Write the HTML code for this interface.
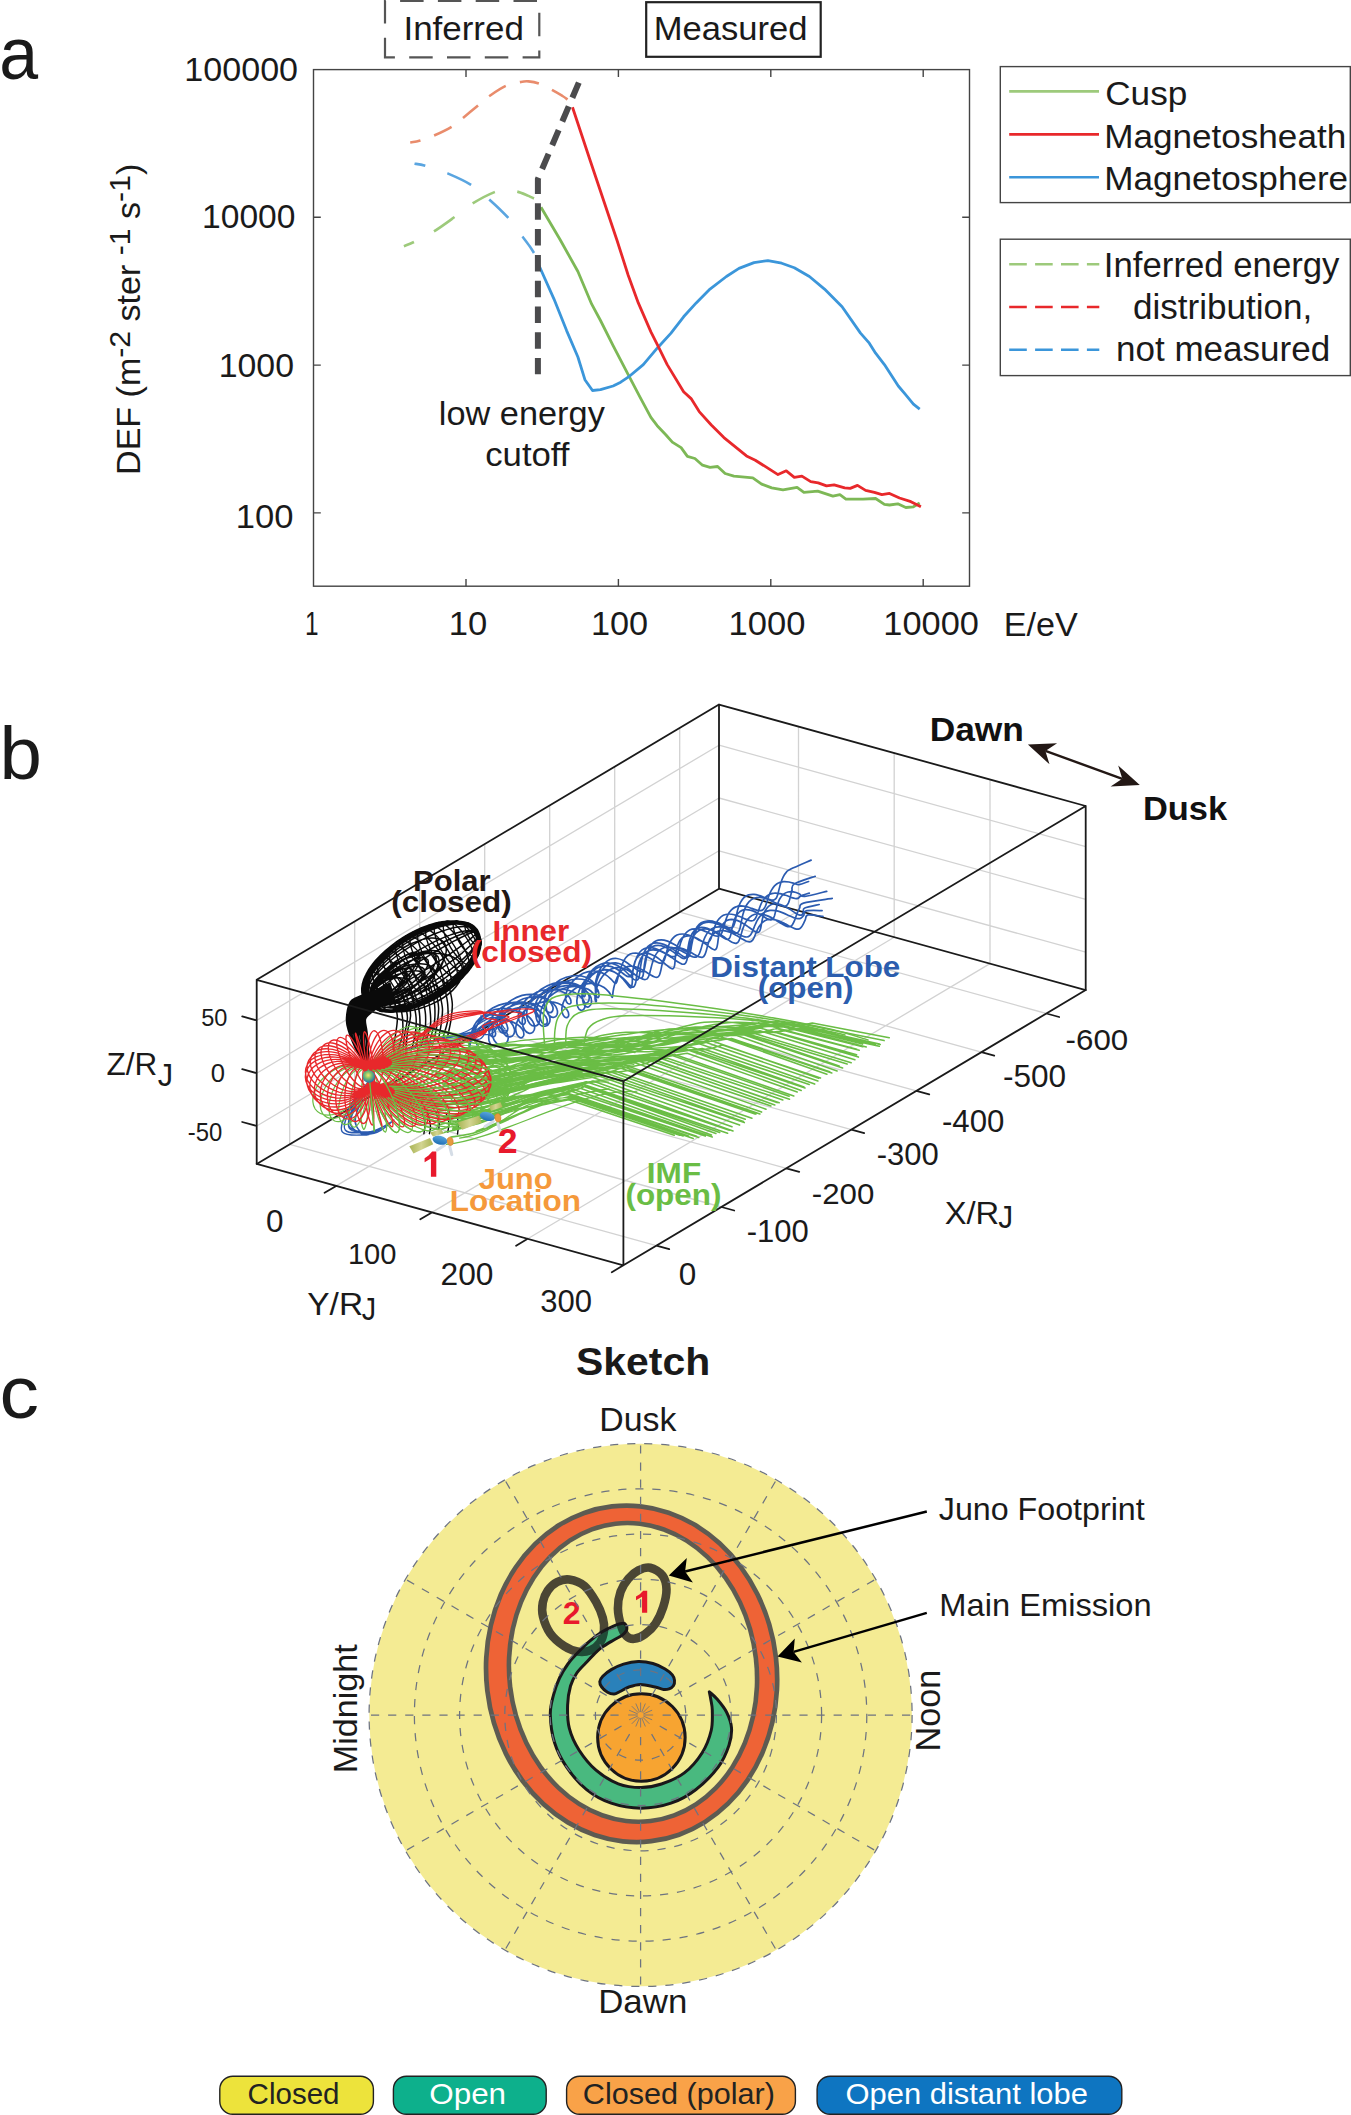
<!DOCTYPE html>
<html><head><meta charset="utf-8"><title>Figure</title>
<style>
html,body{margin:0;padding:0;background:#fff;}
svg{display:block;font-family:"Liberation Sans",sans-serif;}
</style></head>
<body>
<svg width="1351" height="2115" viewBox="0 0 1351 2115">
<rect width="1351" height="2115" fill="#fff"/>
<g id="gen_a">
<rect x="313.5" y="69.6" width="656.0" height="516.6" fill="none" stroke="#444" stroke-width="1.4"/>
<path d="M466.0,69.6v7.3 M466.0,586.2v-7.3" stroke="#444" stroke-width="1.4"/>
<path d="M618.4,69.6v7.3 M618.4,586.2v-7.3" stroke="#444" stroke-width="1.4"/>
<path d="M770.8,69.6v7.3 M770.8,586.2v-7.3" stroke="#444" stroke-width="1.4"/>
<path d="M923.2,69.6v7.3 M923.2,586.2v-7.3" stroke="#444" stroke-width="1.4"/>
<path d="M313.5,217.3h7.3 M969.5,217.3h-7.3" stroke="#444" stroke-width="1.4"/>
<path d="M313.5,365.1h7.3 M969.5,365.1h-7.3" stroke="#444" stroke-width="1.4"/>
<path d="M313.5,512.9h7.3 M969.5,512.9h-7.3" stroke="#444" stroke-width="1.4"/>
<path d="M403.9,246.2 C405.6,245.5 409.1,244.4 414.0,242.0 C418.9,239.6 426.9,235.7 433.6,231.6 C440.3,227.5 447.7,222.0 454.2,217.3 C460.7,212.6 465.9,207.7 472.6,203.5 C479.3,199.3 488.9,194.3 494.5,192.1 C500.1,189.9 502.2,190.6 506.0,190.5 C509.8,190.4 513.5,190.7 517.2,191.6 C521.0,192.5 525.7,194.8 528.5,195.9 C531.3,197.1 533.1,198.1 534.0,198.5" fill="none" stroke="#9dca7b" stroke-width="2.6" stroke-dasharray="25 22.7" stroke-dashoffset="14.1"/>
<path d="M414.5,163.7 C416.3,164.0 419.8,164.1 425.3,165.7 C430.8,167.3 439.8,170.2 447.4,173.3 C454.9,176.5 463.6,180.2 470.6,184.6 C477.6,189.0 483.1,194.0 489.5,199.7 C495.9,205.4 503.4,212.5 508.9,218.6 C514.4,224.7 518.7,231.6 522.2,236.2 C525.7,240.8 527.7,243.4 529.7,246.2 C531.7,249.0 533.3,251.9 534.0,253.0" fill="none" stroke="#5aa5e0" stroke-width="2.6" stroke-dasharray="26.5 23.3" stroke-dashoffset="15.5"/>
<path d="M410.2,142.5 C411.9,142.2 416.3,141.7 420.3,140.5 C424.3,139.3 428.9,137.8 434.1,135.5 C439.3,133.2 446.9,129.6 451.7,126.7 C456.5,123.8 458.6,121.5 463.0,117.9 C467.4,114.3 473.8,109.0 478.2,105.3 C482.6,101.6 484.9,99.2 489.5,96.0 C494.1,92.8 500.6,88.2 505.8,85.9 C511.0,83.6 517.1,82.7 520.9,81.9 C524.7,81.2 525.4,81.1 528.5,81.4 C531.6,81.7 535.8,82.4 539.8,83.9 C543.8,85.4 548.6,88.2 552.4,90.2 C556.2,92.2 560.0,94.5 562.5,96.0 C565.0,97.5 566.7,98.9 567.5,99.5" fill="none" stroke="#e98c6c" stroke-width="2.6" stroke-dasharray="19.5 14.5" stroke-dashoffset="9"/>
<polyline points="541.0,207.2 560.3,240.0 577.9,271.5 591.7,304.2 600.5,320.5 613.1,345.7 628.2,374.6 640.8,398.6 650.9,417.4 657.2,425.7 666.0,435.0 672.3,442.1 681.1,447.6 687.4,456.4 694.9,458.5 702.5,465.2 710.0,467.3 717.6,466.5 725.1,473.5 733.9,476.1 752.8,477.8 761.6,484.1 771.7,487.9 783.0,489.9 797.1,487.4 803.9,492.4 817.7,491.2 832.9,496.2 839.9,494.7 845.9,499.2 863.0,499.2 875.6,498.5 884.4,504.3 889.5,505.0 897.8,503.8 905.8,507.5 913.4,506.8 919.7,503.0" fill="none" stroke="#7db856" stroke-width="2.8" stroke-linejoin="round"/>
<polyline points="538.9,265.2 554.0,299.1 566.6,330.6 577.9,357.0 584.9,379.7 592.5,390.5 600.5,389.7 613.1,386.0 620.7,382.2 628.2,377.2 643.3,364.6 657.2,348.2 671.0,333.1 683.6,316.8 696.2,302.9 710.0,289.1 726.4,276.5 739.0,268.4 754.0,262.6 767.9,260.6 781.7,263.2 794.3,267.7 809.4,276.5 824.5,289.1 842.1,306.7 860.5,333.1 869.3,343.2 875.6,353.2 884.4,364.6 898.3,386.0 905.8,394.8 913.4,404.1 919.7,409.1" fill="none" stroke="#3b96da" stroke-width="2.8" stroke-linejoin="round"/>
<polyline points="572.5,107.3 590.0,160.0 616.9,240.0 628.2,275.2 638.3,302.9 650.9,331.9 657.2,344.4 667.2,364.6 683.6,391.8 691.1,398.6 699.2,411.6 711.3,425.0 723.9,437.6 746.5,455.9 755.3,460.2 778.0,474.6 786.3,470.8 794.3,477.3 801.9,476.1 810.7,481.6 818.2,482.9 826.5,485.9 834.1,484.9 844.7,487.9 850.2,488.4 857.5,485.4 865.6,490.4 874.4,492.4 881.9,494.7 889.5,493.4 899.5,498.0 910.9,501.7 920.9,506.8" fill="none" stroke="#e8282b" stroke-width="2.8" stroke-linejoin="round"/>
<path d="M578.8,82.6 L537.9,179 L537.9,374.3" fill="none" stroke="#4b4b4d" stroke-width="6" stroke-dasharray="16.5 9.3"/>
<text transform="translate(-0.70,79.06) scale(0.9400,1)" font-size="74.36" fill="#1a1a1a">a</text>
<path d="M385,57.4V0.8H539.3V57.4Z" fill="none" stroke="#555" stroke-width="2.2" stroke-dasharray="23.5 14.3" stroke-dashoffset="3.9"/>
<text transform="translate(403.45,39.50) scale(1.0311,1)" font-size="33.90" fill="#1a1a1a">Inferred</text>
<rect x="646.2" y="2.2" width="174.5" height="54.6" fill="none" stroke="#222" stroke-width="2.2"/>
<text transform="translate(653.73,40.00) scale(1.0158,1)" font-size="34.04" fill="#1a1a1a">Measured</text>
<text transform="translate(184.34,81.10) scale(1.0165,1)" font-size="33.53" fill="#1a1a1a">100000</text>
<text transform="translate(202.08,228.30) scale(1.0021,1)" font-size="33.53" fill="#1a1a1a">10000</text>
<text transform="translate(218.66,377.20) scale(1.0098,1)" font-size="33.53" fill="#1a1a1a">1000</text>
<text transform="translate(235.81,527.80) scale(1.0320,1)" font-size="33.53" fill="#1a1a1a">100</text>
<text transform="translate(305.07,634.70) scale(0.7269,1)" font-size="33.53" fill="#1a1a1a">1</text>
<text transform="translate(448.80,634.70) scale(1.0321,1)" font-size="33.53" fill="#1a1a1a">10</text>
<text transform="translate(590.93,634.70) scale(1.0224,1)" font-size="33.53" fill="#1a1a1a">100</text>
<text transform="translate(728.51,634.70) scale(1.0309,1)" font-size="33.53" fill="#1a1a1a">1000</text>
<text transform="translate(883.32,634.70) scale(1.0256,1)" font-size="33.53" fill="#1a1a1a">10000</text>
<text transform="translate(1003.67,636.00) scale(1.0211,1)" font-size="33.48" fill="#1a1a1a">E/eV</text>
<text transform="translate(140.3,474.92) rotate(-90) scale(1.0070,1)" fill="#1a1a1a" xml:space="preserve"><tspan font-size="33.8" dy="0">DEF (m</tspan><tspan font-size="30" dy="-10.3">-2</tspan><tspan font-size="33.8" dy="10.3"> ster </tspan><tspan font-size="30" dy="-10.3">-1</tspan><tspan font-size="33.8" dy="10.3"> s</tspan><tspan font-size="30" dy="-10.3">-1</tspan><tspan font-size="33.8" dy="10.3">)</tspan></text>
<text transform="translate(438.77,425.30) scale(1.0599,1)" font-size="32.40" fill="#1a1a1a">low energy</text>
<text transform="translate(485.21,466.40) scale(1.0719,1)" font-size="32.40" fill="#1a1a1a">cutoff</text>
<rect x="1000.3" y="66.6" width="350" height="136" fill="#fff" stroke="#444" stroke-width="1.4"/>
<path d="M1009.2,91.4H1099" stroke="#9dca7b" stroke-width="2.6"/>
<text transform="translate(1105.24,104.80) scale(1.0680,1)" font-size="32.91" fill="#1a1a1a">Cusp</text>
<path d="M1009.2,134.4H1099" stroke="#e8282b" stroke-width="2.6"/>
<text transform="translate(1104.19,147.50) scale(1.0670,1)" font-size="32.91" fill="#1a1a1a">Magnetosheath</text>
<path d="M1009.2,177.2H1099" stroke="#3b96da" stroke-width="2.6"/>
<text transform="translate(1104.19,190.30) scale(1.0673,1)" font-size="32.91" fill="#1a1a1a">Magnetosphere</text>
<rect x="1000.3" y="239.2" width="350" height="136.4" fill="#fff" stroke="#444" stroke-width="1.4"/>
<path d="M1009.2,264.3H1099.3" stroke="#9dca7b" stroke-width="2.6" stroke-dasharray="17.6 8.3"/>
<path d="M1009.2,307H1099.3" stroke="#e8282b" stroke-width="2.6" stroke-dasharray="17.6 8.3"/>
<path d="M1009.2,349.8H1099.3" stroke="#3b96da" stroke-width="2.6" stroke-dasharray="17.6 8.3"/>
<text transform="translate(1103.87,277.10) scale(0.9960,1)" font-size="34.89" fill="#1a1a1a">Inferred energy</text>
<text transform="translate(1132.90,318.50) scale(1.0061,1)" font-size="34.89" fill="#1a1a1a">distribution,</text>
<text transform="translate(1116.02,360.80) scale(1.0041,1)" font-size="34.89" fill="#1a1a1a">not measured</text>
</g>
<g id="gen_b">
<path d="M289.7,1144.3L656.4,1245.7M289.7,1144.3L289.7,960.2M354.7,1105.6L721.4,1207.0M354.7,1105.6L354.7,921.5M419.7,1066.9L786.4,1168.3M419.7,1066.9L419.7,882.8M484.7,1028.2L851.4,1129.6M484.7,1028.2L484.7,844.1M549.7,989.5L916.4,1090.9M549.7,989.5L549.7,805.4M614.7,950.8L981.4,1052.2M614.7,950.8L614.7,766.7M679.7,912.1L1046.4,1013.5M679.7,912.1L679.7,728.0M336.2,1185.9L798.5,910.7M798.5,910.7L798.5,726.6M431.9,1212.4L894.2,937.2M894.2,937.2L894.2,753.1M527.7,1238.8L990.0,963.6M990.0,963.6L990.0,779.5M256.7,1126.0L719.0,850.8M719.0,850.8L1085.7,952.2M256.7,1073.2L719.0,798.0M719.0,798.0L1085.7,899.4M256.7,1020.4L719.0,745.2M719.0,745.2L1085.7,846.6" fill="none" stroke="#d2d2d2" stroke-width="1.3"/>
<path d="M256.7,1163.9L719.0,888.7M719.0,888.7L1085.7,990.1M719.0,888.7L719.0,704.6" fill="none" stroke="#1a1a1a" stroke-width="1.8" stroke-linecap="round"/>
<path d="M477.5,931.8 C478.0,933.0 479.8,936.5 480.2,939.2 C480.6,941.9 480.5,944.8 480.0,947.9 C479.4,951.0 478.3,954.3 476.8,957.6 C475.3,960.9 473.3,964.4 470.9,967.7 C468.6,971.1 465.7,974.5 462.6,977.8 C459.4,981.1 455.9,984.3 452.2,987.3 C448.5,990.3 444.4,993.2 440.3,995.8 C436.2,998.3 431.8,1000.7 427.5,1002.7 C423.1,1004.8 418.7,1006.5 414.4,1007.9 C410.1,1009.3 405.7,1010.4 401.7,1011.0 C397.6,1011.7 393.6,1012.0 390.0,1011.9 C386.3,1011.8 382.9,1011.3 379.9,1010.5 C376.9,1009.6 374.2,1008.4 371.9,1006.8 C369.7,1005.3 367.8,1003.4 366.5,1001.2 C365.1,999.0 364.2,996.5 363.8,993.8 C363.4,991.1 363.5,988.2 364.0,985.1 C364.6,982.0 365.7,978.7 367.2,975.4 C368.7,972.1 370.7,968.6 373.1,965.3 C375.4,961.9 378.3,958.5 381.4,955.2 C384.6,951.9 388.1,948.7 391.8,945.7 C395.5,942.7 399.6,939.8 403.7,937.2 C407.8,934.7 412.2,932.3 416.5,930.3 C420.9,928.2 425.3,926.5 429.6,925.1 C433.9,923.7 438.3,922.6 442.3,922.0 C446.4,921.3 450.4,921.0 454.0,921.1 C457.7,921.2 461.1,921.7 464.1,922.5 C467.1,923.4 469.8,924.6 472.1,926.2 C474.3,927.7 476.6,930.9 477.5,931.8 M477.0,931.3 C477.4,932.5 479.2,935.9 479.6,938.6 C480.0,941.2 479.9,944.2 479.3,947.2 C478.7,950.3 477.6,953.6 476.1,956.8 C474.6,960.1 472.6,963.6 470.2,966.9 C467.8,970.2 464.9,973.7 461.8,976.9 C458.7,980.2 455.1,983.4 451.4,986.4 C447.7,989.4 443.6,992.2 439.5,994.8 C435.4,997.4 431.0,999.8 426.7,1001.8 C422.4,1003.9 417.9,1005.6 413.6,1007.0 C409.3,1008.4 405.0,1009.5 400.9,1010.2 C396.9,1010.8 392.9,1011.2 389.3,1011.1 C385.7,1011.0 382.2,1010.6 379.2,1009.8 C376.3,1009.0 373.6,1007.8 371.3,1006.2 C369.1,1004.7 367.3,1002.8 365.9,1000.7 C364.6,998.6 363.7,996.1 363.3,993.4 C362.9,990.8 363.0,987.8 363.6,984.8 C364.2,981.7 365.3,978.4 366.8,975.2 C368.3,971.9 370.4,968.5 372.8,965.1 C375.2,961.8 378.0,958.3 381.1,955.1 C384.3,951.8 387.8,948.6 391.6,945.6 C395.3,942.6 399.3,939.8 403.5,937.2 C407.6,934.6 412.0,932.2 416.3,930.2 C420.6,928.1 425.0,926.4 429.3,925.0 C433.6,923.6 438.0,922.5 442.0,921.8 C446.1,921.2 450.0,920.8 453.7,920.9 C457.3,921.0 460.7,921.4 463.7,922.2 C466.7,923.0 469.4,924.2 471.6,925.8 C473.8,927.3 476.1,930.4 477.0,931.3 M478.2,932.3 C478.6,933.5 480.4,936.8 480.7,939.5 C481.1,942.1 481.0,945.0 480.4,948.0 C479.8,951.0 478.7,954.3 477.1,957.5 C475.6,960.8 473.6,964.2 471.2,967.5 C468.8,970.9 465.9,974.3 462.7,977.5 C459.6,980.7 456.0,983.9 452.3,986.9 C448.6,989.9 444.5,992.8 440.4,995.4 C436.3,997.9 431.9,1000.3 427.6,1002.4 C423.3,1004.4 418.8,1006.2 414.6,1007.6 C410.3,1009.0 406.0,1010.1 401.9,1010.8 C397.9,1011.5 393.9,1011.8 390.3,1011.8 C386.7,1011.8 383.3,1011.3 380.3,1010.5 C377.4,1009.8 374.7,1008.6 372.5,1007.1 C370.3,1005.6 368.5,1003.8 367.1,1001.7 C365.8,999.6 365.0,997.1 364.6,994.5 C364.2,991.9 364.4,988.9 365.0,985.9 C365.6,982.9 366.7,979.7 368.2,976.4 C369.7,973.2 371.8,969.7 374.2,966.4 C376.6,963.1 379.5,959.7 382.6,956.5 C385.7,953.2 389.3,950.0 393.0,947.0 C396.7,944.0 400.8,941.2 404.9,938.6 C409.1,936.0 413.4,933.6 417.7,931.6 C422.0,929.5 426.5,927.8 430.8,926.3 C435.1,924.9 439.4,923.9 443.4,923.2 C447.5,922.5 451.4,922.1 455.0,922.2 C458.6,922.2 462.0,922.6 465.0,923.4 C468.0,924.2 470.7,925.4 472.9,926.8 C475.1,928.3 477.3,931.4 478.2,932.3 M477.9,931.4 C478.3,932.5 480.0,935.8 480.4,938.4 C480.7,941.0 480.6,943.9 480.0,946.9 C479.3,949.8 478.2,953.0 476.6,956.3 C475.1,959.5 473.0,962.8 470.6,966.1 C468.2,969.4 465.3,972.8 462.1,976.0 C459.0,979.2 455.4,982.5 451.7,985.4 C448.0,988.4 443.9,991.3 439.8,993.8 C435.7,996.4 431.3,998.8 427.0,1000.9 C422.7,1002.9 418.2,1004.7 414.0,1006.1 C409.7,1007.6 405.4,1008.7 401.4,1009.4 C397.4,1010.1 393.4,1010.5 389.8,1010.5 C386.3,1010.5 382.9,1010.1 379.9,1009.3 C377.0,1008.6 374.3,1007.5 372.2,1006.0 C370.0,1004.6 368.2,1002.8 366.9,1000.7 C365.6,998.7 364.8,996.3 364.4,993.7 C364.1,991.1 364.2,988.2 364.9,985.2 C365.5,982.3 366.6,979.0 368.2,975.8 C369.7,972.6 371.8,969.2 374.2,965.9 C376.6,962.6 379.5,959.3 382.7,956.0 C385.8,952.8 389.4,949.6 393.1,946.7 C396.9,943.7 400.9,940.8 405.0,938.2 C409.2,935.7 413.5,933.3 417.8,931.2 C422.1,929.2 426.6,927.4 430.8,925.9 C435.1,924.5 439.4,923.4 443.4,922.7 C447.5,922.0 451.4,921.6 455.0,921.6 C458.5,921.6 461.9,922.0 464.9,922.7 C467.8,923.5 470.5,924.6 472.7,926.0 C474.8,927.5 477.0,930.5 477.9,931.4 M477.8,932.2 C478.2,933.3 479.8,936.4 480.1,938.9 C480.3,941.4 480.1,944.1 479.4,947.0 C478.7,949.9 477.6,953.0 475.9,956.1 C474.3,959.3 472.2,962.6 469.8,965.8 C467.3,969.0 464.4,972.3 461.2,975.5 C458.0,978.7 454.4,981.8 450.7,984.8 C447.0,987.7 442.9,990.6 438.8,993.2 C434.7,995.7 430.3,998.1 426.0,1000.2 C421.7,1002.3 417.3,1004.1 413.1,1005.6 C408.8,1007.1 404.6,1008.2 400.6,1009.0 C396.6,1009.8 392.7,1010.3 389.2,1010.3 C385.7,1010.4 382.4,1010.1 379.5,1009.5 C376.6,1008.8 374.0,1007.8 371.9,1006.5 C369.8,1005.1 368.1,1003.4 366.9,1001.5 C365.6,999.5 364.9,997.2 364.6,994.7 C364.3,992.3 364.5,989.5 365.2,986.6 C365.9,983.7 367.1,980.6 368.7,977.5 C370.3,974.4 372.4,971.1 374.9,967.8 C377.3,964.6 380.3,961.3 383.4,958.1 C386.6,955.0 390.2,951.8 393.9,948.9 C397.7,945.9 401.7,943.1 405.9,940.5 C410.0,937.9 414.3,935.5 418.6,933.4 C422.9,931.4 427.3,929.5 431.6,928.1 C435.8,926.6 440.1,925.4 444.0,924.6 C448.0,923.8 451.9,923.4 455.4,923.3 C458.9,923.2 462.3,923.5 465.1,924.2 C468.0,924.8 470.6,925.8 472.7,927.2 C474.8,928.5 476.9,931.3 477.8,932.2 M477.6,930.9 C477.9,931.9 479.3,934.7 479.5,936.9 C479.6,939.2 479.3,941.8 478.5,944.5 C477.7,947.1 476.4,950.1 474.7,953.0 C472.9,956.0 470.7,959.1 468.2,962.2 C465.7,965.3 462.7,968.5 459.4,971.5 C456.2,974.6 452.6,977.7 448.8,980.6 C445.1,983.5 441.0,986.3 436.9,988.9 C432.8,991.4 428.4,993.9 424.2,996.0 C419.9,998.1 415.6,1000.0 411.4,1001.6 C407.2,1003.1 403.0,1004.4 399.1,1005.4 C395.3,1006.3 391.5,1006.9 388.1,1007.1 C384.7,1007.4 381.5,1007.3 378.7,1006.8 C375.9,1006.4 373.5,1005.5 371.5,1004.4 C369.5,1003.3 367.9,1001.8 366.9,1000.1 C365.8,998.3 365.1,996.3 365.0,994.0 C364.9,991.7 365.2,989.2 366.0,986.5 C366.8,983.8 368.1,980.9 369.8,977.9 C371.5,975.0 373.7,971.8 376.3,968.8 C378.8,965.7 381.8,962.5 385.0,959.4 C388.3,956.3 391.9,953.2 395.7,950.4 C399.4,947.5 403.5,944.6 407.6,942.1 C411.7,939.5 416.1,937.1 420.3,935.0 C424.6,932.8 428.9,930.9 433.1,929.4 C437.3,927.8 441.4,926.5 445.3,925.6 C449.2,924.7 453.0,924.1 456.4,923.8 C459.8,923.6 463.0,923.7 465.8,924.1 C468.6,924.6 471.0,925.4 473.0,926.5 C475.0,927.7 476.9,930.1 477.6,930.9 M477.1,931.6 C477.3,932.5 478.4,934.8 478.4,936.8 C478.3,938.8 477.8,941.0 476.8,943.4 C475.8,945.8 474.4,948.5 472.5,951.2 C470.7,953.9 468.3,956.9 465.7,959.7 C463.0,962.6 459.9,965.7 456.6,968.6 C453.3,971.5 449.7,974.5 445.9,977.3 C442.1,980.1 438.0,982.9 433.9,985.5 C429.8,988.1 425.5,990.5 421.3,992.7 C417.1,994.9 412.8,996.9 408.7,998.6 C404.6,1000.2 400.5,1001.7 396.8,1002.8 C393.0,1003.9 389.4,1004.7 386.1,1005.2 C382.9,1005.7 379.8,1005.9 377.2,1005.7 C374.7,1005.5 372.4,1005.0 370.6,1004.1 C368.8,1003.3 367.4,1002.1 366.5,1000.7 C365.6,999.3 365.2,997.5 365.2,995.6 C365.3,993.6 365.8,991.3 366.8,988.9 C367.7,986.5 369.2,983.9 371.1,981.1 C372.9,978.4 375.3,975.5 377.9,972.6 C380.5,969.7 383.6,966.7 386.9,963.8 C390.2,960.8 393.9,957.9 397.7,955.0 C401.5,952.2 405.6,949.4 409.7,946.9 C413.8,944.3 418.1,941.8 422.3,939.7 C426.5,937.5 430.8,935.5 434.9,933.8 C439.0,932.1 443.1,930.7 446.8,929.6 C450.6,928.4 454.2,927.6 457.5,927.1 C460.7,926.7 463.8,926.5 466.3,926.7 C468.9,926.9 471.2,927.4 473.0,928.2 C474.8,929.0 476.4,931.1 477.1,931.6 M477.8,933.5 C477.9,934.2 478.7,936.0 478.5,937.7 C478.2,939.3 477.5,941.2 476.3,943.3 C475.1,945.4 473.5,947.7 471.5,950.2 C469.5,952.6 467.0,955.3 464.2,957.9 C461.4,960.6 458.2,963.4 454.8,966.2 C451.4,969.0 447.7,971.8 443.8,974.6 C440.0,977.3 435.9,980.1 431.8,982.6 C427.7,985.2 423.5,987.7 419.3,989.9 C415.2,992.2 411.0,994.3 407.0,996.1 C403.0,997.9 399.1,999.6 395.4,1000.9 C391.8,1002.2 388.3,1003.3 385.3,1004.0 C382.2,1004.8 379.3,1005.2 377.0,1005.4 C374.6,1005.5 372.5,1005.3 371.0,1004.8 C369.4,1004.3 368.2,1003.5 367.5,1002.4 C366.9,1001.3 366.6,999.9 366.9,998.3 C367.1,996.7 367.9,994.8 369.0,992.7 C370.2,990.6 371.8,988.2 373.9,985.8 C375.9,983.4 378.4,980.7 381.1,978.0 C383.9,975.4 387.1,972.5 390.5,969.8 C393.9,967.0 397.7,964.1 401.5,961.4 C405.3,958.7 409.4,955.9 413.5,953.4 C417.6,950.8 421.9,948.3 426.0,946.1 C430.2,943.8 434.4,941.7 438.4,939.9 C442.3,938.0 446.3,936.4 449.9,935.1 C453.5,933.7 457.0,932.7 460.1,931.9 C463.2,931.2 466.0,930.7 468.4,930.6 C470.8,930.5 472.8,930.7 474.4,931.1 C476.0,931.6 477.2,933.1 477.8,933.5 M478.3,932.3 C478.3,932.8 478.8,934.0 478.3,935.3 C477.8,936.5 476.9,938.1 475.5,939.9 C474.1,941.6 472.3,943.6 470.1,945.8 C467.9,947.9 465.3,950.3 462.4,952.8 C459.4,955.2 456.1,957.8 452.6,960.4 C449.2,963.0 445.3,965.8 441.5,968.4 C437.6,971.0 433.5,973.7 429.4,976.3 C425.3,978.8 421.1,981.4 417.0,983.7 C412.9,986.0 408.8,988.3 404.9,990.2 C401.1,992.2 397.2,994.1 393.8,995.6 C390.3,997.2 387.0,998.5 384.1,999.5 C381.2,1000.5 378.6,1001.3 376.4,1001.8 C374.2,1002.2 372.4,1002.4 371.1,1002.3 C369.7,1002.1 368.8,1001.7 368.4,1001.0 C367.9,1000.3 367.9,999.2 368.4,998.0 C368.9,996.7 369.8,995.2 371.2,993.4 C372.6,991.7 374.4,989.6 376.6,987.5 C378.8,985.3 381.4,982.9 384.3,980.5 C387.3,978.1 390.6,975.4 394.1,972.8 C397.5,970.2 401.4,967.5 405.2,964.9 C409.1,962.2 413.2,959.5 417.3,957.0 C421.4,954.4 425.6,951.9 429.7,949.6 C433.8,947.2 437.9,945.0 441.8,943.0 C445.6,941.0 449.4,939.2 452.9,937.7 C456.4,936.1 459.7,934.8 462.6,933.7 C465.5,932.7 468.1,931.9 470.3,931.5 C472.4,931.0 474.3,930.9 475.6,931.0 C477.0,931.1 477.9,932.1 478.3,932.3 M476.7,931.8 C476.6,932.1 476.7,932.7 476.0,933.6 C475.3,934.5 474.1,935.7 472.5,937.1 C470.9,938.5 468.9,940.1 466.5,942.0 C464.1,943.8 461.3,945.9 458.2,948.1 C455.2,950.3 451.7,952.7 448.2,955.1 C444.6,957.6 440.7,960.1 436.8,962.7 C432.8,965.2 428.7,967.9 424.6,970.4 C420.6,973.0 416.4,975.5 412.4,977.9 C408.3,980.3 404.3,982.7 400.6,984.9 C396.8,987.0 393.1,989.0 389.8,990.8 C386.5,992.6 383.4,994.2 380.7,995.6 C378.0,996.9 375.6,998.0 373.7,998.8 C371.7,999.6 370.1,1000.2 369.0,1000.4 C367.9,1000.7 367.3,1000.6 367.1,1000.3 C366.8,1000.0 367.1,999.4 367.8,998.5 C368.5,997.6 369.7,996.4 371.3,995.0 C372.9,993.6 374.9,991.9 377.3,990.1 C379.7,988.3 382.5,986.2 385.6,984.0 C388.6,981.8 392.0,979.4 395.6,977.0 C399.2,974.5 403.1,971.9 407.0,969.4 C410.9,966.8 415.1,964.2 419.1,961.6 C423.2,959.1 427.4,956.5 431.4,954.1 C435.4,951.7 439.5,949.4 443.2,947.2 C447.0,945.1 450.6,943.0 453.9,941.2 C457.2,939.5 460.4,937.8 463.1,936.5 C465.7,935.2 468.2,934.1 470.1,933.3 C472.1,932.4 473.6,931.9 474.7,931.7 C475.8,931.4 476.4,931.7 476.7,931.8 M476.3,931.9 C476.7,932.9 478.3,936.0 478.6,938.4 C478.9,940.8 478.6,943.5 478.0,946.4 C477.3,949.2 476.1,952.3 474.5,955.4 C472.9,958.5 470.8,961.8 468.4,965.0 C466.0,968.2 463.1,971.5 459.9,974.6 C456.8,977.8 453.2,981.0 449.5,983.9 C445.8,986.9 441.8,989.8 437.7,992.4 C433.6,995.0 429.3,997.4 425.1,999.5 C420.8,1001.7 416.5,1003.5 412.3,1005.1 C408.1,1006.6 403.9,1007.8 399.9,1008.7 C396.0,1009.5 392.1,1010.1 388.7,1010.2 C385.2,1010.3 381.9,1010.1 379.0,1009.6 C376.2,1009.0 373.6,1008.0 371.5,1006.8 C369.4,1005.5 367.7,1003.9 366.5,1002.0 C365.3,1000.1 364.6,997.8 364.3,995.4 C364.0,993.0 364.2,990.3 364.9,987.5 C365.6,984.6 366.8,981.5 368.4,978.4 C370.0,975.3 372.1,972.1 374.5,968.9 C376.9,965.7 379.8,962.3 383.0,959.2 C386.1,956.0 389.7,952.8 393.4,949.9 C397.1,946.9 401.1,944.0 405.2,941.4 C409.2,938.8 413.6,936.4 417.8,934.3 C422.0,932.2 426.4,930.3 430.6,928.8 C434.8,927.2 439.0,926.0 443.0,925.1 C446.9,924.3 450.7,923.8 454.2,923.6 C457.7,923.5 461.0,923.7 463.9,924.3 C466.7,924.9 469.3,925.8 471.3,927.1 C473.4,928.3 475.5,931.1 476.3,931.9 M476.5,933.1 C476.8,934.3 478.5,937.7 478.8,940.3 C479.1,942.9 478.9,945.8 478.2,948.8 C477.6,951.8 476.4,955.0 474.8,958.2 C473.1,961.4 471.0,964.7 468.6,968.0 C466.1,971.2 463.1,974.5 459.9,977.7 C456.7,980.8 453.1,983.9 449.3,986.8 C445.5,989.7 441.4,992.5 437.2,994.9 C433.1,997.4 428.7,999.7 424.3,1001.6 C420.0,1003.5 415.5,1005.2 411.2,1006.5 C406.9,1007.8 402.6,1008.8 398.5,1009.4 C394.5,1010.0 390.6,1010.3 387.0,1010.1 C383.4,1010.0 380.0,1009.5 377.1,1008.7 C374.1,1007.8 371.5,1006.6 369.3,1005.1 C367.2,1003.6 365.4,1001.7 364.2,999.5 C362.9,997.4 362.1,995.0 361.8,992.3 C361.5,989.7 361.7,986.8 362.4,983.8 C363.1,980.9 364.2,977.6 365.9,974.5 C367.5,971.3 369.6,967.9 372.1,964.7 C374.5,961.4 377.5,958.1 380.7,955.0 C383.9,951.8 387.5,948.7 391.3,945.8 C395.1,942.9 399.2,940.2 403.4,937.7 C407.5,935.2 412.0,933.0 416.3,931.0 C420.6,929.1 425.1,927.4 429.4,926.1 C433.7,924.8 438.0,923.8 442.1,923.2 C446.1,922.6 450.1,922.4 453.6,922.5 C457.2,922.6 460.6,923.1 463.5,924.0 C466.5,924.8 469.1,926.0 471.3,927.6 C473.4,929.1 475.6,932.2 476.5,933.1 M477.5,932.5 C477.9,933.6 479.6,936.8 480.0,939.3 C480.3,941.8 480.2,944.7 479.6,947.6 C479.0,950.5 477.9,953.7 476.4,956.9 C474.9,960.1 472.9,963.4 470.5,966.7 C468.2,970.0 465.3,973.4 462.2,976.6 C459.2,979.9 455.7,983.1 452.0,986.1 C448.3,989.1 444.3,992.0 440.3,994.6 C436.3,997.2 432.0,999.7 427.7,1001.8 C423.5,1003.9 419.1,1005.8 414.9,1007.3 C410.7,1008.8 406.5,1010.0 402.5,1010.8 C398.5,1011.6 394.6,1012.1 391.1,1012.2 C387.6,1012.2 384.2,1011.9 381.3,1011.3 C378.4,1010.6 375.8,1009.6 373.6,1008.2 C371.5,1006.9 369.7,1005.1 368.4,1003.2 C367.1,1001.2 366.2,998.8 365.9,996.3 C365.5,993.8 365.6,990.9 366.2,988.0 C366.8,985.1 367.9,981.9 369.4,978.7 C371.0,975.5 373.0,972.2 375.3,968.9 C377.7,965.6 380.5,962.2 383.6,959.0 C386.7,955.8 390.2,952.5 393.8,949.5 C397.5,946.5 401.5,943.6 405.5,941.0 C409.6,938.4 413.9,935.9 418.1,933.8 C422.3,931.7 426.7,929.8 430.9,928.3 C435.1,926.8 439.4,925.6 443.3,924.8 C447.3,924.0 451.2,923.5 454.7,923.5 C458.3,923.4 461.6,923.7 464.5,924.3 C467.4,925.0 470.1,926.0 472.2,927.4 C474.4,928.7 476.6,931.6 477.5,932.5 M476.4,933.9 C476.8,935.0 478.4,938.2 478.7,940.7 C479.0,943.3 478.8,946.0 478.1,948.9 C477.5,951.8 476.4,954.8 474.8,957.9 C473.3,961.0 471.2,964.2 468.9,967.3 C466.5,970.4 463.7,973.6 460.6,976.6 C457.5,979.6 454.0,982.6 450.4,985.4 C446.8,988.2 442.8,990.8 438.8,993.2 C434.8,995.6 430.6,997.8 426.4,999.6 C422.3,1001.5 418.0,1003.1 413.9,1004.4 C409.7,1005.6 405.6,1006.6 401.7,1007.2 C397.8,1007.8 394.1,1008.0 390.6,1007.9 C387.2,1007.8 383.9,1007.3 381.1,1006.5 C378.3,1005.7 375.8,1004.6 373.7,1003.1 C371.6,1001.7 369.9,999.9 368.7,997.8 C367.5,995.8 366.8,993.4 366.5,990.9 C366.2,988.4 366.4,985.6 367.0,982.8 C367.7,979.9 368.8,976.8 370.3,973.8 C371.9,970.7 373.9,967.5 376.3,964.4 C378.7,961.3 381.5,958.1 384.6,955.1 C387.6,952.0 391.1,949.0 394.7,946.3 C398.4,943.5 402.3,940.8 406.3,938.5 C410.3,936.1 414.5,933.9 418.7,932.0 C422.9,930.2 427.2,928.6 431.3,927.3 C435.4,926.0 439.6,925.1 443.4,924.5 C447.3,923.9 451.1,923.7 454.5,923.8 C458.0,923.9 461.2,924.3 464.0,925.1 C466.9,925.9 469.4,927.1 471.5,928.6 C473.5,930.0 475.6,933.0 476.4,933.9 M474.0,931.9 C474.4,933.0 476.2,936.2 476.6,938.7 C477.0,941.2 476.9,944.1 476.4,947.0 C475.8,949.9 474.8,953.1 473.4,956.3 C471.9,959.4 470.0,962.8 467.7,966.1 C465.4,969.3 462.7,972.7 459.7,975.9 C456.7,979.1 453.3,982.3 449.7,985.3 C446.1,988.2 442.2,991.1 438.3,993.7 C434.3,996.3 430.1,998.7 426.0,1000.8 C421.8,1002.9 417.5,1004.7 413.4,1006.2 C409.3,1007.7 405.1,1008.8 401.2,1009.6 C397.3,1010.4 393.4,1010.8 389.9,1010.9 C386.4,1011.0 383.1,1010.6 380.2,1010.0 C377.3,1009.3 374.7,1008.2 372.6,1006.9 C370.4,1005.5 368.6,1003.7 367.3,1001.7 C366.0,999.8 365.1,997.4 364.7,994.9 C364.3,992.4 364.4,989.5 365.0,986.6 C365.5,983.7 366.5,980.5 368.0,977.4 C369.4,974.2 371.3,970.8 373.6,967.6 C375.9,964.3 378.6,960.9 381.6,957.7 C384.6,954.5 388.0,951.3 391.6,948.4 C395.2,945.4 399.1,942.5 403.0,939.9 C407.0,937.3 411.2,934.9 415.4,932.8 C419.5,930.7 423.8,928.9 427.9,927.4 C432.1,925.9 436.2,924.8 440.1,924.0 C444.1,923.2 447.9,922.8 451.4,922.7 C454.9,922.7 458.2,923.0 461.1,923.7 C464.0,924.3 466.6,925.4 468.7,926.8 C470.9,928.1 473.1,931.0 474.0,931.9 M477.4,929.8 C477.9,931.0 479.6,934.1 480.0,936.6 C480.4,939.1 480.3,941.9 479.7,944.8 C479.2,947.7 478.1,950.9 476.7,954.1 C475.2,957.3 473.2,960.6 470.9,963.9 C468.6,967.2 465.8,970.6 462.8,973.9 C459.8,977.1 456.3,980.4 452.7,983.4 C449.1,986.4 445.2,989.4 441.2,992.0 C437.2,994.7 433.0,997.2 428.8,999.3 C424.6,1001.5 420.3,1003.4 416.1,1004.9 C412.0,1006.5 407.8,1007.7 403.9,1008.6 C399.9,1009.4 396.1,1010.0 392.6,1010.1 C389.1,1010.2 385.7,1010.0 382.8,1009.3 C379.9,1008.7 377.3,1007.7 375.1,1006.4 C373.0,1005.1 371.2,1003.4 369.9,1001.4 C368.6,999.5 367.7,997.2 367.3,994.7 C366.9,992.2 367.0,989.4 367.6,986.4 C368.1,983.5 369.2,980.4 370.7,977.2 C372.1,974.0 374.1,970.6 376.4,967.3 C378.7,964.0 381.5,960.6 384.5,957.4 C387.5,954.2 391.0,950.9 394.6,947.9 C398.2,944.9 402.1,941.9 406.1,939.2 C410.1,936.6 414.3,934.1 418.5,931.9 C422.7,929.8 427.0,927.9 431.2,926.3 C435.3,924.8 439.5,923.5 443.4,922.7 C447.4,921.8 451.2,921.3 454.7,921.2 C458.3,921.1 461.6,921.3 464.5,921.9 C467.4,922.5 470.0,923.5 472.2,924.9 C474.3,926.2 476.6,929.0 477.4,929.8 M474.5,931.0 C474.9,932.1 476.5,935.1 476.8,937.5 C477.1,939.8 477.0,942.5 476.4,945.3 C475.8,948.0 474.7,951.0 473.3,954.1 C471.8,957.1 469.8,960.3 467.6,963.4 C465.3,966.6 462.6,969.8 459.6,972.9 C456.6,976.0 453.3,979.1 449.8,982.0 C446.2,984.8 442.4,987.6 438.5,990.2 C434.7,992.7 430.5,995.1 426.5,997.2 C422.4,999.2 418.2,1001.0 414.2,1002.5 C410.2,1004.0 406.2,1005.2 402.4,1006.0 C398.6,1006.9 394.9,1007.4 391.5,1007.5 C388.1,1007.6 385.0,1007.4 382.2,1006.8 C379.4,1006.3 376.9,1005.3 374.9,1004.1 C372.8,1002.8 371.1,1001.2 369.9,999.4 C368.7,997.5 367.9,995.3 367.6,993.0 C367.3,990.6 367.4,987.9 368.0,985.2 C368.6,982.4 369.7,979.4 371.2,976.3 C372.6,973.3 374.6,970.1 376.9,967.0 C379.1,963.8 381.9,960.6 384.8,957.5 C387.8,954.4 391.2,951.3 394.7,948.5 C398.2,945.6 402.0,942.8 405.9,940.2 C409.8,937.7 413.9,935.3 417.9,933.3 C422.0,931.2 426.2,929.4 430.2,927.9 C434.2,926.4 438.3,925.2 442.0,924.4 C445.8,923.6 449.5,923.1 452.9,922.9 C456.3,922.8 459.5,923.0 462.2,923.6 C465.0,924.2 467.5,925.1 469.5,926.3 C471.6,927.6 473.7,930.3 474.5,931.0 M401.0,979.8 C401.1,980.2 401.6,981.3 401.6,982.1 C401.6,983.0 401.4,984.1 400.9,985.1 C400.5,986.1 399.8,987.3 399.0,988.4 C398.2,989.5 397.1,990.6 396.0,991.7 C394.9,992.8 393.5,993.9 392.2,994.9 C390.8,995.9 389.3,996.8 387.8,997.6 C386.3,998.4 384.7,999.1 383.3,999.6 C381.8,1000.2 380.3,1000.6 378.9,1000.8 C377.6,1001.1 376.3,1001.1 375.1,1001.1 C374.0,1001.0 373.0,1000.8 372.2,1000.4 C371.4,1000.0 370.8,999.4 370.3,998.8 C369.9,998.1 369.7,997.3 369.7,996.4 C369.7,995.5 370.0,994.5 370.4,993.5 C370.9,992.4 371.5,991.3 372.3,990.2 C373.2,989.1 374.2,987.9 375.3,986.8 C376.5,985.7 377.8,984.6 379.2,983.7 C380.5,982.7 382.1,981.8 383.5,981.0 C385.0,980.2 386.6,979.5 388.1,978.9 C389.6,978.4 391.1,978.0 392.4,977.7 C393.8,977.5 395.1,977.4 396.2,977.5 C397.3,977.6 398.4,977.8 399.1,978.2 C399.9,978.6 400.7,979.5 401.0,979.8 M461.9,966.3 C462.0,967.6 462.9,971.2 462.5,973.8 C462.0,976.5 460.9,979.3 459.3,982.1 C457.6,984.8 455.3,987.7 452.6,990.4 C449.9,993.0 446.6,995.7 443.0,998.0 C439.4,1000.3 435.3,1002.6 431.2,1004.4 C427.1,1006.2 422.5,1007.8 418.2,1009.0 C413.8,1010.2 409.2,1011.1 405.0,1011.5 C400.7,1011.9 396.5,1012.0 392.7,1011.6 C388.9,1011.3 385.3,1010.5 382.3,1009.4 C379.3,1008.3 376.6,1006.8 374.6,1005.0 C372.6,1003.2 371.2,1001.1 370.3,998.8 C369.5,996.5 369.3,993.9 369.8,991.2 C370.2,988.6 371.3,985.8 372.9,983.0 C374.6,980.2 376.9,977.4 379.6,974.7 C382.3,972.1 385.6,969.4 389.2,967.1 C392.8,964.7 396.9,962.5 401.0,960.7 C405.2,958.9 409.7,957.3 414.0,956.1 C418.4,954.9 423.0,954.0 427.2,953.6 C431.5,953.2 435.7,953.1 439.5,953.5 C443.3,953.8 446.9,954.6 449.9,955.7 C452.9,956.8 455.6,958.3 457.6,960.1 C459.6,961.9 461.1,965.3 461.9,966.3 M406.0,970.6 C406.2,971.1 406.9,972.2 406.9,973.3 C407.0,974.3 406.8,975.5 406.3,976.8 C405.9,978.1 405.2,979.6 404.2,981.0 C403.3,982.5 402.2,984.0 400.9,985.5 C399.6,987.0 398.0,988.5 396.5,990.0 C394.9,991.4 393.1,992.8 391.4,994.0 C389.6,995.2 387.8,996.3 386.0,997.2 C384.3,998.1 382.5,998.9 380.9,999.5 C379.3,1000.0 377.7,1000.4 376.3,1000.5 C374.9,1000.6 373.7,1000.6 372.7,1000.3 C371.7,1000.0 370.9,999.5 370.3,998.8 C369.8,998.1 369.5,997.2 369.4,996.1 C369.4,995.1 369.6,993.9 370.0,992.6 C370.5,991.3 371.2,989.8 372.1,988.4 C373.0,986.9 374.2,985.4 375.5,983.9 C376.8,982.4 378.3,980.8 379.9,979.4 C381.5,978.0 383.3,976.6 385.0,975.4 C386.7,974.2 388.6,973.1 390.3,972.2 C392.1,971.3 393.9,970.5 395.5,969.9 C397.1,969.4 398.7,969.0 400.1,968.9 C401.4,968.7 402.7,968.8 403.7,969.1 C404.7,969.4 405.6,970.4 406.0,970.6 M434.2,969.8 C434.3,970.6 435.0,972.8 434.8,974.5 C434.5,976.2 433.8,978.1 432.7,979.9 C431.6,981.8 430.0,983.9 428.2,985.8 C426.3,987.7 424.0,989.7 421.6,991.5 C419.1,993.3 416.2,995.1 413.4,996.6 C410.5,998.2 407.3,999.6 404.3,1000.8 C401.2,1001.9 398.0,1002.9 395.0,1003.5 C392.0,1004.2 389.0,1004.6 386.4,1004.8 C383.7,1004.9 381.1,1004.8 379.0,1004.3 C376.8,1003.9 374.9,1003.2 373.5,1002.3 C372.1,1001.4 371.0,1000.1 370.3,998.8 C369.7,997.4 369.5,995.8 369.8,994.1 C370.0,992.4 370.7,990.5 371.8,988.6 C372.9,986.7 374.5,984.7 376.4,982.8 C378.2,980.8 380.5,978.9 383.0,977.1 C385.5,975.2 388.3,973.5 391.2,971.9 C394.1,970.4 397.2,969.0 400.3,967.8 C403.3,966.6 406.5,965.7 409.5,965.0 C412.5,964.3 415.5,963.9 418.2,963.8 C420.9,963.6 423.4,963.8 425.6,964.2 C427.7,964.6 429.6,965.3 431.0,966.3 C432.5,967.2 433.7,969.2 434.2,969.8 M435.3,955.1 C435.4,955.8 436.3,957.7 436.2,959.3 C436.1,960.9 435.4,962.9 434.4,964.9 C433.4,967.0 431.9,969.3 430.1,971.6 C428.3,973.8 426.0,976.3 423.5,978.6 C421.1,980.9 418.2,983.3 415.3,985.5 C412.4,987.7 409.2,989.9 406.1,991.7 C402.9,993.6 399.6,995.4 396.6,996.8 C393.5,998.2 390.4,999.4 387.6,1000.2 C384.8,1001.0 382.1,1001.5 379.8,1001.7 C377.5,1001.9 375.5,1001.7 373.9,1001.2 C372.3,1000.7 371.1,999.9 370.3,998.8 C369.6,997.7 369.3,996.2 369.4,994.6 C369.6,992.9 370.2,991.0 371.2,988.9 C372.2,986.9 373.7,984.6 375.5,982.3 C377.3,980.0 379.6,977.6 382.1,975.3 C384.5,972.9 387.4,970.5 390.3,968.3 C393.2,966.1 396.4,964.0 399.6,962.1 C402.7,960.2 406.0,958.5 409.1,957.1 C412.1,955.7 415.3,954.5 418.1,953.7 C420.9,952.9 423.5,952.3 425.8,952.2 C428.1,952.0 430.1,952.1 431.7,952.6 C433.3,953.1 434.7,954.7 435.3,955.1 M417.8,953.4 C418.0,953.9 418.8,955.1 418.8,956.3 C418.8,957.6 418.4,959.2 417.7,960.9 C417.1,962.6 416.0,964.6 414.8,966.6 C413.5,968.7 411.9,971.0 410.1,973.2 C408.4,975.4 406.3,977.7 404.2,979.9 C402.1,982.1 399.8,984.4 397.5,986.4 C395.2,988.4 392.7,990.4 390.4,992.0 C388.1,993.7 385.8,995.2 383.7,996.4 C381.6,997.5 379.5,998.5 377.8,999.0 C376.1,999.6 374.5,999.9 373.2,999.9 C372.0,999.8 371.0,999.5 370.3,998.8 C369.7,998.1 369.4,997.1 369.4,995.8 C369.4,994.6 369.7,993.0 370.4,991.3 C371.1,989.6 372.1,987.6 373.4,985.5 C374.6,983.5 376.2,981.2 378.0,979.0 C379.8,976.8 381.8,974.5 383.9,972.2 C386.0,970.0 388.4,967.8 390.7,965.8 C393.0,963.8 395.4,961.8 397.7,960.2 C400.0,958.5 402.3,957.0 404.5,955.8 C406.6,954.7 408.6,953.7 410.3,953.1 C412.1,952.6 413.7,952.3 414.9,952.3 C416.2,952.4 417.3,953.2 417.8,953.4 M421.9,973.2 C422.0,973.7 422.4,975.0 422.1,976.1 C421.8,977.2 421.1,978.5 420.1,979.8 C419.1,981.1 417.8,982.6 416.2,984.0 C414.6,985.4 412.7,987.0 410.7,988.4 C408.6,989.8 406.3,991.2 404.0,992.5 C401.6,993.8 399.1,995.1 396.6,996.2 C394.2,997.3 391.6,998.2 389.2,999.0 C386.9,999.8 384.5,1000.4 382.4,1000.8 C380.3,1001.1 378.3,1001.3 376.7,1001.3 C375.1,1001.3 373.6,1001.1 372.6,1000.6 C371.5,1000.2 370.7,999.6 370.3,998.8 C369.9,998.0 369.9,997.0 370.2,995.9 C370.5,994.8 371.2,993.5 372.2,992.2 C373.1,990.9 374.5,989.4 376.1,988.0 C377.7,986.5 379.6,985.0 381.6,983.6 C383.7,982.2 386.0,980.7 388.3,979.4 C390.7,978.1 393.2,976.9 395.7,975.8 C398.1,974.7 400.7,973.8 403.0,973.0 C405.4,972.2 407.8,971.6 409.9,971.2 C412.0,970.8 413.9,970.7 415.6,970.7 C417.2,970.7 418.7,970.9 419.7,971.3 C420.8,971.8 421.6,972.9 421.9,973.2 M405.6,969.2 C405.7,969.5 406.3,970.5 406.2,971.4 C406.2,972.3 405.9,973.4 405.4,974.6 C404.9,975.8 404.1,977.2 403.1,978.6 C402.2,980.0 401.0,981.5 399.7,983.0 C398.4,984.5 396.8,986.1 395.2,987.5 C393.7,989.0 391.9,990.5 390.2,991.8 C388.5,993.1 386.7,994.3 385.0,995.3 C383.3,996.4 381.6,997.3 380.1,998.0 C378.5,998.7 377.0,999.2 375.7,999.5 C374.5,999.8 373.3,999.9 372.4,999.8 C371.5,999.7 370.8,999.3 370.3,998.8 C369.9,998.2 369.7,997.5 369.7,996.6 C369.7,995.7 370.0,994.5 370.5,993.3 C371.1,992.1 371.8,990.7 372.8,989.3 C373.7,987.9 375.0,986.4 376.3,984.9 C377.6,983.4 379.1,981.9 380.7,980.4 C382.3,979.0 384.0,977.5 385.7,976.2 C387.4,974.9 389.2,973.7 390.9,972.6 C392.6,971.6 394.3,970.7 395.9,970.0 C397.4,969.3 398.9,968.7 400.2,968.4 C401.5,968.1 402.6,968.0 403.5,968.2 C404.4,968.3 405.3,969.0 405.6,969.2 M409.1,975.1 C409.1,975.5 409.6,976.6 409.5,977.5 C409.3,978.4 408.9,979.5 408.3,980.7 C407.6,981.8 406.7,983.1 405.6,984.3 C404.4,985.6 403.1,987.0 401.6,988.2 C400.1,989.5 398.4,990.8 396.6,992.0 C394.9,993.2 393.0,994.4 391.1,995.4 C389.2,996.4 387.3,997.3 385.5,998.1 C383.7,998.8 381.8,999.5 380.2,999.9 C378.6,1000.3 377.0,1000.5 375.7,1000.6 C374.4,1000.7 373.2,1000.5 372.3,1000.2 C371.4,999.9 370.7,999.4 370.3,998.8 C369.9,998.1 369.8,997.3 369.9,996.4 C370.1,995.4 370.5,994.3 371.1,993.2 C371.8,992.0 372.7,990.8 373.8,989.5 C375.0,988.2 376.3,986.9 377.8,985.6 C379.3,984.3 381.0,983.0 382.8,981.8 C384.5,980.6 386.4,979.5 388.3,978.5 C390.2,977.4 392.1,976.5 393.9,975.8 C395.7,975.0 397.6,974.4 399.2,974.0 C400.8,973.6 402.4,973.3 403.7,973.2 C405.0,973.2 406.2,973.3 407.1,973.6 C408.0,973.9 408.7,974.8 409.1,975.1 M424.4,969.5 C424.4,970.1 425.0,971.7 424.8,973.0 C424.6,974.3 424.0,975.8 423.0,977.4 C422.1,978.9 420.8,980.6 419.2,982.3 C417.6,984.0 415.7,985.7 413.6,987.4 C411.5,989.0 409.1,990.7 406.7,992.2 C404.2,993.7 401.5,995.1 399.0,996.3 C396.4,997.6 393.7,998.7 391.1,999.5 C388.6,1000.4 386.1,1001.0 383.8,1001.4 C381.6,1001.8 379.4,1002.0 377.6,1002.0 C375.8,1001.9 374.2,1001.6 373.0,1001.1 C371.8,1000.5 370.9,999.7 370.3,998.8 C369.8,997.8 369.7,996.6 369.9,995.3 C370.1,994.0 370.7,992.5 371.6,990.9 C372.6,989.4 373.9,987.7 375.5,986.0 C377.1,984.4 379.0,982.6 381.1,981.0 C383.2,979.3 385.6,977.6 388.0,976.2 C390.5,974.7 393.1,973.2 395.7,972.0 C398.3,970.8 401.0,969.7 403.5,968.8 C406.1,968.0 408.6,967.3 410.9,966.9 C413.1,966.5 415.3,966.3 417.1,966.4 C418.9,966.4 420.5,966.7 421.7,967.3 C422.9,967.8 423.9,969.2 424.4,969.5 M411.7,983.5 C411.7,984.0 412.2,985.7 412.0,986.8 C411.8,988.0 411.3,989.3 410.6,990.6 C409.9,991.8 408.8,993.1 407.6,994.3 C406.4,995.5 404.9,996.8 403.3,997.8 C401.7,998.9 399.8,1000.0 397.9,1000.8 C396.1,1001.7 394.0,1002.4 392.1,1003.0 C390.1,1003.6 388.0,1004.0 386.1,1004.2 C384.2,1004.4 382.2,1004.5 380.5,1004.4 C378.8,1004.2 377.2,1003.9 375.8,1003.5 C374.4,1003.0 373.2,1002.3 372.3,1001.5 C371.4,1000.8 370.7,999.8 370.3,998.8 C370.0,997.8 369.9,996.6 370.0,995.4 C370.2,994.2 370.7,992.9 371.4,991.7 C372.2,990.4 373.2,989.1 374.4,987.9 C375.6,986.7 377.1,985.5 378.8,984.4 C380.4,983.3 382.2,982.3 384.1,981.4 C385.9,980.6 388.0,979.8 390.0,979.3 C391.9,978.7 394.0,978.3 395.9,978.0 C397.9,977.8 399.8,977.8 401.5,977.9 C403.2,978.0 404.9,978.3 406.2,978.8 C407.6,979.3 408.8,979.9 409.7,980.7 C410.6,981.5 411.4,983.0 411.7,983.5 M438.1,956.9 C438.2,957.7 439.2,959.9 439.1,961.7 C439.0,963.5 438.4,965.6 437.3,967.7 C436.3,969.9 434.7,972.3 432.8,974.6 C431.0,976.9 428.6,979.4 426.0,981.7 C423.5,984.1 420.5,986.4 417.5,988.6 C414.4,990.7 411.1,992.8 407.8,994.5 C404.6,996.3 401.1,997.9 397.9,999.1 C394.7,1000.4 391.4,1001.4 388.5,1002.0 C385.6,1002.6 382.7,1003.0 380.3,1002.9 C377.9,1002.9 375.8,1002.5 374.1,1001.8 C372.5,1001.1 371.1,1000.1 370.3,998.8 C369.5,997.5 369.2,995.8 369.3,994.0 C369.4,992.2 370.1,990.1 371.1,988.0 C372.1,985.8 373.7,983.4 375.6,981.1 C377.4,978.8 379.8,976.3 382.4,974.0 C384.9,971.6 387.9,969.3 390.9,967.1 C394.0,965.0 397.3,963.0 400.6,961.2 C403.8,959.4 407.3,957.8 410.5,956.6 C413.7,955.3 417.0,954.3 419.9,953.7 C422.8,953.1 425.7,952.8 428.1,952.8 C430.5,952.8 432.6,953.2 434.3,953.9 C436.0,954.6 437.4,956.4 438.1,956.9 M427.9,959.9 C428.0,960.4 428.6,961.9 428.4,963.2 C428.2,964.5 427.6,966.1 426.6,967.8 C425.6,969.5 424.2,971.5 422.5,973.4 C420.9,975.3 418.8,977.4 416.6,979.4 C414.4,981.4 411.8,983.5 409.2,985.5 C406.6,987.4 403.8,989.3 401.0,991.0 C398.3,992.7 395.4,994.3 392.7,995.6 C390.0,996.9 387.3,998.0 384.9,998.9 C382.4,999.7 380.1,1000.3 378.2,1000.6 C376.3,1000.8 374.5,1000.8 373.2,1000.5 C371.9,1000.2 370.9,999.6 370.3,998.8 C369.8,997.9 369.6,996.8 369.8,995.5 C370.0,994.1 370.6,992.5 371.6,990.8 C372.6,989.1 374.0,987.2 375.7,985.3 C377.3,983.3 379.4,981.2 381.6,979.2 C383.8,977.2 386.4,975.1 389.0,973.2 C391.6,971.3 394.4,969.3 397.2,967.7 C399.9,966.0 402.8,964.4 405.5,963.1 C408.2,961.8 410.9,960.6 413.3,959.8 C415.8,959.0 418.1,958.4 420.0,958.1 C421.9,957.8 423.7,957.8 425.0,958.1 C426.3,958.4 427.4,959.6 427.9,959.9 M418.9,954.7 C419.1,955.2 420.0,956.6 420.1,957.9 C420.1,959.3 419.8,960.9 419.2,962.7 C418.5,964.5 417.5,966.6 416.3,968.6 C415.0,970.7 413.4,973.0 411.6,975.2 C409.9,977.4 407.8,979.7 405.6,981.9 C403.5,984.1 401.1,986.2 398.7,988.2 C396.3,990.1 393.8,992.0 391.5,993.5 C389.1,995.1 386.7,996.5 384.5,997.5 C382.3,998.6 380.1,999.4 378.3,999.8 C376.5,1000.3 374.8,1000.4 373.5,1000.2 C372.1,1000.1 371.1,999.6 370.3,998.8 C369.6,998.0 369.2,996.9 369.2,995.5 C369.1,994.2 369.4,992.5 370.1,990.7 C370.7,989.0 371.7,986.9 373.0,984.8 C374.2,982.8 375.8,980.5 377.6,978.3 C379.4,976.1 381.5,973.7 383.6,971.6 C385.8,969.4 388.2,967.2 390.5,965.3 C392.9,963.4 395.4,961.5 397.8,960.0 C400.2,958.4 402.6,957.0 404.8,956.0 C407.0,954.9 409.1,954.1 410.9,953.7 C412.8,953.2 414.4,953.0 415.8,953.2 C417.1,953.4 418.4,954.4 418.9,954.7 M442.5,954.5 C442.7,955.3 443.7,957.5 443.5,959.4 C443.3,961.3 442.6,963.4 441.5,965.7 C440.3,967.9 438.6,970.4 436.6,972.8 C434.6,975.3 432.1,977.9 429.3,980.3 C426.6,982.8 423.4,985.2 420.1,987.5 C416.9,989.7 413.3,991.9 409.9,993.8 C406.4,995.7 402.7,997.4 399.3,998.7 C395.9,1000.0 392.4,1001.1 389.3,1001.8 C386.3,1002.5 383.3,1002.9 380.8,1002.9 C378.2,1002.9 376.0,1002.6 374.2,1001.9 C372.5,1001.2 371.2,1000.1 370.3,998.8 C369.5,997.5 369.2,995.8 369.4,993.9 C369.5,992.0 370.2,989.9 371.4,987.6 C372.5,985.4 374.2,982.9 376.2,980.5 C378.3,978.0 380.8,975.4 383.6,973.0 C386.3,970.5 389.5,968.1 392.7,965.8 C396.0,963.6 399.5,961.4 403.0,959.5 C406.5,957.6 410.1,955.9 413.5,954.6 C417.0,953.3 420.4,952.2 423.5,951.5 C426.6,950.8 429.6,950.4 432.1,950.4 C434.6,950.4 436.9,950.7 438.6,951.4 C440.4,952.1 441.9,954.0 442.5,954.5 M444.2,942.5 C444.5,943.5 446.1,946.1 446.3,948.4 C446.5,950.6 446.1,953.3 445.2,956.0 C444.3,958.8 442.9,961.8 441.1,964.9 C439.2,967.9 436.8,971.1 434.2,974.2 C431.5,977.2 428.4,980.3 425.1,983.2 C421.9,986.0 418.2,988.8 414.6,991.2 C411.0,993.6 407.2,995.8 403.5,997.5 C399.9,999.3 396.1,1000.7 392.7,1001.7 C389.3,1002.7 386.0,1003.2 383.1,1003.3 C380.2,1003.5 377.5,1003.1 375.4,1002.3 C373.3,1001.6 371.5,1000.3 370.3,998.8 C369.1,997.2 368.4,995.2 368.2,992.9 C368.1,990.7 368.4,988.0 369.3,985.3 C370.2,982.5 371.6,979.5 373.5,976.4 C375.3,973.4 377.7,970.2 380.3,967.1 C383.0,964.1 386.1,960.9 389.4,958.1 C392.7,955.3 396.3,952.5 399.9,950.1 C403.5,947.7 407.4,945.5 411.0,943.8 C414.7,942.0 418.4,940.6 421.8,939.6 C425.2,938.6 428.6,938.0 431.4,937.9 C434.3,937.8 437.0,938.2 439.1,938.9 C441.2,939.7 443.3,941.9 444.2,942.5" fill="none" stroke="#0a0a0a" stroke-width="1.5" stroke-linejoin="round" stroke-linecap="round"/>
<path d="M383.6,1011.3 C383.2,1011.3 382.1,1011.8 381.2,1011.5 C380.2,1011.3 379.1,1010.7 377.9,1009.9 C376.8,1009.1 375.5,1008.0 374.2,1006.7 C373.0,1005.4 371.7,1003.9 370.6,1002.3 C369.4,1000.6 368.3,998.8 367.3,997.1 C366.4,995.3 365.5,993.5 364.9,991.8 C364.3,990.1 363.8,988.5 363.6,987.1 C363.4,985.7 363.4,984.4 363.6,983.5 C363.8,982.5 364.3,981.8 364.9,981.4 C365.5,981.0 366.4,980.9 367.3,981.2 C368.2,981.4 369.4,982.0 370.5,982.8 C371.7,983.6 373.0,984.7 374.2,986.0 C375.4,987.3 376.7,988.8 377.9,990.5 C379.1,992.1 380.2,993.9 381.1,995.6 C382.1,997.4 382.9,999.2 383.5,1000.9 C384.2,1002.6 384.6,1004.2 384.8,1005.6 C385.0,1007.0 385.0,1008.3 384.8,1009.2 C384.6,1010.2 383.8,1010.9 383.6,1011.3 M393.7,1011.8 C393.2,1011.9 391.8,1012.5 390.5,1012.2 C389.3,1011.9 387.8,1011.1 386.2,1010.1 C384.7,1009.0 382.9,1007.5 381.3,1005.8 C379.7,1004.1 377.9,1002.0 376.4,999.8 C374.9,997.7 373.3,995.2 372.1,992.9 C370.8,990.6 369.7,988.1 368.9,985.9 C368.0,983.6 367.4,981.4 367.2,979.6 C366.9,977.7 366.9,976.0 367.2,974.8 C367.4,973.5 368.0,972.5 368.9,972.0 C369.7,971.5 370.8,971.4 372.1,971.7 C373.3,972.0 374.8,972.7 376.4,973.8 C377.9,974.9 379.6,976.4 381.3,978.1 C382.9,979.8 384.7,981.9 386.2,984.1 C387.7,986.2 389.3,988.7 390.5,991.0 C391.8,993.3 392.9,995.8 393.7,998.0 C394.5,1000.2 395.1,1002.5 395.4,1004.3 C395.7,1006.2 395.7,1007.9 395.4,1009.1 C395.1,1010.4 394.0,1011.4 393.7,1011.8 M402.9,1010.8 C402.3,1010.9 400.6,1011.5 399.2,1011.2 C397.7,1010.8 395.9,1010.0 394.1,1008.7 C392.3,1007.5 390.3,1005.7 388.4,1003.7 C386.5,1001.7 384.4,999.2 382.6,996.7 C380.8,994.2 379.0,991.4 377.6,988.6 C376.1,985.9 374.8,983.0 373.8,980.4 C372.9,977.8 372.2,975.2 371.8,973.1 C371.5,970.9 371.5,968.9 371.8,967.4 C372.1,966.0 372.9,964.8 373.8,964.2 C374.8,963.6 376.1,963.5 377.6,963.9 C379.0,964.2 380.8,965.1 382.6,966.3 C384.4,967.6 386.4,969.3 388.3,971.3 C390.3,973.3 392.3,975.8 394.1,978.3 C395.9,980.8 397.7,983.7 399.1,986.4 C400.6,989.1 401.9,992.0 402.9,994.6 C403.8,997.2 404.6,999.8 404.9,1002.0 C405.2,1004.2 405.2,1006.1 404.9,1007.6 C404.6,1009.1 403.2,1010.3 402.9,1010.8 M411.5,1008.8 C410.8,1008.9 409.0,1009.6 407.3,1009.2 C405.7,1008.8 403.8,1007.9 401.8,1006.5 C399.8,1005.1 397.5,1003.2 395.4,1001.0 C393.3,998.8 391.1,996.0 389.1,993.3 C387.1,990.5 385.1,987.3 383.5,984.3 C381.9,981.3 380.4,978.1 379.4,975.3 C378.3,972.4 377.5,969.5 377.2,967.1 C376.8,964.8 376.8,962.6 377.2,960.9 C377.5,959.3 378.3,958.1 379.4,957.4 C380.4,956.8 381.9,956.6 383.5,957.0 C385.1,957.4 387.1,958.3 389.1,959.7 C391.0,961.1 393.3,963.1 395.4,965.3 C397.5,967.5 399.8,970.2 401.7,973.0 C403.7,975.7 405.7,978.9 407.3,981.9 C408.9,984.9 410.4,988.1 411.5,991.0 C412.5,993.8 413.3,996.7 413.7,999.1 C414.0,1001.5 414.0,1003.7 413.7,1005.3 C413.3,1006.9 411.8,1008.2 411.5,1008.8 M419.6,1006.1 C418.9,1006.2 416.9,1007.0 415.2,1006.5 C413.5,1006.1 411.4,1005.1 409.3,1003.6 C407.1,1002.2 404.7,1000.1 402.5,997.7 C400.2,995.4 397.9,992.5 395.7,989.5 C393.6,986.6 391.5,983.2 389.8,980.0 C388.1,976.8 386.5,973.4 385.4,970.3 C384.3,967.3 383.4,964.2 383.0,961.7 C382.6,959.1 382.6,956.8 383.0,955.1 C383.4,953.3 384.2,952.0 385.4,951.3 C386.5,950.6 388.0,950.4 389.8,950.9 C391.5,951.3 393.6,952.3 395.7,953.8 C397.8,955.2 400.2,957.3 402.5,959.7 C404.7,962.0 407.1,964.9 409.2,967.9 C411.3,970.8 413.4,974.2 415.2,977.4 C416.9,980.6 418.4,984.0 419.6,987.1 C420.7,990.1 421.5,993.2 421.9,995.7 C422.3,998.3 422.3,1000.6 421.9,1002.3 C421.5,1004.1 420.0,1005.5 419.6,1006.1 M427.4,1002.8 C426.6,1002.9 424.6,1003.7 422.8,1003.3 C421.0,1002.8 418.8,1001.8 416.6,1000.2 C414.4,998.7 411.9,996.5 409.6,994.1 C407.2,991.6 404.7,988.6 402.5,985.6 C400.3,982.5 398.1,979.0 396.3,975.7 C394.5,972.3 392.9,968.8 391.7,965.6 C390.6,962.4 389.7,959.2 389.3,956.6 C388.9,953.9 388.9,951.5 389.3,949.7 C389.7,947.9 390.6,946.5 391.7,945.8 C392.9,945.0 394.5,944.9 396.3,945.3 C398.1,945.7 400.3,946.8 402.5,948.3 C404.7,949.8 407.2,952.0 409.5,954.5 C411.9,956.9 414.4,959.9 416.6,963.0 C418.8,966.1 420.9,969.6 422.7,972.9 C424.5,976.2 426.2,979.8 427.3,983.0 C428.5,986.2 429.4,989.4 429.8,992.0 C430.2,994.7 430.2,997.1 429.8,998.9 C429.4,1000.7 427.8,1002.1 427.4,1002.8 M434.8,999.0 C434.0,999.1 431.9,999.9 430.1,999.5 C428.3,999.0 426.1,998.0 423.8,996.4 C421.6,994.8 419.0,992.6 416.6,990.1 C414.2,987.6 411.7,984.5 409.4,981.4 C407.2,978.2 405.0,974.7 403.1,971.3 C401.3,967.9 399.6,964.2 398.4,961.0 C397.2,957.7 396.3,954.5 395.9,951.8 C395.5,949.1 395.5,946.6 395.9,944.7 C396.3,942.9 397.2,941.5 398.4,940.8 C399.6,940.0 401.3,939.8 403.1,940.3 C404.9,940.7 407.2,941.8 409.4,943.4 C411.7,944.9 414.2,947.1 416.6,949.6 C419.0,952.1 421.5,955.2 423.8,958.4 C426.0,961.5 428.3,965.1 430.1,968.5 C431.9,971.9 433.6,975.5 434.8,978.8 C436.0,982.0 436.9,985.3 437.3,988.0 C437.7,990.7 437.7,993.2 437.3,995.0 C436.9,996.8 435.2,998.3 434.8,999.0 M441.9,994.7 C441.2,994.8 439.1,995.6 437.2,995.2 C435.4,994.8 433.2,993.7 430.9,992.1 C428.6,990.5 426.1,988.3 423.7,985.8 C421.3,983.3 418.7,980.2 416.5,977.0 C414.2,973.9 412.0,970.3 410.1,966.9 C408.3,963.4 406.6,959.8 405.4,956.5 C404.2,953.3 403.3,950.0 402.9,947.3 C402.5,944.6 402.5,942.1 402.9,940.2 C403.3,938.4 404.2,937.0 405.4,936.2 C406.6,935.5 408.3,935.3 410.1,935.7 C411.9,936.2 414.2,937.3 416.4,938.8 C418.7,940.4 421.2,942.6 423.6,945.1 C426.1,947.7 428.6,950.7 430.9,953.9 C433.1,957.1 435.4,960.6 437.2,964.1 C439.1,967.5 440.7,971.1 441.9,974.4 C443.1,977.6 444.0,980.9 444.4,983.6 C444.9,986.4 444.9,988.8 444.4,990.7 C444.0,992.5 442.4,994.0 441.9,994.7 M448.8,989.9 C448.0,990.0 446.0,990.9 444.1,990.4 C442.3,990.0 440.1,988.9 437.9,987.4 C435.6,985.8 433.1,983.6 430.7,981.1 C428.4,978.6 425.9,975.6 423.6,972.5 C421.4,969.3 419.2,965.8 417.3,962.4 C415.5,959.1 413.9,955.5 412.7,952.2 C411.5,949.0 410.6,945.8 410.2,943.1 C409.8,940.4 409.8,937.9 410.2,936.1 C410.6,934.3 411.5,932.9 412.7,932.2 C413.9,931.4 415.5,931.2 417.3,931.7 C419.1,932.1 421.4,933.2 423.6,934.7 C425.8,936.3 428.3,938.5 430.7,941.0 C433.1,943.5 435.6,946.5 437.8,949.6 C440.1,952.7 442.3,956.3 444.1,959.7 C445.9,963.0 447.6,966.6 448.8,969.9 C450.0,973.1 450.8,976.3 451.2,979.0 C451.7,981.7 451.7,984.2 451.3,986.0 C450.8,987.8 449.2,989.3 448.8,989.9 M455.3,984.7 C454.6,984.8 452.6,985.6 450.8,985.1 C449.0,984.7 446.9,983.7 444.7,982.2 C442.6,980.7 440.1,978.5 437.8,976.1 C435.5,973.7 433.1,970.7 430.9,967.7 C428.7,964.7 426.6,961.3 424.8,958.0 C423.0,954.7 421.4,951.2 420.3,948.1 C419.1,944.9 418.3,941.8 417.9,939.2 C417.5,936.6 417.5,934.2 417.9,932.4 C418.3,930.7 419.1,929.3 420.3,928.6 C421.4,927.9 423.0,927.7 424.8,928.1 C426.5,928.5 428.7,929.6 430.9,931.1 C433.0,932.6 435.5,934.7 437.8,937.1 C440.1,939.6 442.5,942.5 444.7,945.5 C446.9,948.6 449.0,952.0 450.8,955.3 C452.5,958.6 454.1,962.1 455.3,965.2 C456.5,968.3 457.3,971.5 457.7,974.1 C458.1,976.7 458.1,979.1 457.7,980.8 C457.3,982.6 455.7,984.0 455.3,984.7 M461.5,978.9 C460.8,979.0 458.9,979.7 457.2,979.3 C455.6,978.9 453.5,977.9 451.4,976.5 C449.4,975.1 447.1,973.0 444.9,970.7 C442.7,968.5 440.4,965.6 438.3,962.8 C436.2,959.9 434.2,956.6 432.5,953.5 C430.8,950.4 429.3,947.1 428.2,944.1 C427.1,941.1 426.3,938.1 425.9,935.6 C425.5,933.2 425.5,930.9 425.9,929.2 C426.3,927.5 427.1,926.2 428.2,925.6 C429.3,924.9 430.8,924.7 432.5,925.1 C434.2,925.5 436.2,926.5 438.3,927.9 C440.3,929.4 442.6,931.4 444.8,933.7 C447.0,936.0 449.4,938.8 451.4,941.7 C453.5,944.6 455.5,947.8 457.2,950.9 C458.9,954.1 460.4,957.4 461.5,960.4 C462.6,963.3 463.4,966.3 463.8,968.8 C464.2,971.3 464.2,973.5 463.8,975.2 C463.4,976.9 461.9,978.3 461.5,978.9 M467.3,972.5 C466.7,972.5 464.9,973.2 463.4,972.9 C461.8,972.5 459.9,971.6 458.0,970.3 C456.1,968.9 454.0,967.1 451.9,964.9 C449.9,962.8 447.8,960.2 445.9,957.5 C443.9,954.9 442.1,951.9 440.5,949.0 C438.9,946.1 437.5,943.0 436.5,940.3 C435.5,937.5 434.8,934.8 434.4,932.5 C434.1,930.2 434.1,928.1 434.4,926.5 C434.8,925.0 435.5,923.8 436.5,923.2 C437.5,922.5 438.9,922.4 440.5,922.7 C442.0,923.1 443.9,924.0 445.8,925.4 C447.7,926.7 449.9,928.6 451.9,930.7 C453.9,932.8 456.1,935.4 458.0,938.1 C459.9,940.7 461.8,943.7 463.3,946.6 C464.9,949.5 466.3,952.6 467.3,955.3 C468.3,958.1 469.1,960.8 469.4,963.1 C469.8,965.4 469.8,967.5 469.4,969.1 C469.1,970.6 467.7,971.9 467.3,972.5 M472.6,965.2 C472.0,965.3 470.5,965.9 469.1,965.6 C467.7,965.3 466.1,964.4 464.4,963.3 C462.7,962.1 460.8,960.4 459.0,958.6 C457.2,956.7 455.3,954.4 453.6,952.0 C451.9,949.7 450.2,947.0 448.9,944.4 C447.5,941.9 446.2,939.2 445.4,936.7 C444.5,934.3 443.8,931.9 443.5,929.8 C443.2,927.8 443.2,925.9 443.5,924.6 C443.8,923.2 444.4,922.1 445.3,921.6 C446.2,921.0 447.5,920.9 448.8,921.2 C450.2,921.5 451.9,922.3 453.6,923.5 C455.3,924.7 457.2,926.3 459.0,928.2 C460.8,930.1 462.7,932.4 464.3,934.8 C466.0,937.1 467.7,939.8 469.1,942.3 C470.5,944.9 471.7,947.6 472.6,950.1 C473.5,952.5 474.2,954.9 474.5,957.0 C474.8,959.0 474.8,960.9 474.5,962.2 C474.2,963.6 472.9,964.7 472.6,965.2 M477.2,956.8 C476.7,956.9 475.4,957.4 474.3,957.1 C473.2,956.8 471.8,956.2 470.4,955.2 C469.1,954.3 467.5,952.9 466.1,951.4 C464.6,949.8 463.0,947.9 461.7,946.0 C460.3,944.1 458.9,941.9 457.8,939.8 C456.7,937.8 455.6,935.5 454.9,933.5 C454.2,931.5 453.6,929.6 453.4,927.9 C453.1,926.2 453.1,924.7 453.4,923.6 C453.6,922.5 454.2,921.6 454.9,921.2 C455.6,920.7 456.6,920.6 457.8,920.9 C458.9,921.1 460.3,921.8 461.6,922.7 C463.0,923.7 464.6,925.1 466.0,926.6 C467.5,928.1 469.0,930.0 470.4,931.9 C471.8,933.9 473.2,936.0 474.3,938.1 C475.4,940.2 476.4,942.4 477.2,944.4 C477.9,946.4 478.4,948.4 478.7,950.1 C479.0,951.7 479.0,953.2 478.7,954.4 C478.5,955.5 477.4,956.4 477.2,956.8 M480.3,946.0 C480.0,946.1 479.1,946.4 478.4,946.2 C477.7,946.1 476.8,945.6 475.9,945.0 C475.1,944.4 474.1,943.5 473.1,942.5 C472.2,941.5 471.2,940.3 470.3,939.1 C469.4,937.9 468.5,936.5 467.8,935.1 C467.1,933.8 466.4,932.3 465.9,931.1 C465.5,929.8 465.1,928.5 465.0,927.4 C464.8,926.4 464.8,925.4 465.0,924.7 C465.1,924.0 465.5,923.4 465.9,923.1 C466.4,922.8 467.1,922.7 467.8,922.9 C468.5,923.1 469.4,923.5 470.3,924.1 C471.2,924.7 472.2,925.6 473.1,926.6 C474.0,927.6 475.0,928.8 475.9,930.0 C476.8,931.3 477.7,932.7 478.4,934.0 C479.1,935.4 479.8,936.8 480.3,938.1 C480.7,939.3 481.1,940.6 481.2,941.7 C481.4,942.8 481.4,943.7 481.2,944.5 C481.1,945.2 480.4,945.8 480.3,946.0" fill="none" stroke="#0a0a0a" stroke-width="1.35" stroke-linejoin="round" stroke-linecap="round"/>
<path d="M391.9,993.5 C392.4,995.2 394.0,999.5 394.9,1003.5 C395.8,1007.5 397.2,1012.5 397.4,1017.5 C397.5,1022.5 396.5,1028.2 395.7,1033.5 C395.0,1038.8 393.4,1046.8 392.9,1049.5 M397.0,994.1 C397.5,995.8 399.0,1000.1 400.0,1004.1 C400.9,1008.1 402.0,1013.1 402.5,1018.1 C402.9,1023.1 403.3,1028.8 402.5,1034.1 C401.8,1039.4 398.7,1047.4 398.0,1050.1 M401.9,993.7 C402.4,995.4 403.9,999.7 404.9,1003.7 C405.8,1007.7 407.4,1012.7 407.4,1017.7 C407.4,1022.7 405.6,1028.4 404.8,1033.7 C404.1,1039.0 403.2,1047.0 402.9,1049.7 M405.1,991.3 C405.6,993.0 407.1,997.3 408.1,1001.3 C409.0,1005.3 410.6,1010.3 410.6,1015.3 C410.5,1020.3 408.4,1026.0 407.6,1031.3 C406.9,1036.7 406.3,1044.7 406.1,1047.3 M410.6,993.7 C411.1,995.4 412.7,999.7 413.6,1003.7 C414.5,1007.7 415.8,1012.7 416.1,1017.7 C416.4,1022.7 416.1,1028.4 415.3,1033.7 C414.6,1039.0 412.2,1047.0 411.6,1049.7 M414.2,992.0 C414.7,993.7 416.3,998.0 417.2,1002.0 C418.2,1006.0 419.4,1011.0 419.7,1016.0 C420.1,1021.0 420.2,1026.7 419.4,1032.0 C418.7,1037.3 415.9,1045.3 415.2,1048.0 M420.0,990.4 C420.5,992.0 422.0,996.4 423.0,1000.4 C423.9,1004.4 425.1,1009.4 425.5,1014.4 C425.8,1019.4 425.8,1025.0 425.0,1030.4 C424.3,1035.7 421.6,1043.7 421.0,1046.4 M424.5,985.7 C425.0,987.3 426.6,991.7 427.5,995.7 C428.4,999.7 429.5,1004.7 430.0,1009.7 C430.5,1014.7 431.2,1020.3 430.4,1025.7 C429.7,1031.0 426.3,1039.0 425.5,1041.7 M429.3,983.1 C429.8,984.7 431.4,989.1 432.3,993.1 C433.2,997.1 434.5,1002.1 434.8,1007.1 C435.1,1012.1 435.1,1017.7 434.3,1023.1 C433.6,1028.4 431.0,1036.4 430.3,1039.1 M433.1,983.7 C433.6,985.4 435.2,989.7 436.1,993.7 C437.0,997.7 438.4,1002.7 438.6,1007.7 C438.8,1012.7 438.0,1018.4 437.2,1023.7 C436.5,1029.1 434.6,1037.1 434.1,1039.7 M437.0,985.4 C437.5,987.0 439.1,991.4 440.0,995.4 C440.9,999.4 442.3,1004.4 442.5,1009.4 C442.6,1014.4 441.7,1020.0 441.0,1025.4 C440.2,1030.7 438.5,1038.7 438.0,1041.4 M442.2,980.4 C442.7,982.0 444.3,986.4 445.2,990.4 C446.1,994.4 447.3,999.4 447.7,1004.4 C448.1,1009.4 448.5,1015.0 447.7,1020.4 C447.0,1025.7 444.0,1033.7 443.2,1036.4 M446.8,979.6 C447.3,981.3 448.8,985.6 449.8,989.6 C450.7,993.6 452.0,998.6 452.3,1003.6 C452.5,1008.6 451.8,1014.3 451.0,1019.6 C450.3,1025.0 448.3,1033.0 447.8,1035.6" fill="none" stroke="#0a0a0a" stroke-width="1.5" stroke-linejoin="round" stroke-linecap="round"/>
<path d="M368.6,1071.5 C368.6,1067.9 368.7,1056.5 368.4,1049.9 C368.2,1043.4 367.5,1037.2 367.0,1032.0 C366.5,1026.8 364.7,1022.3 365.5,1019.0 C366.3,1015.7 369.8,1014.0 372.0,1012.0 C374.2,1010.0 376.7,1008.3 379.0,1007.0 C381.3,1005.7 383.5,1005.3 386.0,1004.0 C388.5,1002.7 392.7,999.8 394.0,999.0 M367.2,1071.5 C367.2,1068.0 367.2,1057.4 367.0,1050.8 C366.8,1044.2 366.4,1037.0 365.9,1031.6 C365.5,1026.3 363.7,1021.9 364.6,1018.5 C365.4,1015.1 368.7,1013.4 370.9,1011.4 C373.2,1009.3 375.7,1007.7 378.2,1006.4 C380.6,1005.0 382.9,1004.6 385.5,1003.3 C388.1,1001.9 392.4,999.0 393.8,998.2 M367.1,1071.5 C367.2,1067.8 367.9,1055.8 367.6,1049.1 C367.2,1042.4 365.6,1036.4 364.9,1031.3 C364.2,1026.1 362.8,1021.5 363.6,1018.1 C364.4,1014.6 367.6,1012.8 369.9,1010.7 C372.2,1008.7 374.8,1007.1 377.3,1005.7 C379.8,1004.4 382.2,1003.9 384.9,1002.5 C387.7,1001.1 392.1,998.2 393.6,997.3 M368.6,1071.5 C368.1,1068.2 366.5,1058.6 365.7,1051.8 C364.9,1045.1 364.4,1036.6 363.8,1030.9 C363.3,1025.2 361.8,1021.0 362.7,1017.6 C363.5,1014.1 366.5,1012.2 368.8,1010.1 C371.1,1008.0 373.9,1006.5 376.5,1005.1 C379.1,1003.7 381.6,1003.2 384.4,1001.8 C387.2,1000.4 391.9,997.4 393.4,996.5 M368.2,1071.5 C367.8,1067.9 366.4,1056.9 365.5,1050.1 C364.6,1043.2 363.4,1036.0 362.8,1030.5 C362.2,1025.0 360.9,1020.6 361.7,1017.1 C362.5,1013.6 365.5,1011.6 367.8,1009.5 C370.1,1007.4 372.9,1005.9 375.6,1004.5 C378.3,1003.1 381.0,1002.5 383.9,1001.1 C386.8,999.6 391.6,996.5 393.2,995.6 M368.1,1071.5 C367.6,1067.8 366.1,1056.1 365.0,1049.2 C364.0,1042.4 362.4,1035.6 361.7,1030.2 C361.0,1024.7 359.9,1020.2 360.8,1016.6 C361.6,1013.1 364.4,1011.0 366.7,1008.8 C369.1,1006.7 372.0,1005.3 374.8,1003.8 C377.6,1002.4 380.3,1001.8 383.4,1000.3 C386.4,998.8 391.4,995.7 392.9,994.8 M367.2,1071.5 C366.7,1068.2 365.3,1058.7 364.2,1051.7 C363.1,1044.8 361.4,1035.7 360.7,1029.8 C359.9,1023.9 359.0,1019.8 359.8,1016.2 C360.6,1012.6 363.3,1010.4 365.7,1008.2 C368.0,1006.1 371.1,1004.6 373.9,1003.2 C376.8,1001.8 379.7,1001.1 382.8,999.6 C386.0,998.0 391.1,994.9 392.7,993.9 M368.0,1071.5 C367.2,1068.1 364.1,1058.3 362.7,1051.3 C361.3,1044.3 360.3,1035.4 359.6,1029.4 C359.0,1023.5 358.0,1019.3 358.9,1015.7 C359.7,1012.0 362.3,1009.8 364.6,1007.6 C367.0,1005.4 370.2,1004.0 373.1,1002.6 C376.1,1001.1 379.1,1000.4 382.3,998.8 C385.6,997.3 390.8,994.1 392.5,993.1 M368.3,1071.5 C367.5,1067.7 365.4,1055.8 363.8,1048.8 C362.2,1041.7 359.6,1034.6 358.6,1029.1 C357.6,1023.5 357.1,1018.9 357.9,1015.2 C358.8,1011.5 361.2,1009.2 363.6,1006.9 C366.0,1004.7 369.2,1003.4 372.3,1001.9 C375.3,1000.5 378.4,999.7 381.8,998.1 C385.1,996.5 390.6,993.2 392.3,992.3 M368.3,1071.5 C367.1,1068.0 363.2,1057.7 361.4,1050.6 C359.6,1043.5 358.3,1034.7 357.5,1028.7 C356.8,1022.7 356.1,1018.5 357.0,1014.7 C357.8,1011.0 360.1,1008.6 362.5,1006.3 C364.9,1004.1 368.3,1002.8 371.4,1001.3 C374.5,999.8 377.8,999.0 381.3,997.4 C384.7,995.7 390.3,992.4 392.1,991.4 M367.3,1071.5 C366.3,1068.2 362.9,1058.7 361.1,1051.5 C359.3,1044.3 357.3,1034.5 356.5,1028.3 C355.6,1022.1 355.2,1018.0 356.0,1014.3 C356.9,1010.5 359.0,1007.9 361.5,1005.7 C363.9,1003.4 367.4,1002.2 370.6,1000.7 C373.8,999.2 377.2,998.3 380.7,996.6 C384.3,994.9 390.0,991.6 391.9,990.6 M367.0,1071.5 C366.0,1068.2 363.0,1058.7 361.1,1051.4 C359.2,1044.2 356.4,1034.2 355.4,1027.9 C354.4,1021.7 354.2,1017.6 355.1,1013.8 C355.9,1010.0 358.0,1007.3 360.4,1005.1 C362.9,1002.8 366.4,1001.6 369.7,1000.1 C373.0,998.5 376.6,997.6 380.2,995.9 C383.9,994.2 389.8,990.8 391.7,989.7 M367.3,1071.5 C366.0,1068.2 362.0,1058.8 359.8,1051.5 C357.7,1044.2 355.3,1033.9 354.4,1027.6 C353.4,1021.2 353.3,1017.2 354.1,1013.3 C355.0,1009.5 356.9,1006.7 359.4,1004.4 C361.8,1002.1 365.5,1001.0 368.9,999.4 C372.3,997.9 375.9,996.9 379.7,995.2 C383.4,993.4 389.5,989.9 391.5,988.9 M367.6,1071.5 C366.4,1067.6 362.6,1055.5 360.2,1048.1 C357.8,1040.7 354.5,1033.1 353.3,1027.2 C352.1,1021.3 352.4,1016.7 353.2,1012.8 C354.0,1008.9 355.8,1006.1 358.3,1003.8 C360.8,1001.4 364.6,1000.4 368.1,998.8 C371.5,997.2 375.3,996.2 379.2,994.4 C383.0,992.6 389.2,989.1 391.3,988.1 M367.5,1071.5 C366.0,1068.0 361.0,1058.1 358.5,1050.7 C356.0,1043.2 353.3,1033.2 352.3,1026.8 C351.2,1020.5 351.4,1016.3 352.2,1012.4 C353.1,1008.4 354.8,1005.5 357.3,1003.2 C359.8,1000.8 363.6,999.7 367.2,998.2 C370.8,996.6 374.7,995.5 378.6,993.7 C382.6,991.9 389.0,988.3 391.1,987.2 M367.0,1071.5 C365.7,1067.6 362.1,1055.6 359.4,1048.1 C356.8,1040.6 352.6,1032.5 351.2,1026.5 C349.9,1020.4 350.5,1015.9 351.3,1011.9 C352.1,1007.9 353.7,1004.9 356.2,1002.5 C358.7,1000.1 362.7,999.1 366.4,997.5 C370.0,995.9 374.0,994.8 378.1,992.9 C382.2,991.1 388.7,987.5 390.8,986.4 M368.3,1071.5 C366.4,1067.8 360.0,1056.6 356.9,1049.0 C353.9,1041.5 351.3,1032.4 350.2,1026.1 C349.1,1019.8 349.5,1015.5 350.3,1011.4 C351.2,1007.4 352.6,1004.3 355.2,1001.9 C357.7,999.5 361.8,998.5 365.5,996.9 C369.3,995.3 373.4,994.1 377.6,992.2 C381.8,990.3 388.5,986.6 390.6,985.5 M368.4,1071.5 C366.5,1067.7 359.8,1056.4 356.6,1048.7 C353.4,1041.1 350.3,1032.0 349.1,1025.7 C347.9,1019.4 348.6,1015.0 349.4,1010.9 C350.2,1006.9 351.6,1003.7 354.1,1001.3 C356.7,998.8 360.9,997.9 364.7,996.3 C368.5,994.6 372.8,993.4 377.1,991.5 C381.3,989.5 388.2,985.8 390.4,984.7 M368.2,1071.5 C366.2,1067.6 359.8,1055.9 356.4,1048.2 C353.0,1040.5 349.4,1031.7 348.1,1025.4 C346.7,1019.1 347.6,1014.6 348.4,1010.5 C349.3,1006.4 350.5,1003.1 353.1,1000.6 C355.6,998.2 359.9,997.3 363.8,995.6 C367.8,994.0 372.1,992.7 376.5,990.7 C380.9,988.8 387.9,985.0 390.2,983.8 M368.8,1071.5 C366.5,1067.6 358.9,1055.9 355.3,1048.1 C351.7,1040.4 348.3,1031.4 347.0,1025.0 C345.7,1018.6 346.7,1014.2 347.5,1010.0 C348.3,1005.8 349.4,1002.5 352.0,1000.0 C354.6,997.5 359.0,996.7 363.0,995.0 C367.0,993.3 371.5,992.0 376.0,990.0 C380.5,988.0 387.7,984.2 390.0,983.0" fill="none" stroke="#0a0a0a" stroke-width="1.5" stroke-linejoin="round" stroke-linecap="round"/>
<path d="M421.9,1111.2 C422.4,1113.0 424.6,1118.3 424.9,1122.1 C425.3,1125.8 424.1,1131.8 423.9,1133.7 M427.4,1110.8 C427.9,1113.3 430.1,1121.6 430.4,1125.4 C430.7,1129.2 429.6,1132.3 429.4,1133.7 M436.1,1111.7 C436.6,1113.7 438.7,1120.1 439.1,1123.6 C439.4,1127.2 438.2,1131.4 438.1,1132.9 M445.8,1112.5 C446.3,1114.2 448.5,1119.0 448.8,1122.3 C449.2,1125.6 448.0,1130.5 447.8,1132.1 M455.5,1114.6 C456.0,1115.9 458.2,1119.1 458.5,1122.3 C458.8,1125.5 457.7,1132.1 457.5,1134.0" fill="none" stroke="#0a0a0a" stroke-width="1.4" stroke-linejoin="round" stroke-linecap="round"/>
<path d="M489.6,1013.4 C491.2,1014.0 496.5,1015.2 499.1,1016.6 C501.8,1018.1 504.0,1020.2 505.4,1022.0 C506.8,1023.9 507.5,1026.1 507.7,1027.8 C507.9,1029.4 507.3,1031.1 506.5,1031.9 C505.8,1032.8 504.3,1033.3 503.2,1033.1 C502.0,1032.9 500.4,1032.0 499.5,1030.5 C498.5,1029.1 497.6,1026.9 497.4,1024.6 C497.2,1022.2 497.4,1019.1 498.4,1016.3 C499.4,1013.5 501.0,1010.2 503.2,1007.5 C505.4,1004.8 508.4,1002.1 511.5,1000.1 C514.7,998.1 518.5,996.4 522.1,995.4 C525.7,994.5 529.7,994.2 533.2,994.4 C536.6,994.6 540.1,995.5 542.9,996.7 C545.6,997.9 548.0,999.7 549.6,1001.4 C551.3,1003.1 552.3,1005.2 552.8,1006.8 C553.3,1008.4 553.0,1010.0 552.5,1011.0 C552.0,1012.0 550.8,1012.7 549.8,1012.7 C548.8,1012.6 547.4,1012.0 546.5,1010.9 C545.6,1009.7 544.6,1007.8 544.4,1005.7 C544.1,1003.6 544.1,1000.8 544.9,998.2 C545.7,995.5 547.0,992.5 548.9,989.8 C550.8,987.2 553.5,984.4 556.4,982.4 C559.2,980.3 562.8,978.4 566.2,977.3 C569.6,976.2 573.6,975.5 576.9,975.5 C580.1,975.5 583.3,976.3 585.9,977.3 C588.6,978.3 590.8,980.0 592.5,981.5 C594.2,983.1 595.3,985.1 596.1,986.6 C596.8,988.1 597.0,989.7 597.1,990.6 C597.2,991.5 596.8,992.1 596.6,992.0 C596.3,991.9 595.8,991.3 595.6,990.1 C595.4,988.9 595.2,987.0 595.3,985.0 C595.5,982.9 595.8,980.2 596.6,977.7 C597.3,975.2 598.3,972.3 599.6,969.9 C600.9,967.5 602.6,965.1 604.4,963.3 C606.2,961.6 608.3,960.1 610.4,959.3 C612.4,958.5 614.7,958.3 616.9,958.5 C619.1,958.7 621.3,959.6 623.4,960.5 C625.4,961.5 627.4,963.1 629.3,964.4 C631.2,965.7 633.2,967.3 634.9,968.4 C636.6,969.5 638.1,970.6 639.3,971.1 C640.5,971.7 641.5,971.9 642.3,971.6 C643.1,971.3 643.7,970.5 644.2,969.3 C644.7,968.1 644.9,966.3 645.3,964.4 C645.7,962.5 646.0,960.1 646.5,957.8 C647.0,955.5 647.5,953.0 648.3,950.8 C649.1,948.7 650.1,946.5 651.3,944.8 C652.6,943.2 654.1,941.8 655.7,941.0 C657.4,940.1 659.3,939.8 661.3,939.8 C663.3,939.8 665.5,940.4 667.6,941.1 C669.7,941.9 671.9,943.1 673.9,944.2 C675.9,945.3 677.9,946.7 679.6,947.8 C681.3,948.8 682.9,949.9 684.2,950.5 C685.6,951.1 686.6,951.5 687.6,951.3 C688.5,951.1 689.1,950.5 689.7,949.5 C690.3,948.6 690.7,947.0 691.2,945.3 C691.6,943.6 691.9,941.4 692.5,939.3 C693.0,937.2 693.5,934.8 694.3,932.7 C695.1,930.7 696.0,928.5 697.1,926.8 C698.3,925.2 699.7,923.7 701.2,922.7 C702.8,921.7 704.6,921.2 706.5,921.0 C708.3,920.7 710.2,920.7 712.2,921.0 C714.1,921.4 716.2,922.2 718.1,922.9 C720.0,923.6 721.9,924.7 723.5,925.4 C725.2,926.2 726.8,927.1 728.1,927.5 C729.4,927.9 730.5,928.1 731.4,927.9 C732.3,927.6 733.0,927.0 733.6,926.0 C734.2,925.0 734.6,923.5 735.1,921.8 C735.5,920.1 735.8,917.9 736.3,915.8 C736.8,913.7 737.2,911.2 737.9,909.0 C738.6,906.8 739.4,904.5 740.4,902.6 C741.4,900.7 742.6,899.0 743.9,897.7 C745.3,896.4 746.9,895.5 748.6,894.9 C750.3,894.4 752.2,894.3 754.0,894.4 C755.9,894.5 757.9,895.1 759.7,895.6 C761.6,896.2 763.5,897.1 765.1,897.7 C766.8,898.4 768.4,899.2 769.8,899.6 C771.1,900.0 772.3,900.3 773.4,900.1 C774.4,899.9 775.2,899.5 775.9,898.6 C776.6,897.8 777.1,896.5 777.6,895.0 C778.1,893.5 778.5,891.5 779.0,889.6 C779.6,887.6 780.0,885.4 780.7,883.3 C781.4,881.2 782.1,879.0 783.1,877.1 C784.0,875.3 785.1,873.5 786.4,872.1 C787.7,870.8 786.7,871.0 790.8,869.0 C794.9,867.0 807.7,861.6 811.1,860.1 M493.5,1028.5 C493.9,1029.3 495.4,1031.9 495.6,1033.2 C495.7,1034.5 495.2,1035.7 494.6,1036.3 C494.0,1036.8 492.9,1037.0 492.0,1036.6 C491.1,1036.1 490.0,1035.1 489.4,1033.6 C488.8,1032.1 488.3,1030.0 488.5,1027.7 C488.7,1025.5 489.2,1022.7 490.5,1020.1 C491.7,1017.6 493.5,1014.7 495.8,1012.4 C498.0,1010.1 501.0,1007.8 504.0,1006.1 C507.0,1004.5 510.6,1003.2 513.9,1002.5 C517.2,1001.9 520.8,1001.8 523.9,1002.1 C527.0,1002.5 530.0,1003.5 532.3,1004.6 C534.7,1005.7 536.6,1007.3 538.0,1008.7 C539.3,1010.2 540.0,1011.9 540.4,1013.1 C540.7,1014.3 540.3,1015.5 539.9,1016.1 C539.5,1016.7 538.5,1016.9 537.7,1016.6 C537.0,1016.2 536.0,1015.3 535.4,1013.9 C534.9,1012.6 534.4,1010.6 534.6,1008.5 C534.8,1006.4 535.3,1003.8 536.4,1001.4 C537.6,998.9 539.3,996.2 541.4,993.9 C543.5,991.7 546.3,989.4 549.1,987.8 C552.0,986.1 555.4,984.8 558.6,984.1 C561.8,983.3 565.3,983.1 568.3,983.3 C571.3,983.5 574.2,984.4 576.6,985.3 C578.9,986.3 580.9,987.7 582.3,989.0 C583.8,990.3 584.6,992.0 585.0,993.1 C585.4,994.3 585.1,995.5 584.9,996.0 C584.7,996.6 584.1,996.8 583.7,996.4 C583.4,996.0 582.8,995.0 582.7,993.7 C582.6,992.3 582.5,990.3 583.0,988.3 C583.4,986.2 584.1,983.7 585.2,981.3 C586.2,979.0 587.7,976.5 589.4,974.4 C591.1,972.4 593.2,970.4 595.4,969.0 C597.5,967.6 599.9,966.6 602.2,966.1 C604.6,965.6 607.0,965.7 609.2,966.1 C611.5,966.4 613.7,967.4 615.6,968.4 C617.6,969.3 619.4,970.8 621.0,971.9 C622.6,973.0 623.9,974.3 625.2,975.1 C626.4,975.9 627.4,976.6 628.3,976.7 C629.2,976.8 630.0,976.5 630.7,975.8 C631.3,975.0 631.8,973.8 632.3,972.3 C632.9,970.8 633.2,968.9 633.7,966.9 C634.3,965.0 634.7,962.7 635.5,960.6 C636.2,958.6 637.0,956.4 638.0,954.6 C639.1,952.9 640.4,951.2 641.8,950.1 C643.2,949.0 644.9,948.2 646.7,947.8 C648.5,947.4 650.5,947.5 652.5,947.9 C654.4,948.2 656.5,949.1 658.5,949.9 C660.5,950.7 662.5,951.9 664.3,952.8 C666.1,953.7 667.8,954.8 669.2,955.4 C670.7,956.1 672.0,956.7 673.0,956.7 C674.1,956.8 675.0,956.5 675.8,955.9 C676.5,955.2 677.1,954.1 677.6,952.8 C678.2,951.4 678.6,949.6 679.2,947.8 C679.8,945.9 680.3,943.8 681.0,941.8 C681.8,939.9 682.6,937.8 683.6,936.1 C684.6,934.4 685.9,932.8 687.3,931.6 C688.7,930.5 690.3,929.6 692.0,929.2 C693.7,928.8 695.7,928.7 697.6,929.0 C699.5,929.2 701.5,929.9 703.4,930.6 C705.4,931.3 707.3,932.3 709.1,933.1 C710.9,933.9 712.6,935.0 714.0,935.5 C715.4,936.0 716.7,936.3 717.7,936.2 C718.8,936.1 719.6,935.8 720.4,935.0 C721.2,934.3 721.7,933.1 722.3,931.7 C722.9,930.3 723.3,928.5 723.8,926.7 C724.4,924.8 724.9,922.6 725.6,920.6 C726.3,918.6 727.0,916.5 728.0,914.7 C728.9,912.9 730.1,911.2 731.4,909.9 C732.7,908.6 734.2,907.6 735.8,906.9 C737.3,906.2 739.1,906.0 740.9,905.9 C742.7,905.9 744.6,906.3 746.4,906.7 C748.2,907.1 750.1,907.9 751.8,908.4 C753.4,909.0 755.1,909.7 756.5,910.1 C757.9,910.5 759.2,910.8 760.3,910.7 C761.4,910.6 762.3,910.3 763.1,909.6 C763.9,908.9 764.5,907.9 765.2,906.6 C765.8,905.3 766.3,903.6 766.9,901.9 C767.5,900.2 768.0,898.1 768.7,896.2 C769.5,894.4 770.2,892.3 771.2,890.6 C772.2,888.9 773.3,887.2 774.5,885.9 C775.8,884.6 777.2,883.5 778.8,882.8 C780.3,882.1 782.0,881.8 783.7,881.6 C785.5,881.5 787.3,881.7 789.1,882.0 C790.8,882.3 792.6,882.9 794.3,883.4 C795.9,883.8 796.6,885.0 798.9,884.7 C801.3,884.4 807.0,882.0 808.6,881.5 M477.1,1045.0 C476.7,1043.7 474.8,1040.3 474.6,1037.3 C474.5,1034.3 474.9,1030.5 476.2,1027.1 C477.4,1023.6 479.6,1019.8 482.3,1016.6 C485.1,1013.5 488.7,1010.3 492.6,1008.1 C496.4,1005.9 501.0,1004.1 505.3,1003.3 C509.6,1002.4 514.3,1002.3 518.3,1002.8 C522.3,1003.3 526.3,1004.7 529.3,1006.4 C532.4,1008.0 534.9,1010.4 536.6,1012.5 C538.3,1014.7 539.2,1017.3 539.4,1019.2 C539.7,1021.2 539.0,1023.2 538.2,1024.4 C537.3,1025.5 535.7,1026.2 534.3,1026.1 C532.9,1026.0 531.0,1025.2 529.8,1023.7 C528.6,1022.2 527.3,1019.9 526.9,1017.3 C526.5,1014.7 526.6,1011.3 527.5,1008.1 C528.4,1004.9 530.0,1001.2 532.3,998.1 C534.6,994.9 537.8,991.7 541.2,989.3 C544.6,986.9 548.8,984.9 552.9,983.6 C556.9,982.4 561.4,981.8 565.4,981.9 C569.4,982.0 573.4,982.9 576.6,984.2 C579.9,985.4 582.7,987.4 584.8,989.3 C586.8,991.1 588.2,993.5 588.9,995.5 C589.5,997.4 589.2,999.5 588.7,1000.8 C588.3,1002.1 587.1,1003.0 586.3,1003.1 C585.4,1003.2 584.2,1002.6 583.5,1001.4 C582.8,1000.1 582.1,998.0 582.0,995.6 C581.9,993.2 582.2,990.0 583.0,987.0 C583.8,984.0 585.1,980.5 586.7,977.6 C588.4,974.7 590.6,971.7 592.9,969.4 C595.2,967.2 598.0,965.4 600.7,964.3 C603.4,963.2 606.4,962.8 609.1,963.0 C611.9,963.2 614.6,964.2 617.1,965.3 C619.6,966.5 622.0,968.4 624.1,970.1 C626.1,971.8 628.0,973.9 629.6,975.4 C631.2,977.0 632.6,978.6 633.8,979.4 C635.1,980.2 636.2,980.6 637.0,980.3 C637.9,980.0 638.4,979.2 638.9,977.8 C639.4,976.5 639.6,974.5 639.9,972.3 C640.2,970.1 640.4,967.3 640.9,964.6 C641.3,962.0 641.8,958.9 642.6,956.4 C643.4,953.8 644.4,951.2 645.8,949.2 C647.1,947.2 648.7,945.5 650.5,944.5 C652.3,943.4 654.4,942.9 656.7,942.9 C658.9,942.9 661.4,943.5 663.7,944.4 C666.1,945.3 668.7,946.7 671.0,948.1 C673.3,949.4 675.6,951.2 677.6,952.5 C679.6,953.9 681.4,955.3 682.9,956.2 C684.5,957.0 685.7,957.6 686.7,957.6 C687.8,957.6 688.5,957.1 689.1,956.1 C689.8,955.1 690.1,953.4 690.5,951.6 C691.0,949.7 691.2,947.2 691.7,944.8 C692.2,942.4 692.7,939.6 693.4,937.1 C694.2,934.6 695.1,932.0 696.2,930.0 C697.4,927.9 698.8,926.1 700.5,924.8 C702.2,923.5 704.1,922.8 706.2,922.4 C708.2,922.0 710.5,922.1 712.7,922.6 C714.9,923.0 717.3,924.0 719.6,925.0 C721.8,926.0 724.0,927.4 726.0,928.5 C728.0,929.6 729.9,930.9 731.5,931.7 C733.1,932.4 734.4,933.1 735.6,933.1 C736.7,933.2 737.6,932.9 738.3,932.0 C739.1,931.2 739.5,929.8 740.0,928.2 C740.5,926.5 740.8,924.2 741.3,922.0 C741.8,919.7 742.2,917.0 742.9,914.6 C743.6,912.2 744.4,909.5 745.4,907.4 C746.4,905.2 747.7,903.1 749.1,901.6 C750.6,900.0 752.3,898.9 754.2,898.2 C756.0,897.5 758.1,897.3 760.3,897.4 C762.4,897.5 764.7,898.2 766.8,898.9 C769.0,899.6 771.2,900.8 773.2,901.7 C775.2,902.6 777.1,903.8 778.8,904.6 C780.5,905.3 782.0,906.0 783.2,906.2 C784.5,906.4 785.5,906.3 786.4,905.7 C787.3,905.1 788.0,904.0 788.6,902.7 C789.2,901.3 789.7,899.4 790.2,897.4 C790.8,895.4 791.2,893.0 791.9,890.7 C792.6,888.5 790.4,886.3 794.3,883.9 C798.2,881.5 811.7,877.5 815.2,876.3 M472.1,1040.7 C472.0,1039.6 471.1,1036.5 471.4,1034.0 C471.8,1031.5 472.6,1028.4 474.1,1025.7 C475.6,1023.0 477.8,1020.0 480.3,1017.7 C482.9,1015.3 486.2,1013.0 489.5,1011.5 C492.8,1010.0 496.7,1008.9 500.2,1008.5 C503.7,1008.1 507.4,1008.3 510.5,1008.9 C513.6,1009.5 516.6,1010.8 518.8,1012.2 C521.0,1013.5 522.7,1015.4 523.8,1017.0 C524.9,1018.5 525.3,1020.3 525.3,1021.5 C525.4,1022.7 524.7,1023.8 524.0,1024.2 C523.4,1024.6 522.2,1024.6 521.3,1023.9 C520.5,1023.3 519.4,1021.9 518.9,1020.3 C518.5,1018.6 518.2,1016.2 518.5,1013.8 C518.9,1011.5 519.8,1008.6 521.3,1006.0 C522.8,1003.4 524.9,1000.5 527.4,998.3 C529.9,996.0 533.1,993.9 536.3,992.4 C539.5,991.0 543.2,990.0 546.6,989.5 C549.9,989.1 553.5,989.3 556.5,989.8 C559.5,990.4 562.3,991.6 564.4,992.8 C566.6,994.0 568.3,995.8 569.4,997.2 C570.5,998.6 570.9,1000.3 571.0,1001.4 C571.2,1002.5 570.6,1003.5 570.1,1003.8 C569.5,1004.1 568.5,1004.0 567.7,1003.4 C567.0,1002.7 566.0,1001.5 565.8,999.8 C565.5,998.2 565.5,995.9 566.1,993.5 C566.7,991.2 567.8,988.3 569.4,985.8 C570.9,983.3 573.1,980.7 575.4,978.6 C577.7,976.5 580.5,974.6 583.2,973.3 C585.9,972.1 588.9,971.3 591.7,971.1 C594.4,970.8 597.2,971.3 599.6,971.9 C602.1,972.6 604.3,973.9 606.2,975.1 C608.1,976.3 609.7,977.9 611.0,979.1 C612.3,980.3 613.2,981.6 614.0,982.4 C614.8,983.1 615.3,983.6 615.8,983.5 C616.3,983.3 616.5,982.7 616.9,981.7 C617.3,980.6 617.6,978.9 618.1,977.0 C618.6,975.2 619.1,972.8 619.9,970.5 C620.6,968.3 621.5,965.7 622.5,963.6 C623.4,961.5 624.4,959.4 625.7,957.8 C627.0,956.2 628.5,954.9 630.2,954.1 C631.9,953.3 633.8,953.0 635.8,953.0 C637.8,953.1 640.0,953.6 642.1,954.3 C644.2,955.0 646.3,956.2 648.3,957.2 C650.3,958.2 652.2,959.5 653.9,960.5 C655.6,961.4 657.2,962.3 658.5,962.7 C659.8,963.2 660.8,963.4 661.7,963.0 C662.6,962.7 663.3,962.0 663.9,960.9 C664.5,959.8 665.0,958.1 665.5,956.4 C666.0,954.6 666.4,952.4 667.1,950.4 C667.7,948.3 668.3,946.0 669.2,944.0 C670.1,942.1 671.2,940.1 672.5,938.6 C673.8,937.1 675.3,935.9 676.9,935.1 C678.6,934.3 680.5,934.0 682.4,934.0 C684.3,934.0 686.5,934.5 688.5,935.1 C690.5,935.7 692.6,936.7 694.5,937.6 C696.5,938.5 698.4,939.7 700.0,940.5 C701.7,941.3 703.2,942.1 704.5,942.4 C705.8,942.8 706.9,942.9 707.8,942.6 C708.7,942.2 709.4,941.5 710.1,940.4 C710.8,939.3 711.3,937.8 711.8,936.1 C712.4,934.4 712.9,932.2 713.5,930.2 C714.2,928.2 714.9,926.0 715.8,924.1 C716.7,922.2 717.7,920.3 719.0,918.8 C720.3,917.4 721.7,916.1 723.3,915.3 C724.9,914.5 726.8,914.1 728.6,914.0 C730.5,913.9 732.5,914.3 734.5,914.8 C736.4,915.2 738.4,916.1 740.3,916.8 C742.1,917.5 743.9,918.5 745.5,919.1 C747.1,919.8 748.6,920.4 749.9,920.7 C751.2,920.9 752.2,920.9 753.2,920.5 C754.1,920.1 754.8,919.3 755.5,918.2 C756.2,917.1 756.8,915.6 757.4,914.0 C758.0,912.3 758.6,910.3 759.3,908.5 C760.0,906.6 760.7,904.5 761.7,902.7 C762.6,900.9 763.7,899.1 764.9,897.8 C766.2,896.4 767.7,895.2 769.2,894.4 C770.8,893.6 772.6,893.2 774.4,893.1 C776.2,892.9 778.2,893.2 780.1,893.6 C781.9,894.0 783.9,894.7 785.7,895.3 C787.5,895.9 789.3,896.7 790.8,897.3 C792.4,897.8 793.8,898.3 795.1,898.5 C796.4,898.6 797.5,898.5 798.4,898.1 C799.4,897.7 799.1,896.7 800.9,895.9 C802.7,895.0 807.9,893.5 809.3,893.1 M481.0,1016.0 C483.0,1015.7 489.2,1014.4 493.0,1014.6 C496.7,1014.8 500.6,1015.8 503.6,1017.2 C506.6,1018.5 509.2,1020.6 511.0,1022.6 C512.8,1024.5 513.9,1027.0 514.4,1029.0 C514.8,1031.0 514.4,1033.0 513.7,1034.4 C513.0,1035.7 511.5,1036.7 510.1,1036.8 C508.8,1037.0 506.9,1036.6 505.6,1035.5 C504.3,1034.3 502.9,1032.4 502.2,1030.2 C501.6,1027.9 501.3,1024.9 501.9,1022.0 C502.4,1019.1 503.6,1015.7 505.5,1012.8 C507.3,1009.8 510.0,1006.7 513.0,1004.4 C516.0,1002.1 519.8,1000.0 523.4,998.7 C527.1,997.4 531.2,996.8 534.9,996.8 C538.6,996.7 542.4,997.5 545.4,998.6 C548.4,999.7 551.2,1001.6 553.1,1003.3 C555.1,1005.1 556.4,1007.4 557.0,1009.3 C557.7,1011.1 557.5,1013.2 557.1,1014.5 C556.6,1015.8 555.4,1016.9 554.2,1017.2 C553.1,1017.5 551.4,1017.2 550.2,1016.3 C549.0,1015.4 547.6,1013.8 547.0,1011.8 C546.4,1009.8 546.0,1007.0 546.4,1004.3 C546.8,1001.6 547.8,998.4 549.4,995.5 C551.1,992.7 553.5,989.7 556.3,987.4 C559.0,985.0 562.5,982.9 566.0,981.5 C569.4,980.1 573.5,979.2 577.0,979.0 C580.4,978.9 583.9,979.5 586.8,980.4 C589.6,981.4 592.1,983.1 593.9,984.8 C595.8,986.4 597.1,988.6 598.0,990.4 C598.8,992.1 599.0,994.0 599.1,995.2 C599.1,996.4 598.6,997.4 598.2,997.6 C597.7,997.7 597.0,997.3 596.6,996.3 C596.1,995.3 595.6,993.6 595.5,991.6 C595.4,989.6 595.5,986.9 596.0,984.3 C596.5,981.7 597.4,978.6 598.6,976.0 C599.7,973.5 601.3,970.8 603.1,968.8 C604.8,966.8 606.9,965.1 609.0,964.1 C611.1,963.1 613.5,962.7 615.7,962.8 C618.0,963.0 620.3,963.8 622.5,964.8 C624.6,965.8 626.7,967.5 628.6,969.0 C630.5,970.5 632.2,972.4 633.8,973.7 C635.4,975.1 637.0,976.4 638.3,977.1 C639.5,977.9 640.5,978.3 641.2,978.2 C642.0,978.0 642.4,977.4 642.9,976.2 C643.3,975.1 643.4,973.3 643.7,971.4 C643.9,969.5 644.1,967.0 644.4,964.6 C644.8,962.3 645.2,959.5 645.8,957.2 C646.5,954.9 647.4,952.6 648.5,950.8 C649.6,949.1 651.0,947.5 652.6,946.6 C654.2,945.7 656.1,945.3 658.1,945.3 C660.0,945.3 662.2,945.9 664.3,946.7 C666.4,947.6 668.7,948.9 670.7,950.2 C672.7,951.4 674.8,953.0 676.5,954.3 C678.2,955.5 679.8,956.8 681.1,957.5 C682.4,958.3 683.5,958.8 684.3,958.7 C685.2,958.7 685.7,958.2 686.2,957.2 C686.7,956.3 687.0,954.7 687.3,953.0 C687.7,951.2 687.9,948.9 688.2,946.7 C688.6,944.6 689.0,942.0 689.7,939.8 C690.4,937.6 691.2,935.3 692.2,933.5 C693.3,931.8 694.6,930.2 696.1,929.2 C697.7,928.2 699.4,927.6 701.3,927.4 C703.2,927.3 705.3,927.7 707.3,928.3 C709.3,929.0 711.5,930.1 713.5,931.2 C715.5,932.3 717.5,933.7 719.2,934.9 C721.0,936.0 722.6,937.2 723.9,938.0 C725.3,938.7 726.4,939.3 727.4,939.3 C728.3,939.3 729.0,938.9 729.6,938.1 C730.2,937.3 730.5,936.0 730.9,934.4 C731.3,932.9 731.6,930.8 732.0,928.8 C732.5,926.7 732.9,924.3 733.6,922.2 C734.2,920.2 735.0,917.9 736.0,916.2 C737.1,914.4 738.3,912.9 739.7,911.8 C741.2,910.7 742.8,910.0 744.6,909.7 C746.4,909.4 748.4,909.6 750.3,910.1 C752.3,910.5 754.4,911.5 756.3,912.4 C758.3,913.3 760.2,914.6 762.0,915.6 C763.7,916.6 765.4,917.7 766.8,918.5 C768.2,919.2 769.4,919.7 770.4,919.8 C771.4,919.9 772.1,919.6 772.8,919.0 C773.5,918.3 774.0,917.1 774.5,915.7 C774.9,914.4 775.3,912.5 775.8,910.6 C776.3,908.8 776.7,906.6 777.4,904.6 C778.1,902.6 778.8,900.5 779.8,898.8 C780.8,897.1 782.0,895.5 783.3,894.4 C784.7,893.2 786.3,892.4 788.0,892.0 C789.7,891.6 791.6,891.6 793.4,891.9 C795.3,892.2 797.3,892.9 799.2,893.7 C801.1,894.5 800.2,896.8 804.8,896.4 C809.3,896.0 823.0,892.2 826.7,891.3 M506.0,1030.6 C506.4,1031.8 508.2,1035.6 508.3,1037.6 C508.3,1039.7 507.5,1041.9 506.4,1043.1 C505.4,1044.4 503.5,1045.3 501.9,1045.4 C500.3,1045.4 498.2,1044.7 496.7,1043.4 C495.2,1042.1 493.7,1039.9 493.0,1037.4 C492.3,1034.9 492.1,1031.7 492.6,1028.6 C493.2,1025.5 494.6,1021.9 496.6,1018.8 C498.5,1015.7 501.4,1012.6 504.6,1010.2 C507.7,1007.8 511.7,1005.8 515.5,1004.5 C519.3,1003.3 523.6,1002.7 527.4,1002.9 C531.2,1003.0 535.1,1003.9 538.2,1005.2 C541.3,1006.5 544.0,1008.5 546.0,1010.5 C547.9,1012.5 549.1,1015.0 549.7,1017.1 C550.2,1019.1 550.0,1021.4 549.3,1022.9 C548.7,1024.3 547.2,1025.6 545.9,1026.0 C544.5,1026.4 542.6,1026.3 541.1,1025.4 C539.7,1024.5 538.1,1022.9 537.2,1020.8 C536.3,1018.8 535.7,1015.9 535.9,1013.1 C536.1,1010.3 536.9,1006.9 538.4,1003.9 C539.9,1000.9 542.3,997.7 545.0,995.1 C547.7,992.6 551.2,990.2 554.8,988.7 C558.3,987.1 562.4,986.1 566.1,985.7 C569.8,985.4 573.8,985.8 577.0,986.7 C580.3,987.5 583.3,989.1 585.6,990.8 C587.9,992.5 589.6,994.8 590.6,996.7 C591.6,998.7 591.6,1001.0 591.4,1002.6 C591.2,1004.2 590.2,1005.8 589.3,1006.4 C588.4,1007.1 587.0,1007.2 586.0,1006.6 C585.0,1006.0 583.9,1004.7 583.3,1002.9 C582.7,1001.1 582.3,998.5 582.5,995.9 C582.7,993.3 583.3,990.1 584.3,987.2 C585.4,984.4 587.0,981.3 588.8,978.9 C590.7,976.4 593.1,974.1 595.5,972.6 C597.9,971.1 600.7,970.1 603.3,969.8 C605.9,969.5 608.7,969.9 611.2,970.6 C613.7,971.4 616.1,973.0 618.2,974.5 C620.3,976.0 622.2,978.1 623.7,979.8 C625.3,981.5 626.6,983.5 627.6,984.8 C628.6,986.1 629.4,987.2 630.0,987.6 C630.6,988.0 631.0,987.9 631.4,987.2 C631.7,986.4 632.0,985.0 632.2,983.3 C632.4,981.5 632.3,979.2 632.5,976.8 C632.6,974.5 632.8,971.7 633.2,969.1 C633.6,966.6 634.1,963.9 634.9,961.7 C635.8,959.6 636.9,957.5 638.2,956.1 C639.6,954.7 641.2,953.7 643.0,953.3 C644.8,952.9 646.9,953.1 649.0,953.6 C651.1,954.2 653.4,955.4 655.5,956.6 C657.6,957.8 659.8,959.6 661.7,961.0 C663.7,962.5 665.5,964.2 667.0,965.4 C668.6,966.7 669.9,967.8 670.9,968.3 C672.0,968.9 672.7,969.0 673.3,968.6 C673.9,968.2 674.2,967.2 674.5,965.9 C674.8,964.5 674.9,962.6 675.1,960.5 C675.3,958.4 675.4,955.8 675.7,953.5 C676.1,951.1 676.5,948.4 677.2,946.2 C678.0,944.0 678.9,941.8 680.0,940.2 C681.2,938.6 682.7,937.3 684.3,936.6 C685.9,935.9 687.9,935.7 689.8,935.9 C691.8,936.1 693.9,936.8 696.0,937.8 C698.1,938.7 700.3,940.2 702.2,941.5 C704.2,942.8 706.1,944.4 707.7,945.6 C709.4,946.9 710.8,948.1 712.0,948.8 C713.2,949.5 714.2,949.9 714.9,949.8 C715.7,949.7 716.2,949.1 716.6,948.1 C717.1,947.1 717.3,945.6 717.6,943.9 C717.9,942.2 718.0,939.9 718.4,937.8 C718.8,935.6 719.2,933.1 719.8,931.0 C720.5,928.9 721.2,926.7 722.3,925.0 C723.4,923.3 724.6,921.8 726.1,920.9 C727.6,919.9 729.4,919.4 731.2,919.3 C733.0,919.3 735.1,919.7 737.1,920.4 C739.1,921.1 741.3,922.3 743.2,923.5 C745.2,924.6 747.2,926.1 748.9,927.3 C750.6,928.5 752.3,929.8 753.6,930.7 C755.0,931.5 756.1,932.2 757.0,932.4 C758.0,932.5 758.7,932.3 759.2,931.7 C759.8,931.0 760.2,929.8 760.6,928.4 C761.0,927.0 761.2,925.0 761.6,923.1 C762.0,921.2 762.3,918.9 762.9,916.9 C763.5,914.8 764.2,912.6 765.1,910.9 C766.1,909.1 767.2,907.4 768.5,906.3 C769.9,905.2 771.5,904.3 773.1,904.0 C774.8,903.6 776.8,903.7 778.7,904.1 C780.6,904.5 782.6,905.4 784.6,906.3 C786.5,907.2 788.5,908.5 790.3,909.6 C792.0,910.7 793.7,912.0 795.2,912.9 C796.6,913.7 797.9,914.6 799.0,914.9 C800.1,915.2 800.9,915.3 801.7,914.9 C802.4,914.5 802.9,913.6 803.4,912.5 C803.9,911.4 802.0,909.4 804.7,908.1 C807.3,906.7 816.7,905.1 819.2,904.5 M494.8,1046.8 C494.2,1046.6 492.4,1046.5 491.5,1045.5 C490.5,1044.4 489.4,1042.6 489.0,1040.5 C488.7,1038.5 488.5,1035.7 489.2,1032.9 C489.8,1030.2 491.1,1026.9 492.9,1024.1 C494.7,1021.3 497.3,1018.3 500.2,1015.9 C503.1,1013.6 506.7,1011.4 510.3,1010.0 C513.8,1008.5 517.9,1007.6 521.6,1007.3 C525.2,1007.0 529.1,1007.4 532.3,1008.1 C535.4,1008.8 538.4,1010.3 540.7,1011.7 C542.9,1013.1 544.6,1015.1 545.8,1016.7 C546.9,1018.3 547.2,1020.1 547.3,1021.4 C547.3,1022.6 546.7,1023.7 546.0,1024.1 C545.3,1024.5 544.1,1024.4 543.2,1023.7 C542.4,1023.1 541.3,1021.7 540.8,1020.0 C540.3,1018.3 540.0,1015.9 540.4,1013.4 C540.7,1011.0 541.6,1008.0 543.0,1005.2 C544.5,1002.5 546.6,999.6 549.1,997.1 C551.7,994.7 554.9,992.4 558.1,990.7 C561.4,989.0 565.2,987.7 568.8,987.1 C572.3,986.4 576.1,986.4 579.4,986.8 C582.6,987.1 585.9,988.1 588.2,989.3 C590.6,990.5 592.3,992.4 593.6,993.9 C594.9,995.4 595.6,997.3 596.0,998.5 C596.5,999.7 596.4,1000.9 596.3,1001.4 C596.2,1001.8 595.8,1001.9 595.6,1001.3 C595.3,1000.8 595.0,999.6 595.0,998.0 C595.0,996.4 595.1,994.1 595.7,991.8 C596.2,989.5 597.0,986.7 598.1,984.1 C599.2,981.6 600.7,978.8 602.4,976.6 C604.1,974.4 606.1,972.3 608.2,970.8 C610.2,969.3 612.6,968.3 614.8,967.8 C617.1,967.3 619.5,967.4 621.7,967.9 C624.0,968.3 626.2,969.4 628.3,970.5 C630.4,971.6 632.3,973.1 634.2,974.3 C636.2,975.5 638.2,976.8 639.8,977.7 C641.5,978.5 642.9,979.3 644.1,979.5 C645.3,979.7 646.2,979.5 647.1,978.9 C647.9,978.2 648.4,977.0 649.0,975.5 C649.6,974.1 650.0,972.1 650.5,970.0 C651.1,967.9 651.6,965.4 652.3,963.2 C653.0,960.9 653.8,958.5 654.8,956.4 C655.9,954.4 657.1,952.4 658.6,951.0 C660.1,949.5 661.8,948.4 663.7,947.7 C665.5,947.1 667.6,946.9 669.7,947.1 C671.8,947.2 674.1,947.9 676.3,948.7 C678.5,949.5 680.7,950.7 682.8,951.7 C684.8,952.7 686.8,953.9 688.5,954.8 C690.3,955.7 691.8,956.5 693.2,956.9 C694.5,957.2 695.6,957.3 696.6,956.9 C697.6,956.5 698.3,955.6 699.0,954.4 C699.7,953.3 700.2,951.6 700.8,949.8 C701.4,947.9 701.9,945.7 702.6,943.6 C703.3,941.5 704.0,939.1 705.0,937.1 C706.0,935.1 707.1,933.0 708.4,931.5 C709.8,930.0 711.4,928.8 713.2,928.1 C715.0,927.3 717.0,926.9 719.0,926.9 C721.0,926.9 723.3,927.4 725.4,928.0 C727.6,928.6 729.8,929.7 731.9,930.6 C734.0,931.6 736.1,932.8 737.9,933.8 C739.8,934.7 741.5,935.7 743.0,936.2 C744.5,936.8 745.8,937.1 747.0,937.0 C748.1,937.0 749.0,936.5 749.9,935.7 C750.8,934.9 751.4,933.6 752.1,932.2 C752.9,930.7 753.5,928.9 754.2,927.1 C755.0,925.3 755.8,923.2 756.7,921.3 C757.7,919.5 758.8,917.6 760.1,916.1 C761.4,914.5 762.8,913.2 764.5,912.2 C766.1,911.3 768.0,910.7 769.9,910.4 C771.8,910.2 773.9,910.3 776.0,910.7 C778.0,911.1 780.2,911.8 782.3,912.6 C784.3,913.4 786.4,914.4 788.3,915.3 C790.2,916.1 792.0,917.0 793.6,917.6 C795.2,918.2 796.6,918.7 797.9,918.7 C799.2,918.8 800.2,918.6 801.2,918.0 C802.2,917.4 803.0,916.4 803.8,915.3 C804.6,914.1 803.1,911.7 806.1,910.9 C809.2,910.1 819.4,910.6 822.1,910.6 M469.8,1043.9 C470.1,1042.2 470.3,1037.0 471.8,1033.5 C473.2,1030.1 475.6,1026.2 478.5,1023.1 C481.4,1020.0 485.3,1017.0 489.2,1014.9 C493.2,1012.8 497.9,1011.2 502.2,1010.5 C506.5,1009.8 511.2,1009.9 515.2,1010.6 C519.1,1011.3 522.9,1012.9 525.8,1014.6 C528.7,1016.3 531.1,1018.8 532.5,1021.0 C534.0,1023.2 534.6,1025.7 534.7,1027.6 C534.7,1029.4 533.9,1031.2 532.9,1032.2 C531.9,1033.1 530.1,1033.5 528.7,1033.1 C527.3,1032.7 525.5,1031.5 524.5,1029.8 C523.4,1028.0 522.4,1025.3 522.3,1022.5 C522.2,1019.7 522.7,1016.2 523.9,1012.9 C525.2,1009.7 527.2,1006.0 529.9,1003.0 C532.5,999.9 536.1,997.0 539.7,994.8 C543.4,992.7 547.9,991.0 552.0,990.1 C556.1,989.2 560.6,989.1 564.5,989.5 C568.3,990.0 572.1,991.2 575.1,992.7 C578.0,994.2 580.5,996.4 582.1,998.4 C583.8,1000.3 584.6,1002.7 584.9,1004.4 C585.3,1006.2 584.7,1008.0 584.0,1008.9 C583.3,1009.9 581.8,1010.4 580.7,1010.1 C579.7,1009.8 578.4,1008.7 577.8,1007.0 C577.2,1005.4 576.7,1002.8 576.9,1000.1 C577.1,997.4 577.8,994.0 579.0,990.9 C580.2,987.8 582.0,984.3 584.2,981.5 C586.3,978.7 589.0,976.0 591.8,974.2 C594.5,972.3 597.7,970.9 600.6,970.3 C603.6,969.6 606.8,969.8 609.6,970.4 C612.4,971.0 615.2,972.4 617.6,973.9 C620.0,975.3 622.1,977.4 624.0,979.1 C625.9,980.8 627.4,982.8 628.7,984.1 C630.1,985.4 631.1,986.6 632.0,986.9 C632.9,987.3 633.7,987.1 634.3,986.3 C635.0,985.5 635.4,984.0 635.8,982.2 C636.2,980.3 636.3,977.8 636.7,975.3 C637.1,972.8 637.5,969.7 638.1,967.0 C638.8,964.3 639.5,961.4 640.6,959.1 C641.7,956.8 643.1,954.6 644.7,953.1 C646.4,951.6 648.3,950.6 650.4,950.1 C652.5,949.6 654.9,949.8 657.3,950.3 C659.7,950.9 662.3,952.1 664.7,953.3 C667.1,954.5 669.5,956.2 671.7,957.6 C673.9,959.0 675.9,960.6 677.7,961.7 C679.4,962.8 680.9,963.7 682.1,964.1 C683.4,964.4 684.3,964.3 685.1,963.6 C685.9,962.9 686.4,961.7 686.9,960.0 C687.4,958.4 687.6,956.2 688.1,953.9 C688.6,951.6 689.0,948.8 689.6,946.2 C690.3,943.7 691.1,941.0 692.1,938.7 C693.2,936.5 694.5,934.3 696.0,932.8 C697.6,931.3 699.4,930.1 701.4,929.5 C703.4,928.9 705.7,928.8 708.0,929.2 C710.3,929.5 712.8,930.5 715.1,931.6 C717.5,932.7 720.0,934.4 722.2,935.8 C724.4,937.2 726.6,938.9 728.4,940.1 C730.3,941.2 731.9,942.3 733.3,942.8 C734.7,943.3 735.8,943.5 736.7,943.1 C737.7,942.8 738.4,941.9 739.0,940.6 C739.7,939.3 740.2,937.5 740.8,935.6 C741.4,933.7 742.0,931.3 742.7,929.1 C743.5,926.9 744.4,924.5 745.5,922.6 C746.6,920.6 747.9,918.7 749.5,917.3 C751.0,915.9 752.8,914.9 754.8,914.3 C756.8,913.8 759.0,913.7 761.2,914.0 C763.5,914.3 765.9,915.2 768.2,916.1 C770.6,917.1 773.0,918.5 775.1,919.7 C777.3,920.9 779.4,922.4 781.3,923.5 C783.1,924.5 784.8,925.6 786.3,926.1 C787.7,926.6 788.9,926.8 790.0,926.5 C791.0,926.3 791.8,925.5 792.6,924.4 C793.4,923.4 794.0,921.8 794.7,920.1 C795.4,918.3 796.0,916.2 796.8,914.2 C797.6,912.2 798.5,910.0 799.6,908.1 C800.7,906.3 798.1,904.7 803.5,903.1 C808.9,901.5 827.4,899.2 832.2,898.4 M469.5,1047.2 C469.9,1045.8 470.4,1041.5 471.8,1038.7 C473.2,1035.9 475.3,1032.8 477.8,1030.3 C480.4,1027.8 483.7,1025.5 487.0,1023.8 C490.4,1022.2 494.3,1021.0 497.9,1020.5 C501.5,1020.0 505.3,1020.2 508.5,1020.8 C511.7,1021.4 514.8,1022.8 517.1,1024.2 C519.4,1025.6 521.2,1027.6 522.3,1029.3 C523.5,1030.9 523.9,1032.9 523.9,1034.2 C523.9,1035.6 523.2,1036.8 522.5,1037.3 C521.7,1037.8 520.4,1037.9 519.4,1037.3 C518.4,1036.7 517.2,1035.4 516.6,1033.8 C516.0,1032.1 515.5,1029.7 515.8,1027.3 C516.0,1024.9 516.8,1021.9 518.2,1019.2 C519.6,1016.5 521.7,1013.6 524.2,1011.2 C526.7,1008.9 529.9,1006.6 533.1,1005.1 C536.3,1003.5 540.1,1002.4 543.6,1001.9 C547.0,1001.4 550.7,1001.6 553.7,1002.2 C556.8,1002.7 559.8,1004.0 562.0,1005.3 C564.2,1006.6 566.0,1008.4 567.1,1010.0 C568.2,1011.5 568.7,1013.3 568.7,1014.5 C568.8,1015.7 568.2,1016.8 567.6,1017.2 C566.9,1017.7 565.7,1017.7 564.9,1017.1 C564.1,1016.5 563.0,1015.2 562.5,1013.6 C562.0,1012.0 561.7,1009.7 562.0,1007.4 C562.4,1005.1 563.2,1002.2 564.6,999.7 C566.1,997.1 568.3,994.3 570.8,992.0 C573.2,989.8 576.3,987.7 579.2,986.3 C582.2,984.9 585.5,983.9 588.5,983.6 C591.5,983.3 594.5,983.6 597.1,984.3 C599.7,984.9 602.1,986.3 604.1,987.5 C606.0,988.8 607.6,990.6 608.8,991.9 C610.0,993.3 610.7,994.8 611.3,995.7 C611.9,996.6 612.1,997.3 612.3,997.3 C612.6,997.3 612.5,996.9 612.7,995.9 C612.8,994.9 612.8,993.3 613.1,991.5 C613.4,989.6 613.8,987.2 614.5,984.9 C615.1,982.6 616.0,979.9 617.1,977.6 C618.1,975.4 619.4,973.0 620.9,971.3 C622.3,969.6 624.0,968.2 625.7,967.3 C627.5,966.5 629.3,966.1 631.3,966.2 C633.3,966.2 635.5,966.9 637.6,967.6 C639.7,968.4 641.9,969.6 643.9,970.7 C645.9,971.8 647.9,973.2 649.6,974.3 C651.3,975.3 652.8,976.3 654.1,976.8 C655.4,977.3 656.4,977.6 657.3,977.3 C658.2,977.0 658.8,976.3 659.4,975.2 C659.9,974.1 660.3,972.4 660.8,970.6 C661.2,968.8 661.6,966.5 662.1,964.4 C662.7,962.3 663.3,959.9 664.2,957.9 C665.0,955.8 666.0,953.8 667.3,952.2 C668.5,950.7 670.0,949.4 671.7,948.6 C673.3,947.8 675.2,947.5 677.1,947.5 C679.1,947.5 681.2,948.1 683.3,948.7 C685.3,949.4 687.4,950.5 689.4,951.5 C691.3,952.5 693.2,953.8 694.9,954.7 C696.5,955.6 698.1,956.5 699.3,956.9 C700.6,957.3 701.7,957.5 702.6,957.2 C703.4,956.9 704.1,956.1 704.7,955.0 C705.3,954.0 705.8,952.4 706.3,950.7 C706.8,949.0 707.2,946.8 707.9,944.8 C708.5,942.8 709.1,940.4 710.0,938.6 C711.0,936.8 712.1,935.1 713.5,933.9 C714.8,932.6 716.4,931.6 718.1,931.1 C719.8,930.5 721.7,930.4 723.7,930.6 C725.7,930.8 727.8,931.5 729.9,932.2 C732.0,933.0 734.1,934.2 736.1,935.3 C738.1,936.4 740.0,937.7 741.7,938.7 C743.4,939.7 745.0,940.7 746.4,941.2 C747.7,941.7 748.9,942.0 749.9,941.9 C750.9,941.8 751.7,941.2 752.4,940.4 C753.2,939.5 753.7,938.2 754.4,936.8 C755.1,935.4 755.7,933.6 756.4,931.9 C757.2,930.2 758.0,928.3 759.0,926.7 C760.0,925.1 761.2,923.5 762.6,922.4 C763.9,921.2 765.5,920.3 767.2,919.8 C768.8,919.3 770.7,919.1 772.7,919.3 C774.6,919.4 776.7,920.1 778.7,920.8 C780.7,921.5 782.8,922.5 784.7,923.5 C786.6,924.4 788.5,925.6 790.2,926.5 C791.8,927.3 793.4,928.2 794.7,928.6 C796.1,929.1 797.2,929.3 798.3,929.2 C799.3,929.0 800.1,928.5 800.9,927.6 C801.7,926.8 802.4,925.6 803.1,924.3 C803.8,923.0 804.5,921.3 805.3,919.7 C806.1,918.1 805.1,915.5 808.1,914.9 C811.0,914.4 820.4,916.1 822.9,916.4" fill="none" stroke="#2b5bb0" stroke-width="1.7" stroke-linejoin="round" stroke-linecap="round"/>
<path d="M405.0,1050.0 C409.5,1048.5 422.5,1042.9 432.0,1041.0 C441.5,1039.1 452.0,1042.3 462.0,1038.6 C472.0,1034.9 484.8,1022.6 492.0,1018.8 C499.2,1015.1 502.8,1016.4 505.0,1015.9 M411.0,1048.0 C415.3,1046.7 428.0,1042.7 437.0,1040.0 C446.0,1037.3 455.8,1035.8 465.0,1032.0 C474.2,1028.3 485.3,1017.9 492.0,1017.4 C498.7,1017.0 502.8,1027.2 505.0,1029.1 M417.0,1046.0 C421.2,1044.8 433.5,1041.2 442.0,1039.0 C450.5,1036.8 459.7,1034.4 468.0,1032.8 C476.3,1031.2 485.8,1031.4 492.0,1029.4 C498.2,1027.4 502.8,1022.2 505.0,1020.7 M423.0,1044.0 C427.0,1043.0 439.0,1039.8 447.0,1038.0 C455.0,1036.2 463.5,1033.6 471.0,1032.9 C478.5,1032.2 486.3,1036.9 492.0,1033.6 C497.7,1030.3 502.8,1016.5 505.0,1013.1 M429.0,1042.0 C432.8,1041.2 444.5,1037.8 452.0,1037.0 C459.5,1036.2 467.3,1040.5 474.0,1037.4 C480.7,1034.4 486.8,1021.7 492.0,1018.8 C497.2,1015.9 502.8,1019.9 505.0,1020.1 M435.0,1040.0 C438.7,1039.3 450.0,1037.1 457.0,1036.0 C464.0,1034.9 471.2,1035.4 477.0,1033.1 C482.8,1030.9 487.3,1022.4 492.0,1022.5 C496.7,1022.5 502.8,1031.5 505.0,1033.3 M441.0,1038.0 C444.5,1037.5 455.5,1034.8 462.0,1035.0 C468.5,1035.2 475.0,1041.0 480.0,1039.0 C485.0,1037.1 487.8,1024.6 492.0,1023.3 C496.2,1022.0 502.8,1029.9 505.0,1031.2" fill="none" stroke="#2b5bb0" stroke-width="1.3" stroke-linejoin="round" stroke-linecap="round"/>
<path d="M367.8,1082.5 C366.8,1085.4 364.2,1093.8 362.0,1100.0 C359.8,1106.2 354.8,1114.6 354.8,1120.0 C354.8,1125.4 358.5,1130.6 362.0,1132.6 C365.5,1134.6 373.7,1132.1 376.0,1132.0 M367.8,1082.5 C366.5,1085.6 362.1,1094.4 360.0,1101.0 C357.9,1107.6 354.8,1116.6 355.4,1122.0 C356.1,1127.4 360.1,1132.2 364.0,1133.6 C367.9,1134.9 376.5,1130.6 379.0,1130.0 M367.8,1082.5 C366.2,1085.8 360.9,1095.1 358.0,1102.0 C355.1,1108.9 349.1,1118.5 350.4,1124.0 C351.7,1129.5 360.7,1134.3 366.0,1135.0 C371.3,1135.6 379.3,1129.2 382.0,1128.0 M367.8,1082.5 C365.8,1085.9 359.2,1095.8 356.0,1103.0 C352.8,1110.2 346.9,1121.2 348.9,1126.0 C350.9,1130.8 362.0,1132.0 368.0,1132.0 C374.0,1132.0 382.2,1127.0 385.0,1126.0 M367.8,1082.5 C365.5,1086.1 357.1,1096.4 354.0,1104.0 C350.9,1111.6 346.4,1123.3 349.1,1128.0 C351.8,1132.7 363.5,1133.0 370.0,1132.3 C376.5,1131.6 385.0,1125.4 388.0,1124.0 M367.8,1082.5 C365.2,1086.2 355.8,1097.1 352.0,1105.0 C348.2,1112.9 341.9,1125.6 345.2,1130.0 C348.5,1134.4 364.4,1132.6 372.0,1131.3 C379.6,1130.0 387.8,1123.5 391.0,1122.0 M367.8,1082.5 C364.8,1086.4 354.2,1097.8 350.0,1106.0 C345.8,1114.2 338.4,1127.4 342.4,1132.0 C346.4,1136.6 365.4,1135.3 374.0,1133.3 C382.6,1131.3 390.7,1122.2 394.0,1120.0" fill="none" stroke="#2b5bb0" stroke-width="1.3" stroke-linejoin="round" stroke-linecap="round"/>
<path d="M368.8,1076.6 C368.8,1076.9 368.9,1077.3 368.7,1078.3 C368.5,1079.3 368.2,1080.7 367.6,1082.4 C367.0,1084.0 366.2,1086.2 365.0,1088.4 C363.7,1090.6 362.2,1093.1 360.3,1095.6 C358.4,1098.0 356.2,1100.6 353.7,1102.9 C351.3,1105.1 348.4,1107.4 345.6,1109.2 C342.7,1111.0 339.6,1112.5 336.6,1113.5 C333.7,1114.5 330.6,1115.1 327.9,1115.1 C325.2,1115.1 322.5,1114.5 320.4,1113.5 C318.3,1112.5 316.5,1110.9 315.2,1109.0 C314.0,1107.0 313.1,1104.6 312.9,1102.0 C312.7,1099.5 313.0,1096.5 313.8,1093.6 C314.7,1090.7 316.1,1087.6 317.9,1084.8 C319.7,1082.0 322.0,1079.2 324.5,1076.8 C327.0,1074.5 329.9,1072.3 332.8,1070.6 C335.7,1068.9 338.9,1067.6 341.8,1066.7 C344.7,1065.9 347.7,1065.5 350.4,1065.4 C353.1,1065.4 355.6,1065.8 357.7,1066.4 C359.9,1067.0 361.7,1068.0 363.2,1068.9 C364.7,1069.9 365.8,1071.1 366.7,1072.1 C367.6,1073.1 368.0,1074.2 368.4,1075.0 C368.7,1075.7 368.7,1076.2 368.8,1076.4 M368.8,1076.6 C368.8,1076.9 368.9,1077.3 368.7,1078.3 C368.5,1079.3 368.3,1080.8 367.8,1082.5 C367.3,1084.2 366.6,1086.4 365.6,1088.7 C364.5,1091.0 363.2,1093.7 361.6,1096.3 C360.0,1098.9 358.1,1101.7 355.9,1104.2 C353.8,1106.7 351.3,1109.2 348.9,1111.2 C346.4,1113.2 343.7,1115.0 341.1,1116.2 C338.6,1117.4 335.9,1118.2 333.5,1118.4 C331.2,1118.6 328.9,1118.3 327.0,1117.4 C325.1,1116.5 323.5,1115.1 322.4,1113.2 C321.3,1111.4 320.5,1109.0 320.3,1106.4 C320.1,1103.9 320.3,1100.8 321.0,1097.9 C321.7,1094.9 322.9,1091.7 324.5,1088.7 C326.0,1085.8 328.0,1082.8 330.1,1080.2 C332.3,1077.6 334.8,1075.2 337.3,1073.3 C339.8,1071.4 342.6,1069.8 345.1,1068.7 C347.7,1067.6 350.3,1067.0 352.6,1066.7 C354.9,1066.5 357.2,1066.7 359.0,1067.1 C360.9,1067.6 362.5,1068.4 363.9,1069.3 C365.2,1070.2 366.2,1071.3 366.9,1072.3 C367.7,1073.2 368.1,1074.3 368.4,1075.0 C368.7,1075.7 368.7,1076.2 368.8,1076.4 M368.8,1076.6 C368.8,1076.9 368.9,1077.3 368.7,1078.3 C368.6,1079.4 368.5,1080.8 368.1,1082.6 C367.7,1084.4 367.1,1086.7 366.3,1089.1 C365.5,1091.5 364.4,1094.3 363.1,1097.0 C361.8,1099.7 360.3,1102.7 358.5,1105.4 C356.8,1108.1 354.8,1110.8 352.8,1113.0 C350.8,1115.2 348.5,1117.2 346.4,1118.6 C344.3,1120.1 342.1,1121.1 340.1,1121.5 C338.2,1121.9 336.3,1121.7 334.7,1121.0 C333.2,1120.2 331.8,1118.9 330.8,1117.1 C329.9,1115.4 329.2,1113.0 329.0,1110.4 C328.8,1107.9 328.9,1104.8 329.5,1101.8 C330.0,1098.7 331.0,1095.4 332.2,1092.3 C333.4,1089.2 335.0,1086.0 336.8,1083.3 C338.5,1080.5 340.6,1077.9 342.6,1075.7 C344.7,1073.6 346.9,1071.8 349.0,1070.5 C351.1,1069.2 353.3,1068.4 355.2,1067.9 C357.1,1067.5 359.0,1067.6 360.5,1067.8 C362.1,1068.1 363.5,1068.9 364.6,1069.6 C365.7,1070.4 366.5,1071.5 367.2,1072.4 C367.8,1073.3 368.2,1074.3 368.4,1075.0 C368.7,1075.7 368.7,1076.2 368.8,1076.4 M368.8,1076.6 C368.8,1076.9 368.9,1077.3 368.8,1078.4 C368.7,1079.4 368.6,1080.9 368.4,1082.7 C368.1,1084.6 367.7,1086.9 367.1,1089.4 C366.5,1091.9 365.8,1094.8 364.8,1097.6 C363.9,1100.5 362.7,1103.6 361.5,1106.5 C360.2,1109.3 358.7,1112.2 357.2,1114.6 C355.7,1117.0 354.0,1119.2 352.4,1120.8 C350.8,1122.4 349.1,1123.6 347.6,1124.2 C346.1,1124.7 344.6,1124.7 343.4,1124.1 C342.2,1123.5 341.1,1122.3 340.4,1120.6 C339.6,1118.9 339.0,1116.5 338.8,1114.0 C338.6,1111.4 338.6,1108.3 339.0,1105.2 C339.3,1102.1 340.0,1098.7 340.9,1095.5 C341.8,1092.2 343.0,1088.9 344.2,1086.0 C345.5,1083.0 347.1,1080.2 348.6,1077.9 C350.1,1075.6 351.8,1073.6 353.4,1072.1 C355.0,1070.6 356.7,1069.6 358.2,1069.0 C359.6,1068.4 361.1,1068.3 362.3,1068.5 C363.5,1068.6 364.5,1069.3 365.4,1069.9 C366.3,1070.6 366.9,1071.6 367.5,1072.5 C368.0,1073.3 368.3,1074.4 368.5,1075.0 C368.7,1075.7 368.7,1076.2 368.8,1076.4 M368.8,1076.6 C368.8,1076.9 368.9,1077.3 368.8,1078.4 C368.8,1079.4 368.8,1080.9 368.7,1082.8 C368.6,1084.7 368.4,1087.1 368.0,1089.6 C367.7,1092.2 367.3,1095.2 366.7,1098.2 C366.2,1101.1 365.5,1104.4 364.7,1107.4 C363.9,1110.3 363.0,1113.4 362.1,1116.0 C361.1,1118.5 360.0,1120.9 359.0,1122.7 C358.0,1124.4 356.9,1125.8 355.9,1126.5 C354.9,1127.2 353.9,1127.3 353.0,1126.8 C352.2,1126.3 351.4,1125.2 350.8,1123.5 C350.3,1121.9 349.8,1119.6 349.6,1117.0 C349.4,1114.5 349.3,1111.3 349.5,1108.2 C349.6,1105.0 350.0,1101.5 350.5,1098.2 C351.0,1094.8 351.7,1091.4 352.5,1088.3 C353.3,1085.2 354.2,1082.2 355.2,1079.8 C356.2,1077.3 357.3,1075.1 358.3,1073.5 C359.3,1071.8 360.4,1070.7 361.4,1069.9 C362.4,1069.2 363.3,1068.9 364.2,1069.0 C365.0,1069.0 365.7,1069.6 366.3,1070.2 C366.9,1070.8 367.4,1071.8 367.8,1072.6 C368.2,1073.4 368.4,1074.4 368.6,1075.0 C368.7,1075.7 368.8,1076.2 368.8,1076.4 M368.8,1076.6 C368.8,1076.9 368.9,1077.3 368.9,1078.4 C368.9,1079.4 369.0,1081.0 369.0,1082.9 C369.0,1084.8 369.1,1087.2 369.0,1089.8 C369.0,1092.5 368.9,1095.6 368.8,1098.6 C368.6,1101.7 368.4,1105.0 368.2,1108.1 C367.9,1111.2 367.6,1114.4 367.3,1117.1 C366.9,1119.7 366.5,1122.3 366.1,1124.2 C365.7,1126.1 365.2,1127.6 364.7,1128.4 C364.3,1129.2 363.8,1129.5 363.4,1129.0 C362.9,1128.6 362.5,1127.5 362.1,1126.0 C361.8,1124.4 361.5,1122.1 361.2,1119.5 C361.0,1117.0 360.9,1113.8 360.8,1110.6 C360.7,1107.4 360.7,1103.8 360.8,1100.4 C360.9,1097.0 361.1,1093.4 361.4,1090.2 C361.6,1087.0 361.9,1083.9 362.3,1081.3 C362.7,1078.7 363.1,1076.4 363.5,1074.6 C364.0,1072.8 364.4,1071.5 364.9,1070.7 C365.3,1069.8 365.8,1069.5 366.2,1069.4 C366.6,1069.4 367.0,1069.9 367.3,1070.4 C367.6,1070.9 367.9,1071.9 368.1,1072.7 C368.3,1073.4 368.5,1074.4 368.6,1075.1 C368.7,1075.7 368.8,1076.2 368.8,1076.4 M368.8,1076.6 C368.8,1076.9 368.9,1077.3 369.0,1078.4 C369.1,1079.5 369.2,1081.0 369.4,1082.9 C369.6,1084.9 369.8,1087.3 370.1,1090.0 C370.3,1092.7 370.6,1095.8 370.9,1098.9 C371.2,1102.1 371.6,1105.5 371.9,1108.7 C372.2,1111.8 372.5,1115.1 372.8,1117.9 C373.1,1120.7 373.4,1123.4 373.6,1125.3 C373.8,1127.3 374.0,1129.0 374.1,1129.8 C374.2,1130.7 374.3,1131.1 374.3,1130.7 C374.3,1130.4 374.2,1129.3 374.1,1127.8 C374.0,1126.2 373.8,1124.0 373.5,1121.4 C373.3,1118.9 373.0,1115.7 372.7,1112.4 C372.4,1109.2 372.1,1105.5 371.7,1102.1 C371.4,1098.6 371.0,1094.9 370.7,1091.6 C370.4,1088.4 370.1,1085.1 369.8,1082.4 C369.5,1079.7 369.3,1077.3 369.1,1075.5 C368.8,1073.6 368.7,1072.2 368.6,1071.2 C368.4,1070.3 368.4,1069.9 368.3,1069.8 C368.3,1069.7 368.3,1070.1 368.3,1070.6 C368.4,1071.1 368.4,1072.0 368.5,1072.7 C368.5,1073.5 368.6,1074.4 368.7,1075.1 C368.7,1075.7 368.8,1076.2 368.8,1076.4 M368.8,1076.6 C368.8,1076.9 368.9,1077.3 369.0,1078.4 C369.2,1079.5 369.4,1081.0 369.8,1083.0 C370.1,1084.9 370.6,1087.4 371.1,1090.1 C371.7,1092.8 372.4,1096.0 373.2,1099.2 C373.9,1102.3 374.8,1105.8 375.7,1109.1 C376.6,1112.3 377.6,1115.7 378.5,1118.5 C379.5,1121.3 380.5,1124.1 381.4,1126.1 C382.3,1128.2 383.1,1129.9 383.8,1130.8 C384.5,1131.8 385.2,1132.2 385.6,1131.9 C386.1,1131.6 386.4,1130.6 386.5,1129.0 C386.6,1127.5 386.5,1125.2 386.3,1122.7 C386.1,1120.1 385.7,1116.9 385.1,1113.7 C384.6,1110.4 383.9,1106.7 383.1,1103.2 C382.3,1099.7 381.4,1095.9 380.5,1092.6 C379.5,1089.3 378.5,1086.0 377.6,1083.2 C376.6,1080.5 375.7,1078.0 374.8,1076.0 C373.9,1074.1 373.1,1072.6 372.4,1071.6 C371.7,1070.6 371.1,1070.1 370.6,1070.0 C370.1,1069.8 369.7,1070.2 369.4,1070.7 C369.1,1071.1 369.0,1072.0 368.9,1072.8 C368.8,1073.5 368.8,1074.5 368.7,1075.1 C368.7,1075.7 368.8,1076.2 368.8,1076.4 M368.8,1076.6 C368.9,1076.9 368.9,1077.3 369.1,1078.4 C369.3,1079.5 369.6,1081.0 370.2,1083.0 C370.7,1085.0 371.4,1087.5 372.2,1090.2 C373.1,1092.9 374.2,1096.1 375.4,1099.3 C376.7,1102.5 378.1,1106.0 379.6,1109.3 C381.1,1112.5 382.8,1115.9 384.4,1118.8 C386.0,1121.7 387.8,1124.4 389.3,1126.5 C390.9,1128.6 392.5,1130.3 393.8,1131.3 C395.1,1132.3 396.3,1132.7 397.2,1132.4 C398.1,1132.2 398.8,1131.2 399.2,1129.7 C399.5,1128.1 399.6,1125.9 399.4,1123.3 C399.1,1120.8 398.6,1117.6 397.8,1114.3 C397.0,1111.0 395.9,1107.3 394.7,1103.8 C393.4,1100.2 391.9,1096.5 390.4,1093.1 C388.9,1089.7 387.2,1086.4 385.5,1083.6 C383.9,1080.8 382.2,1078.3 380.7,1076.3 C379.1,1074.3 377.6,1072.8 376.3,1071.8 C375.0,1070.8 373.8,1070.3 372.9,1070.1 C371.9,1069.9 371.1,1070.3 370.5,1070.7 C369.9,1071.2 369.5,1072.0 369.2,1072.8 C369.0,1073.5 368.9,1074.5 368.8,1075.1 C368.7,1075.7 368.8,1076.2 368.8,1076.4 M368.8,1076.6 C368.9,1076.9 368.9,1077.3 369.2,1078.4 C369.5,1079.5 369.8,1081.0 370.5,1083.0 C371.2,1085.0 372.1,1087.5 373.3,1090.2 C374.5,1092.9 376.0,1096.1 377.7,1099.3 C379.4,1102.5 381.4,1106.0 383.5,1109.3 C385.6,1112.5 388.0,1115.9 390.3,1118.8 C392.6,1121.7 395.1,1124.4 397.3,1126.5 C399.6,1128.6 401.9,1130.3 403.8,1131.3 C405.7,1132.3 407.5,1132.7 408.9,1132.4 C410.2,1132.1 411.3,1131.2 411.9,1129.6 C412.5,1128.1 412.7,1125.9 412.5,1123.3 C412.3,1120.8 411.6,1117.5 410.6,1114.3 C409.5,1111.0 408.0,1107.3 406.3,1103.7 C404.7,1100.2 402.6,1096.4 400.4,1093.1 C398.3,1089.7 395.9,1086.4 393.6,1083.6 C391.2,1080.8 388.8,1078.3 386.6,1076.3 C384.3,1074.3 382.1,1072.8 380.2,1071.8 C378.3,1070.8 376.6,1070.3 375.2,1070.1 C373.7,1069.9 372.5,1070.3 371.6,1070.7 C370.7,1071.2 370.1,1072.0 369.6,1072.8 C369.2,1073.5 369.0,1074.5 368.9,1075.1 C368.7,1075.7 368.8,1076.2 368.8,1076.4 M368.8,1076.6 C368.9,1076.9 368.9,1077.3 369.2,1078.4 C369.6,1079.5 370.1,1081.0 370.9,1083.0 C371.8,1084.9 372.9,1087.4 374.4,1090.1 C376.0,1092.8 377.8,1096.0 380.0,1099.2 C382.2,1102.3 384.8,1105.8 387.5,1109.1 C390.1,1112.3 393.2,1115.6 396.2,1118.5 C399.2,1121.3 402.4,1124.0 405.3,1126.1 C408.2,1128.2 411.2,1129.8 413.7,1130.8 C416.3,1131.7 418.7,1132.1 420.5,1131.8 C422.3,1131.5 423.7,1130.5 424.6,1129.0 C425.4,1127.5 425.8,1125.2 425.5,1122.7 C425.3,1120.1 424.5,1116.9 423.2,1113.6 C421.9,1110.4 420.1,1106.7 417.9,1103.2 C415.8,1099.6 413.1,1095.9 410.4,1092.6 C407.6,1089.3 404.5,1086.0 401.5,1083.2 C398.5,1080.4 395.3,1077.9 392.4,1076.0 C389.5,1074.1 386.6,1072.6 384.1,1071.6 C381.6,1070.6 379.3,1070.1 377.4,1070.0 C375.5,1069.8 374.0,1070.2 372.7,1070.7 C371.5,1071.1 370.7,1072.0 370.0,1072.7 C369.4,1073.5 369.2,1074.5 368.9,1075.1 C368.7,1075.7 368.8,1076.2 368.8,1076.4 M368.8,1076.6 C368.9,1076.9 368.9,1077.3 369.3,1078.4 C369.7,1079.5 370.3,1081.0 371.3,1082.9 C372.3,1084.9 373.7,1087.3 375.5,1090.0 C377.3,1092.7 379.6,1095.8 382.2,1098.9 C384.9,1102.0 388.0,1105.5 391.3,1108.7 C394.5,1111.8 398.3,1115.1 401.9,1117.9 C405.5,1120.7 409.5,1123.3 413.1,1125.3 C416.7,1127.3 420.3,1128.9 423.4,1129.8 C426.6,1130.7 429.5,1131.0 431.8,1130.7 C434.0,1130.3 435.8,1129.3 436.9,1127.7 C438.0,1126.2 438.5,1123.9 438.3,1121.4 C438.0,1118.8 437.1,1115.6 435.6,1112.4 C434.1,1109.1 431.8,1105.5 429.2,1102.0 C426.6,1098.5 423.4,1094.9 420.1,1091.6 C416.7,1088.3 412.9,1085.1 409.3,1082.4 C405.6,1079.7 401.7,1077.3 398.1,1075.4 C394.6,1073.6 391.0,1072.2 388.0,1071.2 C384.9,1070.3 382.0,1069.9 379.7,1069.8 C377.3,1069.6 375.3,1070.1 373.8,1070.6 C372.2,1071.0 371.2,1072.0 370.4,1072.7 C369.6,1073.5 369.3,1074.4 369.0,1075.1 C368.7,1075.7 368.8,1076.2 368.8,1076.4 M368.8,1076.6 C368.9,1076.9 368.9,1077.3 369.4,1078.4 C369.9,1079.4 370.5,1081.0 371.7,1082.9 C372.9,1084.8 374.4,1087.2 376.5,1089.8 C378.7,1092.5 381.3,1095.6 384.4,1098.6 C387.4,1101.6 391.1,1105.0 394.9,1108.1 C398.8,1111.2 403.1,1114.4 407.4,1117.0 C411.7,1119.7 416.3,1122.3 420.5,1124.1 C424.8,1126.0 429.1,1127.5 432.8,1128.3 C436.5,1129.1 440.0,1129.4 442.6,1129.0 C445.3,1128.6 447.5,1127.5 448.8,1125.9 C450.1,1124.3 450.7,1122.0 450.5,1119.4 C450.3,1116.9 449.2,1113.7 447.5,1110.5 C445.7,1107.3 443.1,1103.7 440.1,1100.3 C437.1,1096.9 433.3,1093.3 429.4,1090.1 C425.5,1086.9 421.0,1083.8 416.7,1081.2 C412.4,1078.6 407.8,1076.3 403.6,1074.6 C399.5,1072.8 395.3,1071.5 391.6,1070.6 C388.0,1069.8 384.6,1069.5 381.8,1069.4 C379.0,1069.4 376.7,1069.9 374.8,1070.4 C373.0,1070.9 371.7,1071.9 370.8,1072.7 C369.8,1073.4 369.4,1074.4 369.1,1075.1 C368.8,1075.7 368.8,1076.2 368.8,1076.4 M368.8,1076.6 C368.9,1076.9 368.9,1077.3 369.4,1078.4 C370.0,1079.4 370.7,1080.9 372.0,1082.8 C373.4,1084.7 375.1,1087.1 377.5,1089.6 C379.9,1092.2 382.9,1095.2 386.4,1098.2 C389.9,1101.1 394.0,1104.4 398.4,1107.3 C402.8,1110.3 407.7,1113.4 412.6,1115.9 C417.5,1118.4 422.7,1120.9 427.6,1122.6 C432.4,1124.4 437.4,1125.7 441.6,1126.4 C445.8,1127.1 449.8,1127.2 452.9,1126.7 C456.0,1126.2 458.5,1125.1 460.0,1123.4 C461.6,1121.8 462.3,1119.5 462.1,1116.9 C461.8,1114.4 460.6,1111.2 458.7,1108.1 C456.7,1104.9 453.8,1101.4 450.4,1098.1 C447.0,1094.8 442.6,1091.3 438.2,1088.2 C433.8,1085.2 428.7,1082.2 423.8,1079.7 C418.9,1077.2 413.6,1075.1 408.8,1073.4 C404.1,1071.8 399.3,1070.6 395.1,1069.9 C390.9,1069.1 387.0,1068.9 383.8,1069.0 C380.6,1069.0 377.9,1069.6 375.8,1070.2 C373.7,1070.8 372.2,1071.8 371.1,1072.6 C370.0,1073.4 369.5,1074.4 369.1,1075.0 C368.8,1075.7 368.9,1076.2 368.8,1076.4 M368.8,1076.6 C368.9,1076.9 368.9,1077.3 369.5,1078.4 C370.1,1079.4 370.8,1080.9 372.3,1082.7 C373.8,1084.5 375.8,1086.9 378.4,1089.4 C381.1,1091.9 384.4,1094.8 388.3,1097.6 C392.1,1100.5 396.8,1103.6 401.6,1106.4 C406.5,1109.2 412.0,1112.1 417.4,1114.5 C422.8,1116.9 428.7,1119.1 434.1,1120.7 C439.5,1122.3 445.0,1123.5 449.8,1124.1 C454.5,1124.6 459.0,1124.6 462.4,1124.0 C465.9,1123.4 468.7,1122.2 470.5,1120.5 C472.2,1118.8 473.0,1116.4 472.8,1113.9 C472.6,1111.3 471.2,1108.2 469.1,1105.1 C466.9,1102.0 463.7,1098.6 459.9,1095.3 C456.1,1092.1 451.3,1088.8 446.4,1085.9 C441.5,1083.0 435.8,1080.1 430.3,1077.8 C424.9,1075.5 419.0,1073.5 413.7,1072.1 C408.3,1070.6 403.0,1069.6 398.3,1069.0 C393.6,1068.4 389.3,1068.3 385.7,1068.4 C382.1,1068.6 379.1,1069.3 376.7,1069.9 C374.3,1070.6 372.7,1071.6 371.4,1072.5 C370.2,1073.3 369.6,1074.4 369.2,1075.0 C368.8,1075.7 368.9,1076.2 368.8,1076.4 M368.8,1076.6 C368.9,1076.9 368.9,1077.3 369.5,1078.3 C370.2,1079.4 371.0,1080.8 372.6,1082.6 C374.2,1084.4 376.3,1086.7 379.2,1089.1 C382.1,1091.5 385.8,1094.3 390.0,1097.0 C394.2,1099.7 399.2,1102.7 404.5,1105.4 C409.8,1108.0 415.9,1110.7 421.8,1112.9 C427.7,1115.1 434.1,1117.2 440.0,1118.6 C445.9,1120.0 452.0,1121.0 457.2,1121.4 C462.3,1121.8 467.3,1121.6 471.1,1120.8 C474.8,1120.1 478.0,1118.8 479.9,1117.0 C481.8,1115.2 482.7,1112.9 482.5,1110.3 C482.3,1107.7 480.9,1104.6 478.5,1101.6 C476.2,1098.6 472.6,1095.3 468.5,1092.2 C464.4,1089.1 459.2,1085.9 453.8,1083.2 C448.4,1080.4 442.2,1077.8 436.2,1075.7 C430.3,1073.5 423.9,1071.8 418.0,1070.5 C412.2,1069.2 406.3,1068.3 401.2,1067.9 C396.1,1067.5 391.3,1067.5 387.4,1067.8 C383.4,1068.1 380.1,1068.9 377.5,1069.6 C374.9,1070.4 373.1,1071.5 371.7,1072.4 C370.3,1073.3 369.7,1074.3 369.2,1075.0 C368.8,1075.7 368.9,1076.2 368.8,1076.4 M368.8,1076.6 C368.9,1076.9 368.9,1077.3 369.6,1078.3 C370.3,1079.3 371.1,1080.8 372.9,1082.5 C374.6,1084.2 376.9,1086.4 380.0,1088.7 C383.1,1091.0 386.9,1093.7 391.5,1096.3 C396.0,1098.9 401.4,1101.7 407.1,1104.1 C412.8,1106.6 419.3,1109.1 425.6,1111.1 C432.0,1113.1 438.9,1114.9 445.3,1116.1 C451.6,1117.3 458.1,1118.1 463.7,1118.3 C469.3,1118.5 474.6,1118.1 478.7,1117.3 C482.7,1116.4 486.1,1114.9 488.2,1113.1 C490.3,1111.3 491.3,1108.8 491.1,1106.3 C490.8,1103.7 489.3,1100.7 486.8,1097.7 C484.4,1094.8 480.5,1091.5 476.1,1088.6 C471.7,1085.7 466.1,1082.7 460.3,1080.1 C454.5,1077.5 447.9,1075.1 441.5,1073.2 C435.1,1071.3 428.2,1069.7 421.9,1068.6 C415.6,1067.6 409.3,1066.9 403.8,1066.7 C398.3,1066.4 393.1,1066.7 388.9,1067.1 C384.6,1067.5 381.1,1068.4 378.2,1069.3 C375.4,1070.1 373.4,1071.3 372.0,1072.3 C370.5,1073.2 369.8,1074.3 369.3,1075.0 C368.8,1075.7 368.9,1076.2 368.8,1076.4 M368.8,1076.6 C368.9,1076.9 368.9,1077.3 369.6,1078.3 C370.3,1079.3 371.3,1080.7 373.1,1082.4 C374.9,1084.0 377.3,1086.2 380.6,1088.4 C383.9,1090.6 388.0,1093.1 392.7,1095.5 C397.5,1097.9 403.2,1100.6 409.3,1102.8 C415.3,1105.1 422.2,1107.4 428.9,1109.1 C435.7,1110.9 443.0,1112.4 449.7,1113.4 C456.4,1114.4 463.4,1114.9 469.3,1114.9 C475.2,1114.9 480.8,1114.4 485.1,1113.3 C489.5,1112.3 493.1,1110.7 495.3,1108.8 C497.5,1106.9 498.6,1104.4 498.3,1101.8 C498.1,1099.3 496.5,1096.3 493.9,1093.4 C491.3,1090.6 487.3,1087.5 482.6,1084.7 C477.9,1081.9 472.0,1079.1 465.9,1076.7 C459.8,1074.4 452.7,1072.2 445.9,1070.5 C439.1,1068.8 431.8,1067.5 425.2,1066.7 C418.5,1065.8 411.8,1065.4 406.0,1065.4 C400.1,1065.3 394.7,1065.7 390.2,1066.3 C385.6,1066.9 381.9,1067.9 378.9,1068.9 C375.9,1069.9 373.8,1071.1 372.2,1072.1 C370.6,1073.1 369.9,1074.2 369.3,1075.0 C368.8,1075.7 368.9,1076.2 368.8,1076.4 M368.8,1076.6 C369.0,1076.9 368.9,1077.3 369.7,1078.3 C370.4,1079.2 371.3,1080.6 373.2,1082.2 C375.2,1083.8 377.6,1085.9 381.1,1088.0 C384.5,1090.0 388.8,1092.5 393.8,1094.7 C398.8,1096.9 404.7,1099.3 411.0,1101.4 C417.3,1103.4 424.5,1105.5 431.6,1107.0 C438.6,1108.5 446.3,1109.8 453.3,1110.5 C460.3,1111.2 467.6,1111.5 473.8,1111.3 C479.9,1111.1 485.8,1110.3 490.4,1109.1 C494.9,1107.9 498.7,1106.2 501.0,1104.2 C503.3,1102.2 504.5,1099.7 504.2,1097.1 C504.0,1094.5 502.4,1091.6 499.7,1088.8 C496.9,1086.0 492.7,1083.1 487.8,1080.5 C483.0,1077.8 476.8,1075.2 470.4,1073.1 C464.0,1071.0 456.6,1069.0 449.5,1067.6 C442.4,1066.2 434.8,1065.1 427.8,1064.5 C420.8,1063.9 413.8,1063.8 407.7,1063.9 C401.6,1064.1 395.9,1064.7 391.2,1065.5 C386.5,1066.3 382.5,1067.4 379.4,1068.5 C376.2,1069.6 374.0,1070.9 372.3,1072.0 C370.7,1073.1 370.0,1074.2 369.4,1074.9 C368.8,1075.7 368.9,1076.2 368.8,1076.4 M368.8,1076.6 C369.0,1076.8 368.9,1077.3 369.7,1078.3 C370.4,1079.2 371.4,1080.5 373.4,1082.1 C375.3,1083.6 377.9,1085.6 381.4,1087.5 C385.0,1089.5 389.4,1091.8 394.5,1093.8 C399.7,1095.9 405.9,1098.1 412.4,1099.9 C418.9,1101.7 426.3,1103.5 433.6,1104.7 C440.8,1106.0 448.7,1107.0 456.0,1107.5 C463.3,1107.9 470.7,1108.0 477.1,1107.5 C483.5,1107.0 489.6,1106.0 494.3,1104.7 C499.0,1103.3 502.9,1101.4 505.3,1099.3 C507.7,1097.2 508.9,1094.6 508.7,1092.1 C508.4,1089.5 506.8,1086.6 503.9,1084.0 C501.1,1081.3 496.8,1078.5 491.8,1076.0 C486.7,1073.6 480.3,1071.2 473.7,1069.3 C467.2,1067.4 459.5,1065.7 452.2,1064.6 C444.9,1063.4 437.0,1062.6 429.8,1062.3 C422.6,1061.9 415.4,1062.0 409.0,1062.4 C402.7,1062.8 396.9,1063.7 392.0,1064.6 C387.1,1065.6 383.0,1066.9 379.7,1068.1 C376.5,1069.3 374.2,1070.7 372.5,1071.8 C370.8,1073.0 370.0,1074.1 369.4,1074.9 C368.8,1075.7 368.9,1076.2 368.8,1076.4 M368.8,1076.6 C369.0,1076.8 368.9,1077.3 369.7,1078.2 C370.5,1079.1 371.5,1080.4 373.5,1081.9 C375.5,1083.4 378.1,1085.3 381.7,1087.1 C385.3,1088.9 389.8,1091.0 395.1,1092.9 C400.3,1094.8 406.6,1096.8 413.2,1098.3 C419.9,1099.9 427.4,1101.4 434.9,1102.4 C442.3,1103.4 450.4,1104.1 457.8,1104.3 C465.2,1104.5 472.8,1104.2 479.3,1103.5 C485.8,1102.8 492.1,1101.6 496.9,1100.1 C501.7,1098.5 505.7,1096.5 508.1,1094.3 C510.6,1092.1 511.8,1089.5 511.6,1086.9 C511.3,1084.3 509.6,1081.5 506.7,1078.9 C503.9,1076.3 499.5,1073.7 494.3,1071.4 C489.2,1069.1 482.7,1067.0 475.9,1065.3 C469.2,1063.7 461.4,1062.3 454.0,1061.4 C446.5,1060.5 438.4,1060.0 431.1,1059.9 C423.8,1059.9 416.3,1060.3 409.9,1060.9 C403.5,1061.5 397.5,1062.6 392.5,1063.7 C387.5,1064.9 383.3,1066.3 380.0,1067.7 C376.6,1069.0 374.3,1070.5 372.6,1071.7 C370.8,1072.9 370.0,1074.1 369.4,1074.9 C368.8,1075.7 368.9,1076.2 368.8,1076.4 M368.8,1076.6 C369.0,1076.8 368.9,1077.3 369.7,1078.2 C370.5,1079.1 371.5,1080.4 373.5,1081.8 C375.5,1083.2 378.2,1084.9 381.8,1086.7 C385.4,1088.4 390.0,1090.3 395.3,1092.0 C400.6,1093.7 406.9,1095.4 413.6,1096.8 C420.3,1098.1 427.9,1099.3 435.4,1100.0 C442.9,1100.7 451.1,1101.2 458.6,1101.1 C466.0,1101.0 473.7,1100.4 480.3,1099.5 C486.9,1098.5 493.2,1097.1 498.0,1095.4 C502.9,1093.6 506.9,1091.4 509.4,1089.1 C511.8,1086.8 513.1,1084.2 512.9,1081.6 C512.6,1079.0 510.9,1076.3 508.0,1073.8 C505.1,1071.3 500.7,1068.8 495.5,1066.7 C490.3,1064.6 483.7,1062.7 476.9,1061.3 C470.2,1059.9 462.3,1058.8 454.8,1058.2 C447.2,1057.5 439.1,1057.4 431.7,1057.6 C424.3,1057.8 416.8,1058.4 410.3,1059.3 C403.8,1060.2 397.7,1061.5 392.7,1062.8 C387.7,1064.1 383.4,1065.8 380.1,1067.2 C376.7,1068.7 374.4,1070.3 372.6,1071.5 C370.8,1072.8 370.0,1074.0 369.4,1074.9 C368.8,1075.7 368.9,1076.2 368.8,1076.4 M368.8,1076.6 C369.0,1076.8 368.9,1077.3 369.7,1078.2 C370.5,1079.0 371.5,1080.3 373.5,1081.6 C375.5,1082.9 378.1,1084.6 381.8,1086.2 C385.4,1087.8 389.9,1089.6 395.2,1091.1 C400.5,1092.5 406.8,1094.1 413.5,1095.2 C420.2,1096.3 427.8,1097.2 435.3,1097.6 C442.8,1098.1 450.9,1098.2 458.4,1097.8 C465.8,1097.5 473.5,1096.6 480.1,1095.4 C486.6,1094.2 492.9,1092.6 497.8,1090.6 C502.6,1088.7 506.6,1086.4 509.1,1084.0 C511.5,1081.6 512.8,1078.8 512.5,1076.3 C512.3,1073.7 510.6,1071.0 507.7,1068.6 C504.8,1066.2 500.4,1063.9 495.2,1062.0 C490.0,1060.1 483.5,1058.4 476.7,1057.2 C469.9,1056.0 462.1,1055.3 454.6,1054.9 C447.0,1054.6 438.9,1054.7 431.5,1055.2 C424.1,1055.6 416.7,1056.6 410.2,1057.7 C403.7,1058.8 397.7,1060.4 392.6,1061.9 C387.6,1063.4 383.4,1065.2 380.0,1066.8 C376.7,1068.3 374.4,1070.0 372.6,1071.4 C370.8,1072.7 370.0,1074.0 369.4,1074.8 C368.8,1075.7 368.9,1076.2 368.8,1076.4 M368.8,1076.6 C369.0,1076.8 368.9,1077.3 369.7,1078.1 C370.5,1079.0 371.5,1080.2 373.4,1081.4 C375.4,1082.7 378.0,1084.3 381.6,1085.8 C385.2,1087.2 389.7,1088.8 394.9,1090.1 C400.1,1091.4 406.4,1092.7 413.0,1093.6 C419.5,1094.4 427.1,1095.1 434.4,1095.3 C441.8,1095.4 449.8,1095.2 457.2,1094.6 C464.6,1094.0 472.2,1092.9 478.6,1091.4 C485.1,1090.0 491.3,1088.1 496.1,1086.0 C500.8,1083.9 504.8,1081.3 507.2,1078.8 C509.7,1076.4 510.9,1073.6 510.6,1071.0 C510.4,1068.4 508.7,1065.8 505.9,1063.5 C503.0,1061.2 498.6,1059.0 493.5,1057.3 C488.4,1055.6 481.9,1054.1 475.3,1053.2 C468.6,1052.3 460.8,1051.8 453.4,1051.7 C446.0,1051.6 438.0,1052.1 430.7,1052.8 C423.4,1053.5 416.0,1054.8 409.6,1056.1 C403.2,1057.5 397.3,1059.2 392.3,1060.9 C387.4,1062.6 383.2,1064.6 379.9,1066.3 C376.6,1068.0 374.3,1069.8 372.5,1071.2 C370.8,1072.6 370.0,1073.9 369.4,1074.8 C368.8,1075.7 368.9,1076.2 368.8,1076.4 M368.8,1076.6 C369.0,1076.8 368.9,1077.3 369.7,1078.1 C370.4,1078.9 371.4,1080.1 373.3,1081.3 C375.3,1082.5 377.8,1084.0 381.3,1085.3 C384.8,1086.6 389.2,1088.1 394.3,1089.2 C399.4,1090.4 405.5,1091.4 411.9,1092.0 C418.3,1092.7 425.7,1093.0 432.9,1093.0 C440.1,1092.9 447.9,1092.4 455.1,1091.5 C462.3,1090.6 469.7,1089.2 476.0,1087.5 C482.3,1085.8 488.3,1083.7 493.0,1081.4 C497.6,1079.1 501.5,1076.4 503.9,1073.9 C506.2,1071.3 507.4,1068.4 507.2,1065.9 C506.9,1063.3 505.3,1060.7 502.5,1058.5 C499.7,1056.3 495.4,1054.3 490.4,1052.7 C485.5,1051.2 479.1,1050.0 472.6,1049.3 C466.1,1048.6 458.5,1048.4 451.3,1048.6 C444.1,1048.8 436.2,1049.5 429.1,1050.5 C422.0,1051.5 414.8,1053.0 408.6,1054.6 C402.4,1056.2 396.5,1058.2 391.7,1060.0 C386.9,1061.9 382.8,1064.0 379.6,1065.9 C376.4,1067.7 374.1,1069.6 372.4,1071.1 C370.7,1072.6 370.0,1073.9 369.4,1074.8 C368.8,1075.7 368.9,1076.2 368.8,1076.4 M368.8,1076.6 C369.0,1076.8 368.9,1077.3 369.6,1078.1 C370.4,1078.9 371.3,1080.0 373.2,1081.2 C375.1,1082.3 377.5,1083.7 380.9,1084.9 C384.3,1086.1 388.5,1087.4 393.4,1088.4 C398.3,1089.3 404.2,1090.2 410.4,1090.6 C416.6,1091.0 423.7,1091.1 430.6,1090.7 C437.6,1090.4 445.1,1089.6 452.0,1088.5 C459.0,1087.3 466.1,1085.6 472.2,1083.7 C478.3,1081.8 484.1,1079.5 488.5,1077.0 C493.0,1074.6 496.7,1071.7 499.0,1069.1 C501.3,1066.4 502.4,1063.5 502.2,1060.9 C502.0,1058.4 500.3,1055.8 497.6,1053.7 C495.0,1051.6 490.8,1049.7 486.0,1048.3 C481.2,1047.0 475.1,1046.0 468.8,1045.5 C462.5,1045.1 455.2,1045.1 448.3,1045.6 C441.3,1046.0 433.7,1047.0 426.9,1048.3 C420.0,1049.5 413.1,1051.3 407.1,1053.1 C401.1,1054.9 395.5,1057.1 390.8,1059.2 C386.2,1061.2 382.3,1063.5 379.2,1065.5 C376.1,1067.4 373.9,1069.4 372.3,1070.9 C370.6,1072.5 369.9,1073.8 369.4,1074.7 C368.8,1075.7 368.9,1076.2 368.8,1076.4 M368.8,1076.6 C368.9,1076.8 368.9,1077.3 369.6,1078.1 C370.3,1078.8 371.2,1079.9 373.0,1081.0 C374.8,1082.1 377.1,1083.4 380.4,1084.5 C383.6,1085.6 387.6,1086.8 392.3,1087.6 C397.0,1088.3 402.6,1089.0 408.5,1089.2 C414.4,1089.4 421.1,1089.2 427.7,1088.6 C434.4,1088.1 441.5,1087.0 448.1,1085.6 C454.7,1084.2 461.5,1082.3 467.3,1080.2 C473.1,1078.1 478.6,1075.5 482.8,1072.9 C487.1,1070.3 490.6,1067.3 492.8,1064.6 C494.9,1061.8 496.0,1058.8 495.7,1056.3 C495.5,1053.7 494.0,1051.2 491.4,1049.2 C488.8,1047.2 484.9,1045.4 480.3,1044.2 C475.7,1043.0 469.9,1042.2 463.9,1042.0 C457.9,1041.7 451.0,1042.0 444.3,1042.7 C437.7,1043.4 430.5,1044.7 424.0,1046.2 C417.5,1047.7 410.9,1049.7 405.2,1051.7 C399.5,1053.7 394.1,1056.1 389.7,1058.4 C385.3,1060.6 381.6,1063.0 378.6,1065.1 C375.7,1067.1 373.6,1069.2 372.1,1070.8 C370.5,1072.4 369.9,1073.8 369.3,1074.7 C368.8,1075.7 368.9,1076.1 368.8,1076.4 M368.8,1076.6 C368.9,1076.8 368.9,1077.3 369.6,1078.0 C370.2,1078.8 371.1,1079.9 372.8,1080.9 C374.5,1081.9 376.7,1083.2 379.7,1084.2 C382.7,1085.1 386.5,1086.2 390.9,1086.8 C395.3,1087.4 400.6,1087.9 406.2,1087.9 C411.7,1087.9 418.0,1087.5 424.2,1086.7 C430.5,1085.9 437.2,1084.6 443.4,1083.0 C449.6,1081.4 455.9,1079.2 461.3,1076.9 C466.8,1074.6 471.9,1071.8 475.9,1069.1 C479.9,1066.3 483.2,1063.2 485.2,1060.4 C487.2,1057.5 488.2,1054.5 488.0,1052.0 C487.7,1049.4 486.3,1046.9 483.8,1045.0 C481.4,1043.1 477.7,1041.4 473.4,1040.4 C469.1,1039.3 463.6,1038.8 458.0,1038.7 C452.3,1038.7 445.8,1039.2 439.6,1040.1 C433.3,1041.0 426.6,1042.5 420.5,1044.2 C414.4,1046.0 408.2,1048.2 402.8,1050.4 C397.5,1052.7 392.5,1055.2 388.3,1057.6 C384.2,1060.0 380.7,1062.5 378.0,1064.7 C375.2,1066.9 373.3,1069.0 371.9,1070.7 C370.4,1072.3 369.8,1073.7 369.3,1074.7 C368.8,1075.7 368.9,1076.1 368.8,1076.4 M368.8,1076.6 C368.9,1076.8 368.9,1077.3 369.5,1078.0 C370.1,1078.7 370.9,1079.8 372.5,1080.8 C374.1,1081.7 376.1,1082.9 378.9,1083.8 C381.7,1084.7 385.3,1085.6 389.4,1086.1 C393.4,1086.6 398.3,1086.9 403.5,1086.7 C408.6,1086.5 414.5,1086.0 420.2,1085.0 C425.9,1084.0 432.2,1082.5 437.9,1080.6 C443.6,1078.8 449.5,1076.5 454.5,1074.0 C459.5,1071.5 464.2,1068.5 467.9,1065.6 C471.6,1062.7 474.6,1059.5 476.4,1056.6 C478.3,1053.7 479.2,1050.7 479.0,1048.1 C478.7,1045.5 477.4,1043.1 475.1,1041.2 C472.8,1039.4 469.4,1037.9 465.4,1036.9 C461.4,1036.0 456.3,1035.6 451.1,1035.7 C445.9,1035.9 439.9,1036.6 434.1,1037.7 C428.3,1038.9 422.1,1040.6 416.4,1042.5 C410.8,1044.4 405.1,1046.9 400.1,1049.3 C395.2,1051.7 390.6,1054.4 386.8,1056.9 C382.9,1059.5 379.7,1062.1 377.2,1064.4 C374.7,1066.7 372.9,1068.8 371.6,1070.5 C370.3,1072.3 369.7,1073.7 369.2,1074.7 C368.8,1075.7 368.9,1076.1 368.8,1076.4 M368.8,1076.6 C368.9,1076.8 368.9,1077.3 369.5,1078.0 C370.0,1078.7 370.8,1079.8 372.2,1080.7 C373.6,1081.6 375.5,1082.7 378.1,1083.5 C380.7,1084.4 383.9,1085.2 387.6,1085.5 C391.3,1085.9 395.7,1086.0 400.4,1085.7 C405.1,1085.3 410.4,1084.6 415.6,1083.4 C420.9,1082.2 426.5,1080.6 431.7,1078.5 C436.9,1076.5 442.2,1074.0 446.8,1071.4 C451.3,1068.7 455.6,1065.6 458.9,1062.6 C462.2,1059.6 465.0,1056.3 466.6,1053.3 C468.3,1050.3 469.1,1047.2 468.8,1044.7 C468.6,1042.1 467.3,1039.7 465.3,1037.9 C463.2,1036.1 460.0,1034.7 456.4,1033.9 C452.7,1033.1 448.1,1032.8 443.4,1033.1 C438.6,1033.4 433.2,1034.3 427.9,1035.6 C422.7,1036.9 417.0,1038.9 411.9,1041.0 C406.8,1043.1 401.6,1045.7 397.1,1048.2 C392.6,1050.8 388.5,1053.7 385.0,1056.3 C381.5,1059.0 378.7,1061.7 376.4,1064.1 C374.1,1066.4 372.5,1068.7 371.3,1070.4 C370.1,1072.2 369.6,1073.7 369.2,1074.7 C368.8,1075.7 368.9,1076.1 368.8,1076.4 M368.8,1076.6 C368.9,1076.8 368.9,1077.3 369.4,1078.0 C369.9,1078.7 370.6,1079.7 371.9,1080.6 C373.2,1081.5 374.9,1082.6 377.2,1083.3 C379.5,1084.0 382.3,1084.8 385.6,1085.0 C389.0,1085.3 392.9,1085.3 397.1,1084.8 C401.3,1084.4 406.0,1083.5 410.7,1082.1 C415.3,1080.8 420.4,1079.0 425.0,1076.8 C429.6,1074.6 434.3,1071.9 438.3,1069.1 C442.4,1066.4 446.2,1063.1 449.1,1060.0 C452.0,1056.9 454.4,1053.5 455.9,1050.5 C457.3,1047.4 458.0,1044.4 457.8,1041.8 C457.6,1039.2 456.4,1036.9 454.5,1035.1 C452.7,1033.4 449.8,1032.0 446.6,1031.3 C443.3,1030.6 439.2,1030.5 434.9,1030.9 C430.7,1031.4 425.8,1032.4 421.2,1033.9 C416.5,1035.3 411.5,1037.4 406.9,1039.7 C402.4,1041.9 397.8,1044.7 393.8,1047.4 C389.8,1050.1 386.1,1053.1 383.1,1055.8 C380.0,1058.6 377.5,1061.4 375.4,1063.9 C373.4,1066.3 372.0,1068.6 371.0,1070.4 C369.9,1072.2 369.5,1073.6 369.1,1074.6 C368.8,1075.7 368.9,1076.1 368.8,1076.4 M368.8,1076.6 C368.9,1076.8 368.9,1077.3 369.4,1078.0 C369.8,1078.6 370.4,1079.7 371.5,1080.5 C372.7,1081.4 374.1,1082.4 376.2,1083.1 C378.2,1083.8 380.7,1084.4 383.6,1084.6 C386.5,1084.8 389.9,1084.7 393.6,1084.1 C397.2,1083.5 401.3,1082.5 405.4,1081.1 C409.4,1079.6 413.8,1077.7 417.7,1075.4 C421.7,1073.1 425.8,1070.3 429.3,1067.4 C432.8,1064.5 436.1,1061.1 438.6,1057.9 C441.1,1054.8 443.2,1051.3 444.4,1048.2 C445.6,1045.1 446.2,1042.0 445.9,1039.5 C445.7,1036.9 444.7,1034.6 443.0,1032.9 C441.4,1031.2 438.9,1029.9 436.0,1029.3 C433.2,1028.7 429.6,1028.6 425.9,1029.2 C422.2,1029.7 418.0,1030.9 413.9,1032.5 C409.9,1034.0 405.5,1036.3 401.6,1038.6 C397.6,1041.0 393.7,1043.9 390.3,1046.7 C386.8,1049.5 383.6,1052.6 381.0,1055.4 C378.4,1058.3 376.2,1061.2 374.4,1063.7 C372.7,1066.1 371.5,1068.5 370.6,1070.3 C369.7,1072.1 369.4,1073.6 369.1,1074.6 C368.8,1075.7 368.8,1076.1 368.8,1076.4 M368.8,1076.6 C368.9,1076.8 368.9,1077.3 369.3,1078.0 C369.7,1078.6 370.2,1079.6 371.2,1080.5 C372.1,1081.3 373.4,1082.3 375.1,1083.0 C376.8,1083.6 378.9,1084.2 381.4,1084.3 C383.9,1084.4 386.8,1084.3 389.8,1083.6 C392.9,1083.0 396.4,1081.9 399.8,1080.3 C403.1,1078.8 406.8,1076.7 410.2,1074.3 C413.5,1071.9 416.9,1069.0 419.8,1066.1 C422.7,1063.1 425.4,1059.7 427.5,1056.4 C429.6,1053.2 431.3,1049.7 432.3,1046.6 C433.3,1043.4 433.7,1040.3 433.5,1037.8 C433.3,1035.2 432.4,1032.9 430.9,1031.2 C429.5,1029.5 427.4,1028.3 425.0,1027.7 C422.6,1027.2 419.5,1027.2 416.4,1027.9 C413.3,1028.5 409.8,1029.7 406.4,1031.4 C403.0,1033.1 399.3,1035.4 396.0,1037.8 C392.7,1040.3 389.4,1043.3 386.5,1046.2 C383.7,1049.0 381.0,1052.2 378.8,1055.1 C376.6,1058.0 374.8,1061.0 373.4,1063.5 C372.0,1066.0 371.0,1068.4 370.3,1070.2 C369.5,1072.1 369.2,1073.6 369.0,1074.6 C368.7,1075.7 368.8,1076.1 368.8,1076.4 M368.8,1076.6 C368.9,1076.8 368.9,1077.3 369.2,1078.0 C369.5,1078.6 370.0,1079.6 370.8,1080.4 C371.6,1081.3 372.6,1082.3 374.0,1082.9 C375.4,1083.5 377.2,1084.1 379.2,1084.1 C381.1,1084.2 383.5,1084.0 386.0,1083.3 C388.5,1082.6 391.3,1081.4 394.0,1079.8 C396.7,1078.2 399.6,1076.1 402.3,1073.7 C405.0,1071.2 407.7,1068.3 410.0,1065.2 C412.3,1062.2 414.5,1058.7 416.1,1055.4 C417.7,1052.2 419.1,1048.6 419.8,1045.5 C420.6,1042.4 420.8,1039.2 420.6,1036.7 C420.4,1034.1 419.6,1031.8 418.4,1030.1 C417.3,1028.5 415.5,1027.3 413.6,1026.8 C411.6,1026.3 409.1,1026.4 406.6,1027.0 C404.1,1027.7 401.2,1029.0 398.5,1030.7 C395.8,1032.5 392.9,1034.8 390.2,1037.4 C387.6,1039.9 384.9,1042.9 382.7,1045.8 C380.4,1048.8 378.3,1052.0 376.6,1054.9 C374.8,1057.9 373.4,1060.9 372.3,1063.4 C371.2,1066.0 370.4,1068.3 369.9,1070.2 C369.3,1072.1 369.1,1073.6 368.9,1074.6 C368.7,1075.7 368.8,1076.1 368.8,1076.4" fill="none" stroke="#6abd45" stroke-width="1.25" stroke-linejoin="round" stroke-linecap="round"/>
<path d="M474.3,1132.7 C477.9,1131.1 488.9,1126.4 496.3,1123.3 C503.6,1120.1 510.9,1117.0 518.3,1113.9 C525.6,1110.9 532.1,1107.4 540.3,1104.9 C548.4,1102.5 562.7,1100.1 567.2,1099.2L674.2,1135.2M476.3,1131.1 C480.0,1129.7 491.0,1125.3 498.3,1122.4 C505.7,1119.5 513.0,1116.6 520.3,1113.7 C527.7,1110.8 533.6,1107.5 542.3,1105.1 C551.1,1102.6 567.7,1100.1 572.7,1099.1L679.7,1135.2M466.3,1123.4 C470.0,1122.1 481.0,1117.9 488.3,1115.7 C495.6,1113.6 503.0,1112.0 510.3,1110.4 C517.6,1108.7 525.0,1107.2 532.3,1105.9 C539.6,1104.5 547.5,1103.6 554.3,1102.3 C561.1,1100.9 570.0,1098.4 573.1,1097.6L683.1,1135.9M451.0,1137.1 C454.7,1136.5 465.7,1135.1 473.0,1133.2 C480.3,1131.2 487.7,1128.4 495.0,1125.4 C502.3,1122.5 509.7,1119.0 517.0,1115.4 C524.3,1111.7 530.8,1107.3 539.0,1103.7 C547.2,1100.1 561.8,1095.5 566.4,1093.9L688.4,1135.9M444.1,1132.4 C447.7,1131.5 458.7,1129.3 466.1,1126.9 C473.4,1124.5 480.7,1120.9 488.1,1118.0 C495.4,1115.1 502.7,1112.1 510.1,1109.4 C517.4,1106.7 524.7,1103.8 532.1,1101.7 C539.4,1099.6 548.0,1098.0 554.1,1096.7 C560.1,1095.5 565.9,1094.8 568.2,1094.4L693.2,1138.5M453.1,1127.8 C456.8,1126.5 467.8,1122.7 475.1,1120.1 C482.5,1117.5 489.8,1114.7 497.1,1112.3 C504.5,1109.9 511.8,1107.8 519.1,1105.6 C526.5,1103.4 532.9,1101.3 541.1,1099.3 C549.4,1097.3 564.0,1094.5 568.6,1093.5L696.6,1136.3M452.0,1124.9 C455.7,1124.0 466.7,1121.9 474.0,1119.9 C481.4,1117.9 488.7,1115.4 496.0,1112.9 C503.4,1110.5 510.7,1107.7 518.0,1105.0 C525.4,1102.3 532.8,1098.9 540.0,1096.6 C547.3,1094.3 558.1,1092.1 561.7,1091.2L698.7,1137.5M452.6,1129.0 C456.2,1128.3 467.2,1126.7 474.6,1124.6 C481.9,1122.6 489.2,1119.7 496.6,1116.7 C503.9,1113.8 511.2,1110.2 518.6,1106.9 C525.9,1103.5 532.8,1099.4 540.6,1096.5 C548.4,1093.5 561.2,1090.5 565.3,1089.3L705.3,1136.1M436.9,1120.7 C440.6,1119.7 451.6,1116.5 458.9,1114.4 C466.2,1112.2 473.6,1109.5 480.9,1107.8 C488.2,1106.1 495.6,1105.1 502.9,1104.1 C510.2,1103.0 517.6,1102.4 524.9,1101.3 C532.2,1100.2 538.7,1099.3 546.9,1097.4 C555.1,1095.4 569.7,1091.0 574.2,1089.7L705.2,1135.5M445.6,1116.2 C449.2,1115.8 460.2,1114.5 467.6,1113.4 C474.9,1112.3 482.2,1110.8 489.6,1109.4 C496.9,1107.9 504.2,1106.6 511.6,1104.6 C518.9,1102.7 526.2,1100.1 533.6,1097.8 C540.9,1095.4 550.1,1092.3 555.6,1090.5 C561.0,1088.7 564.5,1087.5 566.3,1086.9L712.3,1137.0M475.2,1115.5 C478.9,1114.4 489.9,1111.0 497.2,1108.8 C504.5,1106.6 511.9,1104.4 519.2,1102.2 C526.5,1099.9 533.9,1097.2 541.2,1095.3 C548.5,1093.4 557.1,1092.1 563.2,1090.8 C569.2,1089.4 575.1,1087.9 577.5,1087.3L711.5,1135.0M444.4,1120.1 C448.1,1119.5 459.1,1118.2 466.4,1116.6 C473.8,1115.0 481.1,1112.6 488.4,1110.4 C495.8,1108.1 503.1,1105.6 510.4,1103.1 C517.8,1100.6 525.1,1097.6 532.4,1095.5 C539.8,1093.3 546.2,1091.9 554.4,1090.2 C562.7,1088.6 577.3,1086.5 581.9,1085.7L715.9,1133.5M474.7,1113.5 C478.4,1111.6 489.4,1105.1 496.7,1102.3 C504.0,1099.5 511.4,1097.8 518.7,1096.5 C526.0,1095.3 533.4,1095.5 540.7,1095.0 C548.0,1094.6 555.2,1095.5 562.7,1094.0 C570.2,1092.6 581.8,1087.6 585.7,1086.3L719.7,1132.5M480.5,1109.0 C484.1,1107.9 495.1,1104.8 502.5,1102.7 C509.8,1100.7 517.1,1098.6 524.5,1096.6 C531.8,1094.5 539.1,1092.2 546.5,1090.5 C553.8,1088.9 562.6,1087.6 568.5,1086.5 C574.3,1085.4 579.4,1084.3 581.6,1083.8L727.6,1133.3M443.1,1118.2 C446.8,1117.4 457.8,1115.1 465.1,1113.1 C472.4,1111.0 479.8,1108.1 487.1,1105.9 C494.4,1103.7 501.8,1101.7 509.1,1099.8 C516.4,1097.9 523.8,1096.1 531.1,1094.4 C538.4,1092.8 545.8,1091.3 553.1,1089.8 C560.4,1088.4 569.6,1087.0 575.1,1085.6 C580.6,1084.2 584.4,1082.3 586.3,1081.7L729.3,1130.2M473.2,1104.6 C476.9,1103.7 487.9,1100.4 495.2,1099.0 C502.6,1097.6 509.9,1097.2 517.2,1096.3 C524.6,1095.4 531.9,1094.5 539.2,1093.6 C546.6,1092.6 552.3,1092.7 561.2,1090.6 C570.2,1088.5 587.7,1082.6 593.0,1081.0L733.0,1130.9M476.0,1105.6 C479.6,1104.8 490.6,1103.2 498.0,1101.1 C505.3,1098.9 512.6,1095.6 520.0,1092.5 C527.3,1089.5 534.6,1085.1 542.0,1082.5 C549.3,1079.9 556.6,1078.0 564.0,1076.8 C571.3,1075.5 582.3,1075.3 586.0,1075.0L732.0,1126.7M439.7,1110.7 C443.4,1110.0 454.4,1108.2 461.7,1106.3 C469.1,1104.5 476.4,1101.8 483.7,1099.7 C491.1,1097.6 498.4,1095.6 505.7,1093.7 C513.1,1091.8 520.4,1089.9 527.7,1088.3 C535.1,1086.6 542.4,1085.0 549.7,1083.7 C557.1,1082.5 563.4,1081.9 571.7,1080.6 C580.0,1079.4 595.0,1077.0 599.6,1076.3L739.6,1125.1M439.0,1106.1 C442.7,1105.6 453.7,1104.5 461.0,1103.1 C468.4,1101.7 475.7,1099.6 483.0,1097.8 C490.4,1096.1 497.7,1094.4 505.0,1092.6 C512.4,1090.8 519.7,1088.9 527.0,1087.0 C534.4,1085.2 541.7,1083.1 549.0,1081.5 C556.4,1079.9 563.3,1078.7 571.0,1077.2 C578.7,1075.8 591.2,1073.5 595.3,1072.8L744.3,1122.6M436.7,1104.8 C440.3,1104.5 451.3,1104.1 458.7,1103.0 C466.0,1101.9 473.3,1099.9 480.7,1098.1 C488.0,1096.3 495.3,1094.2 502.7,1092.2 C510.0,1090.1 517.3,1087.8 524.7,1085.9 C532.0,1084.1 539.3,1082.3 546.7,1081.1 C554.0,1079.8 561.3,1079.3 568.7,1078.3 C576.0,1077.3 584.9,1076.1 590.7,1075.1 C596.4,1074.1 601.2,1072.8 603.4,1072.3L743.4,1121.5M469.6,1095.6 C473.2,1095.0 484.2,1092.9 491.6,1091.8 C498.9,1090.7 506.2,1090.1 513.6,1089.1 C520.9,1088.0 528.2,1086.8 535.6,1085.5 C542.9,1084.2 550.2,1082.9 557.6,1081.3 C564.9,1079.7 571.6,1077.9 579.6,1076.0 C587.5,1074.1 601.0,1071.0 605.3,1070.0L745.3,1119.2M460.4,1102.5 C464.1,1101.6 475.1,1098.8 482.4,1097.1 C489.8,1095.4 497.1,1093.9 504.4,1092.2 C511.8,1090.5 519.1,1088.8 526.4,1087.1 C533.8,1085.4 541.1,1083.5 548.4,1081.9 C555.8,1080.4 563.1,1079.0 570.4,1077.7 C577.8,1076.4 585.0,1075.2 592.4,1074.1 C599.8,1073.0 611.1,1071.6 614.9,1071.0L751.9,1118.2M477.4,1096.7 C481.0,1095.9 492.0,1094.0 499.4,1092.0 C506.7,1089.9 514.0,1086.8 521.4,1084.4 C528.7,1082.0 536.0,1079.0 543.4,1077.5 C550.7,1075.9 558.0,1075.6 565.4,1075.1 C572.7,1074.5 580.0,1074.7 587.4,1074.1 C594.7,1073.6 603.8,1072.8 609.4,1071.8 C615.0,1070.8 619.1,1068.8 621.0,1068.2L755.0,1114.0M440.8,1104.6 C444.4,1104.2 455.4,1103.3 462.8,1102.1 C470.1,1100.8 477.4,1099.0 484.8,1097.3 C492.1,1095.6 499.4,1093.9 506.8,1092.0 C514.1,1090.1 521.4,1087.9 528.8,1085.9 C536.1,1083.9 543.4,1081.7 550.8,1080.1 C558.1,1078.4 565.4,1077.1 572.8,1076.0 C580.1,1074.8 587.4,1074.0 594.8,1073.3 C602.1,1072.6 610.7,1072.4 616.8,1071.9 C622.8,1071.4 628.6,1070.4 630.9,1070.1L755.9,1114.1M480.1,1091.6 C483.7,1091.3 494.7,1090.3 502.1,1089.7 C509.4,1089.1 516.7,1088.9 524.1,1088.0 C531.4,1087.2 538.7,1086.0 546.1,1084.6 C553.4,1083.1 560.7,1081.4 568.1,1079.5 C575.4,1077.5 581.9,1075.1 590.1,1072.7 C598.2,1070.2 612.4,1065.9 616.9,1064.6L759.9,1114.0M443.5,1097.0 C447.1,1096.4 458.1,1094.6 465.5,1093.2 C472.8,1091.8 480.1,1089.9 487.5,1088.6 C494.8,1087.2 502.1,1086.1 509.5,1084.8 C516.8,1083.5 524.1,1082.1 531.5,1080.8 C538.8,1079.4 546.1,1078.1 553.5,1076.7 C560.8,1075.3 568.1,1073.8 575.5,1072.5 C582.8,1071.1 589.8,1070.0 597.5,1068.6 C605.2,1067.2 617.6,1064.8 621.6,1064.0L761.6,1112.1M460.3,1094.3 C464.0,1093.4 475.0,1090.9 482.3,1089.4 C489.7,1087.8 497.0,1086.5 504.3,1085.1 C511.7,1083.6 519.0,1082.1 526.3,1080.6 C533.7,1079.1 541.0,1077.6 548.3,1076.2 C555.7,1074.8 563.0,1073.5 570.3,1072.2 C577.7,1071.0 585.0,1069.7 592.3,1068.6 C599.7,1067.6 607.2,1067.1 614.3,1066.1 C621.4,1065.2 631.6,1063.3 635.0,1062.7L766.0,1109.2M467.3,1088.3 C471.0,1087.6 482.0,1085.2 489.3,1084.0 C496.7,1082.8 504.0,1082.1 511.3,1081.1 C518.7,1080.1 526.0,1079.2 533.3,1078.2 C540.7,1077.2 548.0,1076.1 555.3,1074.8 C562.7,1073.6 570.0,1072.0 577.3,1070.6 C584.7,1069.1 592.0,1067.5 599.3,1066.1 C606.7,1064.8 615.6,1063.6 621.3,1062.4 C627.1,1061.3 631.8,1059.9 633.9,1059.4L770.9,1105.9M475.3,1093.0 C479.0,1091.5 490.0,1086.6 497.3,1084.0 C504.7,1081.3 512.0,1078.6 519.3,1077.0 C526.7,1075.4 534.0,1074.6 541.3,1074.2 C548.7,1073.8 556.0,1074.7 563.3,1074.6 C570.7,1074.5 578.0,1074.5 585.3,1073.6 C592.7,1072.7 600.0,1071.2 607.3,1069.4 C614.7,1067.6 623.3,1064.6 629.3,1062.8 C635.4,1061.0 641.4,1059.1 643.8,1058.4L774.8,1104.9M443.2,1092.5 C446.9,1092.3 457.9,1091.5 465.2,1091.0 C472.5,1090.5 479.9,1090.5 487.2,1089.7 C494.5,1089.0 501.9,1088.2 509.2,1086.4 C516.5,1084.7 523.9,1081.6 531.2,1079.2 C538.5,1076.7 545.9,1073.6 553.2,1071.8 C560.5,1069.9 567.9,1068.7 575.2,1068.0 C582.5,1067.4 589.9,1068.0 597.2,1068.1 C604.5,1068.1 611.9,1068.8 619.2,1068.2 C626.5,1067.7 635.2,1066.1 641.2,1064.7 C647.2,1063.3 652.7,1060.6 655.0,1059.7L777.0,1102.6M456.1,1090.3 C459.8,1089.7 470.8,1088.2 478.1,1087.1 C485.5,1086.1 492.8,1085.1 500.1,1083.8 C507.5,1082.6 514.8,1081.1 522.1,1079.5 C529.5,1077.8 536.8,1075.7 544.1,1074.0 C551.5,1072.2 558.8,1070.3 566.1,1068.7 C573.5,1067.2 580.8,1065.6 588.1,1064.6 C595.5,1063.6 602.8,1063.2 610.1,1062.7 C617.5,1062.3 624.8,1062.4 632.1,1062.0 C639.5,1061.5 650.5,1060.4 654.2,1060.0L779.2,1102.8M477.5,1087.4 C481.2,1086.7 492.2,1084.6 499.5,1083.1 C506.8,1081.7 514.2,1080.4 521.5,1078.9 C528.8,1077.5 536.2,1076.0 543.5,1074.7 C550.8,1073.3 558.2,1072.1 565.5,1070.9 C572.8,1069.6 580.2,1068.2 587.5,1067.2 C594.8,1066.1 602.2,1065.3 609.5,1064.4 C616.8,1063.6 622.9,1063.1 631.5,1062.1 C640.0,1061.1 655.9,1059.0 660.8,1058.4L782.8,1100.0M474.0,1084.3 C477.7,1083.9 488.7,1083.1 496.0,1082.2 C503.3,1081.4 510.7,1080.6 518.0,1079.3 C525.3,1078.0 532.7,1076.2 540.0,1074.4 C547.3,1072.5 554.7,1070.3 562.0,1068.4 C569.3,1066.5 576.7,1064.3 584.0,1063.0 C591.3,1061.6 598.7,1060.7 606.0,1060.1 C613.3,1059.5 620.7,1059.7 628.0,1059.5 C635.3,1059.4 643.4,1059.5 650.0,1059.3 C656.6,1059.1 664.6,1058.4 667.5,1058.2L789.5,1099.3M482.4,1080.9 C486.1,1080.6 497.1,1080.1 504.4,1079.4 C511.7,1078.6 519.1,1077.6 526.4,1076.2 C533.7,1074.9 541.1,1073.0 548.4,1071.2 C555.7,1069.3 563.1,1067.0 570.4,1065.0 C577.7,1063.1 585.1,1061.0 592.4,1059.6 C599.7,1058.2 607.1,1057.2 614.4,1056.5 C621.7,1055.9 629.1,1055.8 636.4,1055.6 C643.7,1055.5 652.8,1055.8 658.4,1055.6 C664.0,1055.5 668.2,1054.9 670.1,1054.8L789.1,1096.3M485.8,1083.6 C489.5,1082.9 500.5,1081.2 507.8,1079.7 C515.2,1078.2 522.5,1076.4 529.8,1074.8 C537.2,1073.2 544.5,1071.4 551.8,1070.0 C559.2,1068.6 566.5,1067.2 573.8,1066.2 C581.2,1065.2 588.5,1064.5 595.8,1063.8 C603.2,1063.2 610.5,1062.9 617.8,1062.3 C625.2,1061.7 632.5,1061.0 639.8,1060.0 C647.2,1059.1 656.0,1057.7 661.8,1056.8 C667.7,1055.9 672.6,1054.8 674.8,1054.4L793.8,1096.0M463.0,1087.2 C466.7,1086.1 477.7,1082.5 485.0,1080.6 C492.3,1078.7 499.7,1076.8 507.0,1075.6 C514.3,1074.4 521.7,1073.9 529.0,1073.3 C536.3,1072.6 543.7,1072.6 551.0,1071.8 C558.3,1070.9 565.7,1069.6 573.0,1068.0 C580.3,1066.4 587.7,1064.0 595.0,1062.3 C602.3,1060.7 609.7,1059.1 617.0,1058.3 C624.3,1057.5 631.7,1057.5 639.0,1057.3 C646.3,1057.1 653.0,1058.0 661.0,1057.3 C669.0,1056.7 682.8,1053.9 687.2,1053.2L797.2,1092.0M485.4,1078.2 C489.1,1077.6 500.1,1076.1 507.4,1074.8 C514.7,1073.6 522.1,1072.0 529.4,1070.6 C536.7,1069.2 544.1,1067.8 551.4,1066.6 C558.7,1065.4 566.1,1064.3 573.4,1063.3 C580.7,1062.3 588.1,1061.6 595.4,1060.7 C602.7,1059.9 610.1,1059.2 617.4,1058.3 C624.7,1057.4 632.1,1056.3 639.4,1055.3 C646.7,1054.3 653.7,1053.4 661.4,1052.3 C669.0,1051.3 681.3,1049.6 685.2,1049.1L801.2,1090.4M474.9,1081.3 C478.6,1080.5 489.6,1078.1 496.9,1076.7 C504.2,1075.3 511.6,1074.1 518.9,1072.8 C526.2,1071.6 533.6,1070.4 540.9,1069.3 C548.2,1068.2 555.6,1067.2 562.9,1066.2 C570.2,1065.1 577.6,1064.1 584.9,1063.2 C592.2,1062.3 599.6,1061.6 606.9,1060.9 C614.2,1060.1 621.6,1059.5 628.9,1058.7 C636.2,1057.8 643.6,1056.8 650.9,1055.8 C658.2,1054.8 666.0,1053.7 672.9,1052.7 C679.7,1051.8 688.8,1050.5 692.0,1050.0L805.0,1087.9M484.0,1079.9 C487.6,1078.8 498.6,1075.3 506.0,1073.4 C513.3,1071.6 520.6,1069.9 528.0,1068.7 C535.3,1067.6 542.6,1067.0 550.0,1066.5 C557.3,1066.0 564.6,1066.1 572.0,1065.8 C579.3,1065.6 586.6,1065.5 594.0,1065.0 C601.3,1064.6 608.6,1064.0 616.0,1063.0 C623.3,1061.9 630.6,1060.3 638.0,1058.7 C645.3,1057.0 651.1,1055.1 660.0,1053.2 C668.8,1051.2 685.8,1047.9 691.0,1046.9L804.0,1087.1M485.6,1080.2 C489.3,1079.8 500.3,1078.6 507.6,1077.3 C515.0,1076.0 522.3,1074.1 529.6,1072.4 C537.0,1070.7 544.3,1068.7 551.6,1067.2 C559.0,1065.7 566.3,1064.4 573.6,1063.5 C581.0,1062.6 588.3,1062.2 595.6,1061.7 C603.0,1061.2 610.3,1061.1 617.6,1060.4 C625.0,1059.7 632.3,1058.7 639.6,1057.5 C647.0,1056.3 654.3,1054.7 661.6,1053.5 C669.0,1052.3 676.9,1051.2 683.6,1050.4 C690.4,1049.6 699.1,1048.9 702.2,1048.6L809.2,1084.5M464.0,1081.3 C467.7,1080.3 478.7,1077.4 486.0,1075.4 C493.3,1073.4 500.7,1071.1 508.0,1069.1 C515.3,1067.0 522.7,1064.9 530.0,1063.2 C537.3,1061.6 544.7,1060.3 552.0,1059.3 C559.3,1058.4 566.7,1057.8 574.0,1057.5 C581.3,1057.3 588.7,1057.5 596.0,1057.6 C603.3,1057.7 610.7,1058.3 618.0,1058.1 C625.3,1058.0 632.7,1057.7 640.0,1056.8 C647.3,1055.9 654.7,1054.4 662.0,1052.8 C669.3,1051.2 678.4,1048.9 684.0,1047.1 C689.6,1045.4 693.7,1043.2 695.7,1042.4L814.7,1084.1M444.4,1083.7 C448.1,1083.6 459.1,1083.9 466.4,1083.0 C473.7,1082.2 481.1,1080.4 488.4,1078.6 C495.7,1076.7 503.1,1074.3 510.4,1072.1 C517.7,1070.0 525.1,1067.3 532.4,1065.5 C539.7,1063.8 547.1,1062.3 554.4,1061.4 C561.7,1060.5 569.1,1060.3 576.4,1060.2 C583.7,1060.1 591.1,1060.7 598.4,1060.7 C605.7,1060.7 613.1,1060.9 620.4,1060.2 C627.7,1059.4 635.1,1058.0 642.4,1056.4 C649.7,1054.8 657.1,1052.3 664.4,1050.5 C671.7,1048.6 679.7,1046.6 686.4,1045.2 C693.2,1043.8 701.8,1042.5 704.9,1042.0L817.9,1081.0M437.4,1075.0 C441.1,1074.4 452.1,1072.4 459.4,1071.2 C466.7,1069.9 474.1,1068.5 481.4,1067.7 C488.7,1066.9 496.1,1067.0 503.4,1066.6 C510.7,1066.2 518.1,1066.1 525.4,1065.5 C532.7,1064.9 540.1,1064.2 547.4,1063.0 C554.7,1061.8 562.1,1059.8 569.4,1058.2 C576.7,1056.6 584.1,1054.6 591.4,1053.2 C598.7,1051.8 606.1,1050.7 613.4,1049.9 C620.7,1049.2 628.1,1049.0 635.4,1048.6 C642.7,1048.3 650.1,1048.3 657.4,1047.9 C664.7,1047.5 672.1,1047.2 679.4,1046.4 C686.7,1045.7 696.0,1044.4 701.4,1043.4 C706.8,1042.5 710.0,1041.3 711.7,1040.8L818.7,1078.2M463.7,1073.7 C467.3,1073.6 478.3,1073.0 485.7,1072.9 C493.0,1072.9 500.3,1073.4 507.7,1073.2 C515.0,1073.0 522.3,1072.6 529.7,1071.6 C537.0,1070.6 544.3,1069.1 551.7,1067.2 C559.0,1065.4 566.3,1062.7 573.7,1060.6 C581.0,1058.4 588.3,1055.8 595.7,1054.1 C603.0,1052.4 610.3,1051.0 617.7,1050.2 C625.0,1049.4 632.3,1049.1 639.7,1049.1 C647.0,1049.0 654.3,1049.5 661.7,1049.7 C669.0,1050.0 676.3,1050.6 683.7,1050.5 C691.0,1050.4 699.2,1050.3 705.7,1049.3 C712.1,1048.4 719.7,1045.7 722.5,1044.9L820.5,1077.9M455.0,1071.9 C458.6,1071.0 469.6,1067.8 477.0,1066.1 C484.3,1064.3 491.6,1062.7 499.0,1061.4 C506.3,1060.2 513.6,1059.3 521.0,1058.7 C528.3,1058.1 535.6,1058.1 543.0,1057.8 C550.3,1057.4 557.6,1057.1 565.0,1056.7 C572.3,1056.3 579.6,1056.0 587.0,1055.4 C594.3,1054.9 601.6,1054.2 609.0,1053.4 C616.3,1052.5 623.6,1051.5 631.0,1050.2 C638.3,1048.9 645.6,1047.1 653.0,1045.5 C660.3,1044.0 667.6,1042.2 675.0,1040.8 C682.3,1039.4 690.5,1038.4 697.0,1037.3 C703.5,1036.2 711.1,1034.9 713.9,1034.4L826.9,1074.2M480.9,1072.3 C484.5,1071.6 495.5,1070.2 502.9,1068.4 C510.2,1066.6 517.5,1063.7 524.9,1061.7 C532.2,1059.6 539.5,1057.4 546.9,1056.1 C554.2,1054.8 561.5,1054.0 568.9,1053.8 C576.2,1053.5 583.5,1054.4 590.9,1054.6 C598.2,1054.8 605.5,1055.5 612.9,1055.0 C620.2,1054.5 627.5,1053.3 634.9,1051.7 C642.2,1050.1 649.5,1047.2 656.9,1045.2 C664.2,1043.1 671.5,1040.7 678.9,1039.5 C686.2,1038.3 692.2,1038.1 700.9,1038.0 C709.5,1038.0 725.8,1038.9 730.8,1039.1L831.8,1073.0M467.3,1069.4 C470.9,1068.4 481.9,1065.2 489.3,1063.5 C496.6,1061.7 503.9,1060.0 511.3,1059.0 C518.6,1058.0 525.9,1057.6 533.3,1057.4 C540.6,1057.2 547.9,1057.7 555.3,1057.5 C562.6,1057.4 569.9,1057.3 577.3,1056.5 C584.6,1055.8 591.9,1054.4 599.3,1052.9 C606.6,1051.4 613.9,1049.2 621.3,1047.5 C628.6,1045.8 635.9,1043.7 643.3,1042.5 C650.6,1041.3 657.9,1040.6 665.3,1040.4 C672.6,1040.1 679.9,1040.8 687.3,1041.0 C694.6,1041.1 701.9,1041.8 709.3,1041.4 C716.7,1040.9 727.9,1038.9 731.7,1038.4L829.7,1071.7M462.4,1068.6 C466.0,1067.7 477.0,1064.6 484.4,1063.0 C491.7,1061.3 499.0,1059.9 506.4,1058.8 C513.7,1057.7 521.0,1056.9 528.4,1056.4 C535.7,1055.9 543.0,1055.9 550.4,1055.6 C557.7,1055.3 565.0,1055.0 572.4,1054.6 C579.7,1054.2 587.0,1053.9 594.4,1053.2 C601.7,1052.4 609.0,1051.6 616.4,1050.4 C623.7,1049.2 631.0,1047.7 638.4,1046.2 C645.7,1044.6 653.0,1042.7 660.4,1041.2 C667.7,1039.8 675.0,1038.4 682.4,1037.4 C689.7,1036.5 695.4,1036.0 704.4,1035.7 C713.3,1035.3 730.8,1035.4 736.1,1035.3L837.1,1071.0M446.0,1071.4 C449.7,1071.1 460.7,1070.7 468.0,1069.9 C475.4,1069.1 482.7,1067.8 490.0,1066.5 C497.4,1065.3 504.7,1063.8 512.0,1062.4 C519.4,1061.0 526.7,1059.5 534.0,1058.2 C541.4,1056.8 548.7,1055.5 556.0,1054.5 C563.4,1053.5 570.7,1052.7 578.0,1052.2 C585.4,1051.6 592.7,1051.5 600.0,1051.2 C607.4,1050.9 614.7,1051.0 622.0,1050.4 C629.4,1049.9 636.7,1049.1 644.0,1048.0 C651.4,1046.9 658.7,1045.3 666.0,1043.9 C673.4,1042.4 680.7,1040.7 688.0,1039.4 C695.4,1038.1 702.7,1036.8 710.0,1035.9 C717.4,1035.1 726.4,1034.5 732.0,1034.2 C737.7,1033.9 742.2,1033.9 744.2,1033.9L839.2,1065.9M436.0,1073.8 C439.7,1073.9 450.7,1074.9 458.0,1074.8 C465.4,1074.7 472.7,1074.0 480.0,1073.1 C487.4,1072.2 494.7,1071.1 502.0,1069.6 C509.4,1068.1 516.7,1065.9 524.0,1063.9 C531.4,1062.0 538.7,1059.7 546.0,1057.8 C553.4,1055.9 560.7,1053.7 568.0,1052.4 C575.4,1051.1 582.7,1050.3 590.0,1049.9 C597.4,1049.6 604.7,1050.1 612.0,1050.4 C619.4,1050.7 626.7,1051.6 634.0,1051.8 C641.4,1051.9 648.7,1051.9 656.0,1051.3 C663.4,1050.6 670.7,1049.4 678.0,1047.9 C685.4,1046.5 692.7,1044.4 700.0,1042.4 C707.4,1040.4 716.1,1037.6 722.0,1035.9 C728.0,1034.2 733.4,1032.7 735.6,1032.1L842.6,1067.9M454.0,1065.1 C457.7,1064.6 468.7,1063.0 476.0,1062.1 C483.3,1061.2 490.7,1060.5 498.0,1059.9 C505.3,1059.2 512.7,1058.7 520.0,1058.1 C527.3,1057.5 534.7,1057.1 542.0,1056.3 C549.3,1055.4 556.7,1054.1 564.0,1053.0 C571.3,1051.9 578.7,1050.7 586.0,1049.6 C593.3,1048.5 600.7,1047.5 608.0,1046.6 C615.3,1045.7 622.7,1045.1 630.0,1044.3 C637.3,1043.5 644.7,1042.7 652.0,1041.9 C659.3,1041.1 666.7,1040.3 674.0,1039.5 C681.3,1038.8 688.7,1038.0 696.0,1037.3 C703.3,1036.5 710.1,1035.9 718.0,1035.0 C725.8,1034.2 738.9,1032.8 743.1,1032.4L847.1,1064.1M484.7,1059.6 C488.4,1059.5 499.4,1058.9 506.7,1059.0 C514.1,1059.2 521.4,1060.6 528.7,1060.6 C536.1,1060.7 543.4,1060.6 550.7,1059.3 C558.1,1058.0 565.4,1055.1 572.7,1053.0 C580.1,1050.8 587.4,1048.0 594.7,1046.6 C602.1,1045.2 609.4,1044.8 616.7,1044.7 C624.1,1044.6 631.4,1045.8 638.7,1045.9 C646.1,1046.0 653.4,1046.1 660.7,1045.2 C668.1,1044.3 675.4,1042.3 682.7,1040.6 C690.1,1038.9 697.4,1036.4 704.7,1035.1 C712.1,1033.8 718.7,1033.1 726.7,1032.8 C734.8,1032.5 748.8,1033.1 753.2,1033.1L851.2,1062.8M436.9,1067.1 C440.6,1066.7 451.6,1065.9 458.9,1064.5 C466.2,1063.1 473.6,1060.5 480.9,1058.8 C488.2,1057.2 495.6,1055.5 502.9,1054.4 C510.2,1053.3 517.6,1052.6 524.9,1052.3 C532.2,1052.0 539.6,1052.8 546.9,1052.8 C554.2,1052.8 561.6,1052.8 568.9,1052.5 C576.2,1052.1 583.6,1051.5 590.9,1050.5 C598.2,1049.4 605.6,1047.7 612.9,1046.1 C620.2,1044.5 627.6,1042.3 634.9,1040.7 C642.2,1039.0 649.6,1037.2 656.9,1036.2 C664.2,1035.2 671.6,1034.7 678.9,1034.6 C686.2,1034.4 693.6,1035.1 700.9,1035.3 C708.2,1035.5 715.6,1036.1 722.9,1035.8 C730.2,1035.6 738.7,1034.7 744.9,1033.9 C751.1,1033.0 757.4,1031.2 759.9,1030.7L854.9,1059.7M467.0,1061.6 C470.7,1061.5 481.7,1061.4 489.0,1061.4 C496.3,1061.3 503.7,1061.6 511.0,1061.3 C518.3,1061.0 525.7,1060.5 533.0,1059.4 C540.3,1058.4 547.7,1056.7 555.0,1055.0 C562.3,1053.2 569.7,1050.8 577.0,1049.0 C584.3,1047.2 591.7,1045.4 599.0,1044.2 C606.3,1043.0 613.7,1042.3 621.0,1041.8 C628.3,1041.3 635.7,1041.4 643.0,1041.3 C650.3,1041.3 657.7,1041.6 665.0,1041.5 C672.3,1041.4 679.7,1041.3 687.0,1040.8 C694.3,1040.3 701.7,1039.5 709.0,1038.4 C716.3,1037.3 722.4,1036.0 731.0,1034.3 C739.6,1032.6 755.5,1029.0 760.4,1028.0L858.4,1057.1M440.3,1068.5 C444.0,1067.3 455.0,1063.1 462.3,1061.1 C469.7,1059.0 477.0,1056.7 484.3,1056.1 C491.7,1055.6 499.0,1057.0 506.3,1057.8 C513.7,1058.6 521.0,1060.6 528.3,1060.8 C535.7,1061.1 543.0,1060.8 550.3,1059.2 C557.7,1057.6 565.0,1054.0 572.3,1051.4 C579.7,1048.9 587.0,1045.5 594.3,1043.9 C601.7,1042.3 609.0,1041.9 616.3,1042.0 C623.7,1042.2 631.0,1044.0 638.3,1044.6 C645.7,1045.2 653.0,1046.1 660.3,1045.5 C667.7,1044.8 675.0,1042.9 682.3,1041.0 C689.7,1039.0 697.0,1035.6 704.3,1033.7 C711.7,1031.8 719.0,1030.0 726.3,1029.5 C733.7,1029.0 739.5,1029.9 748.3,1030.5 C757.2,1031.1 774.4,1032.6 779.6,1033.0L856.6,1054.7M441.7,1057.0 C445.4,1057.0 456.4,1057.2 463.7,1057.2 C471.0,1057.1 478.4,1056.9 485.7,1056.7 C493.0,1056.5 500.4,1056.4 507.7,1055.9 C515.0,1055.3 522.4,1054.4 529.7,1053.2 C537.0,1052.1 544.4,1050.5 551.7,1048.9 C559.0,1047.3 566.4,1045.0 573.7,1043.4 C581.0,1041.9 588.4,1040.5 595.7,1039.7 C603.0,1038.8 610.4,1038.6 617.7,1038.4 C625.0,1038.2 632.4,1038.6 639.7,1038.6 C647.0,1038.6 654.4,1038.8 661.7,1038.5 C669.0,1038.2 676.4,1037.7 683.7,1036.8 C691.0,1036.0 698.4,1034.7 705.7,1033.5 C713.0,1032.2 718.9,1030.9 727.7,1029.1 C736.6,1027.4 753.6,1024.1 758.8,1023.1L856.8,1049.3M450.8,1058.7 C454.5,1058.7 465.5,1058.2 472.8,1058.6 C480.2,1059.0 487.5,1060.7 494.8,1061.0 C502.2,1061.4 509.5,1061.5 516.8,1060.5 C524.2,1059.6 531.5,1057.3 538.8,1055.2 C546.2,1053.2 553.5,1049.9 560.8,1048.2 C568.2,1046.5 575.5,1045.6 582.8,1045.3 C590.2,1045.0 597.5,1046.2 604.8,1046.5 C612.2,1046.8 619.5,1047.8 626.8,1047.2 C634.2,1046.5 641.5,1044.7 648.8,1042.8 C656.2,1040.9 663.5,1037.7 670.8,1035.9 C678.2,1034.2 685.5,1032.6 692.8,1032.1 C700.2,1031.7 707.5,1032.7 714.8,1033.2 C722.2,1033.7 729.5,1035.2 736.8,1035.2 C744.2,1035.1 752.3,1034.1 758.8,1033.0 C765.4,1031.9 773.3,1029.3 776.2,1028.6L859.2,1050.3M474.3,1052.9 C478.0,1052.8 489.0,1052.3 496.3,1052.1 C503.7,1051.9 511.0,1052.0 518.3,1051.9 C525.7,1051.7 533.0,1051.9 540.3,1051.2 C547.7,1050.6 555.0,1049.1 562.3,1047.9 C569.7,1046.7 577.0,1045.1 584.3,1043.8 C591.7,1042.4 599.0,1040.9 606.3,1039.9 C613.7,1038.8 621.0,1038.2 628.3,1037.5 C635.7,1036.8 643.0,1036.2 650.3,1035.6 C657.7,1035.1 665.0,1034.7 672.3,1034.1 C679.7,1033.6 687.0,1033.0 694.3,1032.4 C701.7,1031.8 709.0,1031.2 716.3,1030.5 C723.7,1029.8 731.0,1029.0 738.3,1028.2 C745.7,1027.4 754.4,1026.3 760.3,1025.6 C766.2,1025.0 771.4,1024.6 773.7,1024.4L862.7,1046.7M485.5,1058.2 C489.2,1057.3 500.2,1054.4 507.5,1052.8 C514.8,1051.3 522.2,1049.7 529.5,1048.8 C536.8,1047.9 544.2,1047.7 551.5,1047.4 C558.8,1047.2 566.2,1047.4 573.5,1047.5 C580.8,1047.6 588.2,1048.1 595.5,1048.0 C602.8,1047.9 610.2,1047.8 617.5,1046.9 C624.8,1046.0 632.2,1044.4 639.5,1042.7 C646.8,1040.9 654.2,1038.3 661.5,1036.4 C668.8,1034.4 676.2,1032.2 683.5,1030.8 C690.8,1029.5 698.2,1028.7 705.5,1028.5 C712.8,1028.3 720.2,1029.0 727.5,1029.5 C734.8,1030.0 742.2,1031.1 749.5,1031.5 C756.8,1032.0 763.0,1032.7 771.5,1032.2 C780.0,1031.7 795.7,1029.2 800.5,1028.6L862.5,1044.1M471.2,1053.9 C474.9,1054.3 485.9,1056.5 493.2,1056.5 C500.5,1056.5 507.9,1055.4 515.2,1053.9 C522.5,1052.3 529.9,1049.3 537.2,1047.4 C544.5,1045.6 551.9,1043.3 559.2,1042.6 C566.5,1041.9 573.9,1042.8 581.2,1043.2 C588.5,1043.6 595.9,1045.1 603.2,1044.9 C610.5,1044.7 617.9,1043.8 625.2,1042.1 C632.5,1040.4 639.9,1036.7 647.2,1034.5 C654.5,1032.4 661.9,1029.8 669.2,1029.0 C676.5,1028.1 683.9,1029.0 691.2,1029.7 C698.5,1030.4 705.9,1032.7 713.2,1033.1 C720.5,1033.6 727.9,1033.5 735.2,1032.3 C742.5,1031.0 751.7,1027.4 757.2,1025.7 C762.7,1023.9 766.5,1022.3 768.3,1021.6L866.3,1046.9M454.1,1058.6 C457.8,1057.8 468.8,1055.2 476.1,1054.1 C483.4,1053.0 490.8,1052.3 498.1,1052.0 C505.4,1051.7 512.8,1052.0 520.1,1052.1 C527.4,1052.3 534.8,1053.2 542.1,1053.0 C549.4,1052.9 556.8,1052.1 564.1,1051.1 C571.4,1050.1 578.8,1048.7 586.1,1047.2 C593.4,1045.7 600.8,1043.7 608.1,1042.2 C615.4,1040.7 622.8,1039.2 630.1,1038.1 C637.4,1036.9 644.8,1036.0 652.1,1035.3 C659.4,1034.7 666.8,1034.6 674.1,1034.4 C681.4,1034.2 688.8,1034.4 696.1,1034.2 C703.4,1034.1 710.8,1034.0 718.1,1033.5 C725.4,1032.9 732.8,1032.1 740.1,1031.0 C747.4,1030.0 754.4,1028.4 762.1,1027.2 C769.8,1026.1 782.3,1024.6 786.4,1024.0L875.4,1044.3M445.7,1058.2 C449.4,1057.9 460.4,1057.3 467.7,1056.6 C475.1,1056.0 482.4,1055.1 489.7,1054.4 C497.1,1053.6 504.4,1052.9 511.7,1052.3 C519.1,1051.6 526.4,1051.1 533.7,1050.5 C541.1,1049.8 548.4,1049.2 555.7,1048.4 C563.1,1047.7 570.4,1046.9 577.7,1046.1 C585.1,1045.2 592.4,1044.4 599.7,1043.5 C607.1,1042.6 614.4,1041.6 621.7,1040.6 C629.1,1039.5 636.4,1038.3 643.7,1037.2 C651.1,1036.2 658.4,1035.1 665.7,1034.3 C673.1,1033.5 680.4,1033.0 687.7,1032.5 C695.1,1032.1 702.4,1031.9 709.7,1031.5 C717.1,1031.2 724.4,1030.9 731.7,1030.2 C739.1,1029.6 746.0,1028.7 753.7,1027.8 C761.5,1026.8 774.2,1025.1 778.3,1024.5L879.3,1046.3M446.6,1051.3 C450.3,1050.9 461.3,1049.7 468.6,1048.9 C476.0,1048.2 483.3,1047.2 490.6,1046.6 C498.0,1046.1 505.3,1045.8 512.6,1045.6 C520.0,1045.4 527.3,1045.7 534.6,1045.4 C542.0,1045.2 549.3,1044.8 556.6,1044.2 C564.0,1043.5 571.3,1042.6 578.6,1041.6 C586.0,1040.5 593.3,1039.3 600.6,1038.1 C608.0,1037.0 615.3,1035.9 622.6,1034.8 C630.0,1033.8 637.3,1032.7 644.6,1031.8 C652.0,1030.9 659.3,1030.1 666.6,1029.5 C674.0,1028.9 681.3,1028.4 688.6,1028.0 C696.0,1027.6 703.3,1027.4 710.6,1027.0 C718.0,1026.6 725.3,1026.3 732.6,1025.7 C740.0,1025.2 747.0,1024.3 754.6,1023.6 C762.3,1022.9 774.5,1021.8 778.5,1021.5L879.5,1044.1M472.0,1048.4 C475.6,1047.8 486.6,1045.3 494.0,1044.7 C501.3,1044.0 508.6,1044.2 516.0,1044.5 C523.3,1044.9 530.6,1046.7 538.0,1046.9 C545.3,1047.2 552.6,1047.0 560.0,1046.0 C567.3,1045.1 574.6,1042.9 582.0,1041.1 C589.3,1039.2 596.6,1036.4 604.0,1034.9 C611.3,1033.5 618.6,1032.7 626.0,1032.3 C633.3,1031.9 640.6,1032.6 648.0,1032.6 C655.3,1032.7 662.6,1033.1 670.0,1032.5 C677.3,1031.9 684.6,1030.4 692.0,1029.1 C699.3,1027.8 706.6,1025.7 714.0,1024.5 C721.3,1023.4 728.6,1022.5 736.0,1022.2 C743.3,1022.0 750.6,1022.6 758.0,1023.1 C765.3,1023.5 774.4,1024.7 780.0,1025.0 C785.5,1025.3 789.4,1024.9 791.2,1024.9L880.2,1044.5M475.2,1049.5 C478.9,1049.7 489.9,1050.5 497.2,1050.7 C504.5,1050.8 511.9,1050.9 519.2,1050.4 C526.5,1049.9 533.9,1049.0 541.2,1047.7 C548.5,1046.4 555.9,1044.0 563.2,1042.7 C570.5,1041.3 577.9,1040.4 585.2,1039.7 C592.5,1039.1 599.9,1039.0 607.2,1038.8 C614.5,1038.5 621.9,1038.7 629.2,1038.1 C636.5,1037.4 643.9,1036.1 651.2,1034.7 C658.5,1033.4 665.9,1031.4 673.2,1030.1 C680.5,1028.8 687.9,1027.5 695.2,1027.0 C702.5,1026.4 709.9,1026.8 717.2,1026.9 C724.5,1027.0 731.9,1027.6 739.2,1027.5 C746.5,1027.4 752.4,1027.1 761.2,1026.2 C770.0,1025.3 787.0,1022.6 792.1,1021.9L884.1,1040.6M462.3,1051.2 C466.0,1051.2 477.0,1051.7 484.3,1051.4 C491.7,1051.2 499.0,1050.6 506.3,1049.6 C513.7,1048.6 521.0,1046.8 528.3,1045.4 C535.7,1044.0 543.0,1042.3 550.3,1041.0 C557.7,1039.7 565.0,1038.3 572.3,1037.7 C579.7,1037.1 587.0,1037.4 594.3,1037.6 C601.7,1037.7 609.0,1038.6 616.3,1038.6 C623.7,1038.6 631.0,1038.6 638.3,1037.7 C645.7,1036.8 653.0,1035.0 660.3,1033.2 C667.7,1031.4 675.0,1028.8 682.3,1027.0 C689.7,1025.1 697.0,1023.2 704.3,1022.3 C711.7,1021.5 719.0,1021.6 726.3,1021.9 C733.7,1022.2 741.0,1023.3 748.3,1024.1 C755.7,1024.9 763.0,1026.2 770.3,1026.6 C777.7,1027.1 785.4,1027.3 792.3,1026.7 C799.3,1026.1 809.0,1023.7 812.3,1023.1L889.3,1037.7" fill="none" stroke="#6abd45" stroke-width="1.55" stroke-linecap="round" stroke-linejoin="round"/>
<path d="M449.6,1124.1C499.6,1112.6 564.0,1079.6 614.0,1079.7M430.5,1064.7C480.5,1061.4 513.8,1056.1 563.8,1058.4M431.8,1087.2C481.8,1094.4 541.1,1068.0 591.1,1059.1M438.4,1117.8C488.4,1123.1 558.4,1077.6 608.4,1082.1M429.8,1100.7C479.8,1091.6 589.5,1060.3 639.5,1055.5M427.1,1094.3C477.1,1101.1 583.8,1070.8 633.8,1064.6M446.8,1078.3C496.8,1083.6 533.7,1058.9 583.7,1063.1M436.3,1105.7C486.3,1099.4 572.2,1058.5 622.2,1059.0M446.2,1144.3C496.2,1141.0 586.8,1085.3 636.8,1091.9M461.5,1104.3C511.5,1108.7 535.5,1060.5 585.5,1064.9M461.9,1048.2C511.9,1042.0 599.9,1046.9 649.9,1045.5M428.7,1106.2C478.7,1104.4 567.6,1068.7 617.6,1066.8M427.6,1074.1C477.6,1077.4 549.3,1060.3 599.3,1062.5M436.1,1104.1C486.1,1093.5 562.9,1081.2 612.9,1072.0M455.7,1122.4C505.7,1117.6 559.1,1094.7 609.1,1089.0M446.5,1094.5C496.5,1092.2 532.3,1076.9 582.3,1073.2M448.2,1085.7C498.2,1087.4 561.3,1059.7 611.3,1054.6M443.1,1051.6C493.1,1045.6 539.9,1042.4 589.9,1044.7M444.4,1118.6C494.4,1112.9 536.3,1089.7 586.3,1082.1M438.1,1064.0C488.1,1071.9 585.1,1045.1 635.1,1052.5M459.7,1138.1C509.7,1130.6 510.2,1097.3 560.2,1100.9M440.7,1052.9C490.7,1046.8 531.8,1033.8 581.8,1040.2M428.8,1062.9C478.8,1059.6 515.0,1051.6 565.0,1046.4M464.0,1084.4C514.0,1072.4 540.9,1059.7 590.9,1061.2M447.9,1078.6C497.9,1081.2 554.1,1051.1 604.1,1052.0M440.5,1124.5C490.5,1115.0 529.0,1097.4 579.0,1097.1" fill="none" stroke="#6abd45" stroke-width="1.3" stroke-linecap="round"/>
<path d="M544.7,1046.0 C544.5,1042.3 543.2,1030.3 543.3,1024.0 C543.3,1017.7 542.9,1012.6 545.0,1008.0 C547.1,1003.4 548.1,998.8 556.0,996.5 C563.9,994.2 572.4,993.0 592.5,994.1 C612.6,995.2 648.8,999.6 676.9,1003.2 C705.0,1006.8 735.8,1011.5 761.3,1015.8 C786.8,1020.1 812.2,1025.0 830.0,1029.0 C847.8,1033.0 861.7,1038.2 868.0,1040.0 M554.5,1048.0 C554.6,1045.0 554.2,1035.3 555.0,1030.0 C555.8,1024.7 556.0,1020.0 559.0,1016.0 C562.0,1012.0 562.5,1008.1 572.8,1006.0 C583.1,1003.9 599.4,1002.5 620.6,1003.2 C641.8,1003.9 673.4,1007.0 700.0,1010.0 C726.6,1013.0 755.8,1016.8 780.0,1021.0 C804.2,1025.2 834.2,1032.7 845.0,1035.0 M565.8,1046.0 C566.0,1042.6 565.1,1031.2 567.2,1025.7 C569.3,1020.2 571.9,1015.8 578.5,1013.0 C585.1,1010.2 589.7,1009.0 606.6,1008.8 C623.5,1008.6 654.4,1010.1 680.0,1012.0 C705.6,1013.9 734.2,1016.3 760.0,1020.0 C785.8,1023.7 822.5,1031.7 835.0,1034.0 M584.1,1043.0 C584.8,1040.6 585.5,1032.3 588.3,1028.5 C591.1,1024.7 594.7,1022.1 601.0,1020.0 C607.3,1017.9 609.8,1016.3 626.3,1015.8 C642.8,1015.3 676.0,1016.0 700.0,1017.0 C724.0,1018.0 749.2,1019.8 770.0,1022.0 C790.8,1024.2 815.8,1028.7 825.0,1030.0" fill="none" stroke="#6abd45" stroke-width="1.5" stroke-linejoin="round" stroke-linecap="round"/>
<path d="M368.8,1076.6 C368.9,1076.9 369.0,1077.3 369.1,1078.4 C369.2,1079.4 369.4,1080.8 369.4,1082.6 C369.5,1084.4 369.5,1086.7 369.4,1089.1 C369.2,1091.5 369.0,1094.4 368.6,1097.1 C368.2,1099.8 367.6,1102.8 366.8,1105.4 C366.1,1108.1 365.1,1110.8 364.1,1112.9 C363.0,1115.1 361.8,1117.1 360.5,1118.5 C359.3,1119.9 357.8,1120.9 356.5,1121.3 C355.2,1121.6 353.7,1121.4 352.5,1120.7 C351.2,1119.9 349.9,1118.5 348.9,1116.7 C347.9,1114.9 346.9,1112.5 346.3,1109.9 C345.6,1107.4 345.2,1104.3 345.0,1101.2 C344.8,1098.2 344.8,1094.8 345.1,1091.7 C345.4,1088.7 346.0,1085.5 346.8,1082.7 C347.5,1080.0 348.5,1077.4 349.6,1075.3 C350.7,1073.2 352.0,1071.4 353.3,1070.1 C354.5,1068.8 356.0,1068.0 357.3,1067.6 C358.6,1067.2 359.9,1067.3 361.1,1067.6 C362.3,1067.9 363.5,1068.7 364.4,1069.5 C365.4,1070.3 366.2,1071.4 366.8,1072.3 C367.5,1073.2 367.9,1074.3 368.3,1075.0 C368.6,1075.7 368.7,1076.2 368.8,1076.4 M368.8,1076.6 C368.9,1076.9 369.0,1077.3 369.2,1078.4 C369.3,1079.4 369.6,1080.9 369.7,1082.7 C369.9,1084.5 370.2,1086.9 370.3,1089.3 C370.4,1091.8 370.5,1094.7 370.4,1097.5 C370.4,1100.3 370.2,1103.4 370.0,1106.2 C369.7,1108.9 369.3,1111.8 368.8,1114.1 C368.3,1116.4 367.6,1118.5 366.9,1120.1 C366.2,1121.6 365.3,1122.7 364.5,1123.2 C363.6,1123.6 362.6,1123.6 361.7,1122.9 C360.8,1122.2 359.9,1120.9 359.0,1119.2 C358.2,1117.4 357.4,1115.0 356.7,1112.4 C356.1,1109.9 355.5,1106.7 355.1,1103.7 C354.7,1100.6 354.5,1097.1 354.4,1094.0 C354.3,1090.8 354.5,1087.5 354.7,1084.6 C355.0,1081.8 355.4,1079.0 356.0,1076.8 C356.5,1074.6 357.2,1072.6 358.0,1071.2 C358.7,1069.8 359.6,1068.9 360.4,1068.4 C361.2,1067.8 362.1,1067.8 363.0,1068.1 C363.8,1068.3 364.6,1069.0 365.3,1069.7 C366.0,1070.4 366.6,1071.5 367.1,1072.4 C367.6,1073.3 368.0,1074.3 368.3,1075.0 C368.6,1075.7 368.7,1076.2 368.8,1076.4 M368.8,1076.6 C368.9,1076.9 369.0,1077.4 369.2,1078.4 C369.4,1079.4 369.7,1080.9 370.1,1082.8 C370.4,1084.6 370.8,1087.0 371.2,1089.5 C371.6,1092.0 372.0,1095.0 372.4,1097.8 C372.7,1100.7 373.1,1103.9 373.3,1106.7 C373.5,1109.6 373.7,1112.5 373.8,1114.9 C373.9,1117.4 373.8,1119.6 373.7,1121.2 C373.6,1122.8 373.3,1124.1 373.0,1124.6 C372.6,1125.2 372.1,1125.2 371.6,1124.6 C371.1,1124.0 370.5,1122.7 369.9,1121.0 C369.2,1119.3 368.5,1117.0 367.9,1114.4 C367.2,1111.8 366.5,1108.6 365.9,1105.5 C365.3,1102.4 364.8,1098.9 364.3,1095.7 C363.9,1092.4 363.5,1089.1 363.2,1086.1 C363.0,1083.1 362.8,1080.3 362.8,1078.0 C362.7,1075.6 362.8,1073.6 363.0,1072.1 C363.1,1070.6 363.4,1069.6 363.7,1069.0 C364.1,1068.3 364.5,1068.2 364.9,1068.4 C365.3,1068.6 365.8,1069.2 366.2,1069.9 C366.7,1070.6 367.1,1071.6 367.5,1072.5 C367.8,1073.3 368.1,1074.4 368.4,1075.0 C368.6,1075.7 368.7,1076.2 368.8,1076.4 M368.8,1076.6 C368.9,1076.9 369.0,1077.4 369.3,1078.4 C369.5,1079.4 369.9,1080.9 370.4,1082.8 C370.9,1084.7 371.5,1087.1 372.2,1089.6 C372.8,1092.1 373.6,1095.1 374.4,1098.1 C375.2,1101.0 376.0,1104.2 376.8,1107.1 C377.6,1110.0 378.4,1113.0 379.0,1115.5 C379.7,1118.0 380.4,1120.4 380.8,1122.0 C381.3,1123.7 381.7,1125.0 381.9,1125.6 C382.1,1126.3 382.1,1126.3 382.0,1125.8 C381.9,1125.2 381.6,1124.0 381.2,1122.3 C380.8,1120.6 380.2,1118.3 379.5,1115.7 C378.9,1113.1 378.1,1109.9 377.3,1106.8 C376.5,1103.7 375.5,1100.1 374.7,1096.9 C373.8,1093.6 372.9,1090.1 372.1,1087.1 C371.3,1084.1 370.5,1081.2 369.9,1078.8 C369.2,1076.4 368.7,1074.3 368.2,1072.7 C367.8,1071.1 367.4,1070.0 367.2,1069.4 C367.0,1068.7 367.0,1068.5 367.0,1068.6 C367.0,1068.7 367.1,1069.4 367.2,1070.0 C367.4,1070.6 367.6,1071.7 367.8,1072.5 C368.0,1073.3 368.3,1074.4 368.4,1075.0 C368.6,1075.7 368.7,1076.2 368.8,1076.4 M368.8,1076.6 C368.9,1076.9 369.0,1077.4 369.3,1078.4 C369.7,1079.4 370.1,1081.0 370.8,1082.8 C371.4,1084.7 372.2,1087.1 373.2,1089.7 C374.1,1092.2 375.3,1095.2 376.5,1098.2 C377.7,1101.1 379.1,1104.4 380.4,1107.3 C381.7,1110.3 383.1,1113.3 384.4,1115.8 C385.7,1118.4 387.0,1120.7 388.1,1122.5 C389.2,1124.2 390.3,1125.5 391.0,1126.2 C391.8,1126.8 392.3,1126.9 392.7,1126.4 C393.0,1125.9 393.0,1124.6 392.8,1123.0 C392.7,1121.3 392.2,1119.0 391.5,1116.4 C390.9,1113.8 389.9,1110.6 388.9,1107.5 C387.9,1104.3 386.6,1100.8 385.3,1097.5 C384.1,1094.2 382.6,1090.7 381.3,1087.6 C379.9,1084.6 378.5,1081.6 377.2,1079.2 C375.9,1076.8 374.7,1074.6 373.6,1073.0 C372.5,1071.4 371.6,1070.3 370.8,1069.6 C370.1,1068.8 369.5,1068.7 369.1,1068.8 C368.6,1068.8 368.4,1069.4 368.2,1070.1 C368.1,1070.7 368.1,1071.7 368.2,1072.5 C368.2,1073.3 368.4,1074.4 368.5,1075.0 C368.6,1075.7 368.7,1076.2 368.8,1076.4 M368.8,1076.6 C368.9,1076.9 369.0,1077.4 369.4,1078.4 C369.8,1079.4 370.3,1081.0 371.1,1082.8 C371.9,1084.7 373.0,1087.1 374.2,1089.7 C375.5,1092.2 377.0,1095.3 378.6,1098.2 C380.2,1101.1 382.1,1104.4 384.0,1107.4 C385.9,1110.3 388.0,1113.3 389.9,1115.9 C391.8,1118.4 393.8,1120.8 395.5,1122.5 C397.2,1124.2 398.9,1125.6 400.2,1126.2 C401.6,1126.9 402.7,1127.0 403.4,1126.4 C404.1,1125.9 404.6,1124.7 404.6,1123.0 C404.6,1121.4 404.3,1119.0 403.6,1116.4 C403.0,1113.9 401.9,1110.7 400.7,1107.5 C399.4,1104.4 397.8,1100.8 396.1,1097.5 C394.4,1094.2 392.4,1090.7 390.5,1087.7 C388.6,1084.6 386.5,1081.7 384.6,1079.2 C382.7,1076.8 380.7,1074.6 379.0,1073.0 C377.4,1071.4 375.8,1070.3 374.5,1069.6 C373.1,1068.9 372.0,1068.7 371.2,1068.8 C370.3,1068.8 369.7,1069.4 369.3,1070.1 C368.8,1070.7 368.6,1071.7 368.5,1072.5 C368.4,1073.4 368.5,1074.4 368.6,1075.0 C368.6,1075.7 368.7,1076.2 368.8,1076.4 M368.8,1076.6 C368.9,1076.9 369.0,1077.4 369.5,1078.4 C369.9,1079.4 370.5,1080.9 371.5,1082.8 C372.4,1084.7 373.7,1087.1 375.2,1089.6 C376.8,1092.2 378.7,1095.2 380.7,1098.1 C382.8,1101.0 385.2,1104.3 387.6,1107.2 C390.0,1110.1 392.7,1113.1 395.3,1115.6 C397.8,1118.1 400.5,1120.4 402.9,1122.1 C405.2,1123.8 407.5,1125.1 409.4,1125.8 C411.3,1126.4 412.9,1126.5 414.1,1125.9 C415.2,1125.4 416.0,1124.1 416.3,1122.5 C416.5,1120.8 416.3,1118.4 415.7,1115.8 C415.0,1113.3 413.8,1110.1 412.3,1107.0 C410.9,1103.8 408.9,1100.3 406.8,1097.0 C404.6,1093.7 402.1,1090.3 399.7,1087.2 C397.2,1084.2 394.4,1081.3 391.9,1078.9 C389.4,1076.5 386.8,1074.4 384.4,1072.8 C382.1,1071.2 379.9,1070.1 378.1,1069.4 C376.2,1068.7 374.6,1068.6 373.3,1068.7 C372.0,1068.8 371.0,1069.4 370.3,1070.0 C369.5,1070.6 369.2,1071.7 368.9,1072.5 C368.6,1073.3 368.6,1074.4 368.6,1075.0 C368.6,1075.7 368.8,1076.2 368.8,1076.4 M368.8,1076.6 C368.9,1076.9 369.0,1077.4 369.5,1078.4 C370.0,1079.4 370.7,1080.9 371.8,1082.8 C372.9,1084.6 374.4,1087.0 376.2,1089.5 C378.0,1092.0 380.3,1095.0 382.8,1097.9 C385.3,1100.8 388.2,1104.0 391.1,1106.8 C394.1,1109.7 397.4,1112.6 400.5,1115.1 C403.7,1117.5 407.0,1119.8 410.0,1121.4 C413.0,1123.0 415.9,1124.3 418.3,1124.8 C420.7,1125.4 422.9,1125.4 424.5,1124.8 C426.0,1124.2 427.2,1123.0 427.6,1121.3 C428.1,1119.6 428.0,1117.2 427.4,1114.6 C426.7,1112.0 425.4,1108.9 423.7,1105.8 C422.0,1102.7 419.7,1099.2 417.2,1095.9 C414.7,1092.7 411.6,1089.3 408.6,1086.3 C405.6,1083.3 402.2,1080.5 399.1,1078.1 C395.9,1075.8 392.6,1073.7 389.7,1072.2 C386.8,1070.7 384.0,1069.7 381.6,1069.0 C379.2,1068.4 377.0,1068.3 375.3,1068.5 C373.6,1068.6 372.3,1069.2 371.3,1069.9 C370.2,1070.6 369.7,1071.6 369.2,1072.5 C368.8,1073.3 368.8,1074.4 368.7,1075.0 C368.6,1075.7 368.8,1076.2 368.8,1076.4 M368.8,1076.6 C368.9,1076.9 369.0,1077.3 369.6,1078.4 C370.1,1079.4 370.9,1080.9 372.2,1082.7 C373.4,1084.6 375.1,1086.9 377.2,1089.4 C379.3,1091.8 381.8,1094.7 384.7,1097.6 C387.6,1100.4 391.0,1103.5 394.5,1106.3 C398.0,1109.0 401.9,1111.9 405.6,1114.2 C409.3,1116.6 413.3,1118.7 416.8,1120.3 C420.4,1121.8 424.0,1123.0 426.9,1123.4 C429.8,1123.9 432.5,1123.9 434.5,1123.2 C436.4,1122.5 437.8,1121.2 438.5,1119.5 C439.2,1117.8 439.3,1115.4 438.6,1112.8 C437.9,1110.2 436.5,1107.1 434.6,1104.0 C432.7,1100.9 430.1,1097.5 427.1,1094.3 C424.2,1091.1 420.7,1087.8 417.1,1084.9 C413.6,1082.0 409.6,1079.3 405.9,1077.0 C402.2,1074.8 398.3,1072.8 394.8,1071.4 C391.3,1070.0 387.8,1069.0 384.9,1068.5 C382.0,1067.9 379.4,1067.9 377.3,1068.1 C375.2,1068.3 373.5,1069.0 372.2,1069.8 C370.9,1070.5 370.1,1071.5 369.6,1072.4 C369.0,1073.3 368.9,1074.3 368.7,1075.0 C368.6,1075.7 368.8,1076.2 368.8,1076.4 M368.8,1076.6 C369.0,1076.9 369.0,1077.3 369.6,1078.4 C370.3,1079.4 371.1,1080.9 372.5,1082.7 C373.9,1084.5 375.7,1086.7 378.0,1089.2 C380.4,1091.6 383.3,1094.4 386.6,1097.1 C389.8,1099.9 393.7,1102.9 397.6,1105.5 C401.6,1108.2 406.1,1110.9 410.3,1113.2 C414.6,1115.4 419.2,1117.4 423.3,1118.8 C427.4,1120.2 431.5,1121.2 434.9,1121.6 C438.3,1122.0 441.5,1121.8 443.8,1121.1 C446.1,1120.3 447.9,1118.9 448.8,1117.2 C449.7,1115.4 449.8,1113.0 449.1,1110.4 C448.5,1107.8 447.0,1104.7 444.8,1101.7 C442.7,1098.6 439.8,1095.2 436.5,1092.1 C433.2,1089.0 429.2,1085.8 425.2,1083.1 C421.1,1080.3 416.6,1077.7 412.3,1075.5 C408.0,1073.4 403.5,1071.6 399.5,1070.3 C395.5,1069.0 391.5,1068.2 388.1,1067.8 C384.7,1067.3 381.6,1067.4 379.1,1067.7 C376.6,1068.0 374.6,1068.8 373.1,1069.5 C371.5,1070.3 370.6,1071.4 369.9,1072.3 C369.2,1073.3 369.0,1074.3 368.8,1075.0 C368.6,1075.7 368.8,1076.2 368.8,1076.4 M368.8,1076.6 C369.0,1076.9 369.0,1077.3 369.7,1078.3 C370.4,1079.3 371.2,1080.8 372.8,1082.6 C374.3,1084.3 376.3,1086.6 378.9,1088.9 C381.4,1091.3 384.6,1094.0 388.3,1096.6 C391.9,1099.3 396.1,1102.1 400.5,1104.7 C404.9,1107.2 409.9,1109.8 414.7,1111.8 C419.4,1113.9 424.6,1115.8 429.2,1117.0 C433.8,1118.3 438.4,1119.1 442.3,1119.4 C446.2,1119.6 449.7,1119.3 452.4,1118.5 C455.0,1117.6 457.1,1116.1 458.1,1114.3 C459.2,1112.5 459.4,1110.0 458.8,1107.5 C458.1,1104.9 456.5,1101.8 454.2,1098.8 C451.9,1095.8 448.7,1092.5 445.1,1089.5 C441.5,1086.5 437.0,1083.5 432.5,1080.8 C428.1,1078.2 423.0,1075.7 418.2,1073.7 C413.4,1071.8 408.4,1070.1 403.8,1069.0 C399.3,1067.9 394.8,1067.2 391.0,1066.9 C387.1,1066.6 383.7,1066.8 380.8,1067.2 C378.0,1067.6 375.7,1068.5 373.9,1069.3 C372.1,1070.1 371.0,1071.3 370.2,1072.3 C369.3,1073.2 369.1,1074.3 368.8,1075.0 C368.6,1075.7 368.8,1076.2 368.8,1076.4 M368.8,1076.6 C369.0,1076.9 369.0,1077.3 369.7,1078.3 C370.4,1079.3 371.4,1080.8 373.0,1082.5 C374.7,1084.2 376.8,1086.4 379.6,1088.6 C382.4,1090.9 385.8,1093.5 389.8,1096.0 C393.7,1098.5 398.3,1101.3 403.1,1103.6 C407.9,1106.0 413.3,1108.4 418.5,1110.3 C423.8,1112.2 429.4,1113.8 434.4,1114.9 C439.5,1116.0 444.6,1116.7 448.9,1116.8 C453.1,1116.8 457.1,1116.4 460.1,1115.4 C463.0,1114.4 465.3,1112.9 466.5,1111.0 C467.8,1109.1 468.1,1106.6 467.4,1104.0 C466.8,1101.4 465.1,1098.4 462.6,1095.5 C460.2,1092.6 456.7,1089.4 452.7,1086.5 C448.8,1083.6 444.0,1080.7 439.1,1078.2 C434.2,1075.7 428.7,1073.4 423.5,1071.6 C418.2,1069.9 412.7,1068.4 407.7,1067.5 C402.7,1066.5 397.8,1066.0 393.6,1065.9 C389.3,1065.7 385.5,1066.1 382.3,1066.6 C379.2,1067.1 376.6,1068.1 374.6,1069.0 C372.6,1069.9 371.4,1071.2 370.4,1072.2 C369.4,1073.1 369.2,1074.2 368.9,1075.0 C368.6,1075.7 368.8,1076.2 368.8,1076.4 M368.8,1076.6 C369.0,1076.9 369.0,1077.3 369.8,1078.3 C370.5,1079.3 371.5,1080.7 373.2,1082.4 C375.0,1084.0 377.2,1086.1 380.2,1088.3 C383.2,1090.5 386.9,1093.0 391.1,1095.4 C395.3,1097.7 400.2,1100.3 405.4,1102.5 C410.5,1104.7 416.3,1106.9 421.9,1108.5 C427.5,1110.2 433.5,1111.7 439.0,1112.6 C444.4,1113.4 449.9,1113.9 454.5,1113.8 C459.2,1113.7 463.5,1113.1 466.7,1112.0 C469.9,1110.9 472.4,1109.2 473.8,1107.2 C475.1,1105.3 475.5,1102.7 474.9,1100.2 C474.2,1097.6 472.4,1094.6 469.8,1091.7 C467.2,1088.9 463.5,1085.8 459.3,1083.1 C455.2,1080.3 450.0,1077.6 444.8,1075.3 C439.6,1073.0 433.6,1070.9 428.0,1069.3 C422.4,1067.7 416.4,1066.5 411.1,1065.7 C405.7,1065.0 400.4,1064.7 395.8,1064.7 C391.2,1064.7 387.0,1065.3 383.6,1065.9 C380.2,1066.6 377.4,1067.7 375.3,1068.7 C373.1,1069.7 371.7,1071.0 370.6,1072.0 C369.6,1073.1 369.2,1074.2 368.9,1074.9 C368.6,1075.7 368.8,1076.2 368.8,1076.4 M368.8,1076.6 C369.0,1076.9 369.0,1077.3 369.8,1078.3 C370.6,1079.2 371.6,1080.6 373.4,1082.2 C375.2,1083.8 377.6,1085.9 380.7,1087.9 C383.9,1090.0 387.7,1092.4 392.1,1094.6 C396.5,1096.8 401.8,1099.2 407.2,1101.2 C412.6,1103.2 418.7,1105.2 424.7,1106.7 C430.6,1108.1 436.9,1109.3 442.7,1110.0 C448.5,1110.6 454.3,1110.9 459.2,1110.6 C464.1,1110.3 468.7,1109.5 472.1,1108.2 C475.5,1107.0 478.2,1105.2 479.7,1103.1 C481.2,1101.1 481.6,1098.5 481.0,1095.9 C480.3,1093.4 478.5,1090.4 475.8,1087.6 C473.1,1084.9 469.2,1081.9 464.8,1079.3 C460.4,1076.7 455.0,1074.1 449.5,1072.0 C444.0,1070.0 437.7,1068.1 431.8,1066.7 C425.8,1065.3 419.5,1064.4 413.8,1063.8 C408.1,1063.3 402.5,1063.2 397.6,1063.4 C392.8,1063.7 388.3,1064.4 384.7,1065.2 C381.1,1066.0 378.1,1067.2 375.8,1068.3 C373.5,1069.5 371.9,1070.8 370.8,1071.9 C369.7,1073.0 369.3,1074.2 369.0,1074.9 C368.6,1075.7 368.8,1076.2 368.8,1076.4 M368.8,1076.6 C369.0,1076.9 369.0,1077.3 369.8,1078.3 C370.6,1079.2 371.7,1080.5 373.6,1082.1 C375.4,1083.6 377.9,1085.6 381.1,1087.6 C384.4,1089.5 388.4,1091.8 393.0,1093.8 C397.5,1095.9 403.0,1098.1 408.6,1099.9 C414.2,1101.7 420.6,1103.4 426.8,1104.6 C432.9,1105.9 439.6,1106.8 445.6,1107.2 C451.6,1107.7 457.7,1107.7 462.8,1107.1 C467.9,1106.6 472.7,1105.6 476.3,1104.2 C479.9,1102.8 482.7,1100.9 484.3,1098.7 C485.9,1096.6 486.4,1094.0 485.7,1091.4 C485.1,1088.8 483.2,1085.9 480.4,1083.2 C477.6,1080.6 473.5,1077.7 469.0,1075.3 C464.4,1072.9 458.8,1070.5 453.1,1068.6 C447.3,1066.7 440.8,1065.1 434.6,1064.0 C428.4,1062.8 421.9,1062.1 415.9,1061.8 C410.0,1061.5 404.1,1061.6 399.0,1062.1 C394.0,1062.5 389.3,1063.4 385.5,1064.4 C381.7,1065.4 378.6,1066.7 376.2,1068.0 C373.7,1069.2 372.1,1070.6 370.9,1071.8 C369.7,1072.9 369.3,1074.1 369.0,1074.9 C368.6,1075.7 368.8,1076.2 368.8,1076.4 M368.8,1076.6 C369.0,1076.8 369.1,1077.3 369.9,1078.2 C370.7,1079.1 371.7,1080.5 373.6,1082.0 C375.6,1083.4 378.1,1085.3 381.4,1087.2 C384.7,1089.0 388.8,1091.1 393.5,1093.0 C398.2,1094.9 403.8,1096.9 409.6,1098.4 C415.3,1100.0 421.9,1101.5 428.2,1102.5 C434.5,1103.5 441.4,1104.2 447.5,1104.4 C453.7,1104.5 460.0,1104.3 465.3,1103.5 C470.5,1102.8 475.5,1101.6 479.2,1100.0 C482.9,1098.5 485.8,1096.4 487.4,1094.2 C489.0,1091.9 489.6,1089.3 488.9,1086.7 C488.3,1084.1 486.3,1081.3 483.5,1078.7 C480.6,1076.1 476.5,1073.4 471.8,1071.1 C467.2,1068.8 461.4,1066.7 455.5,1065.0 C449.6,1063.3 442.9,1062.0 436.6,1061.1 C430.2,1060.2 423.5,1059.7 417.4,1059.7 C411.3,1059.6 405.2,1060.0 400.0,1060.7 C394.8,1061.3 390.0,1062.4 386.1,1063.6 C382.2,1064.7 378.9,1066.2 376.4,1067.6 C373.9,1068.9 372.3,1070.4 371.0,1071.6 C369.8,1072.9 369.4,1074.1 369.0,1074.9 C368.6,1075.7 368.8,1076.2 368.8,1076.4 M368.8,1076.6 C369.0,1076.8 369.1,1077.3 369.9,1078.2 C370.7,1079.1 371.8,1080.4 373.7,1081.8 C375.6,1083.2 378.2,1085.0 381.5,1086.8 C384.9,1088.5 389.1,1090.4 393.8,1092.2 C398.6,1093.9 404.2,1095.6 410.1,1097.0 C415.9,1098.4 422.6,1099.6 429.0,1100.3 C435.4,1101.0 442.3,1101.5 448.6,1101.4 C454.8,1101.3 461.2,1100.8 466.5,1099.8 C471.9,1098.9 476.9,1097.4 480.6,1095.7 C484.4,1094.0 487.4,1091.7 489.0,1089.4 C490.7,1087.1 491.3,1084.4 490.6,1081.8 C489.9,1079.3 488.0,1076.4 485.1,1073.9 C482.2,1071.4 478.0,1068.9 473.3,1066.8 C468.6,1064.7 462.7,1062.7 456.8,1061.3 C450.8,1059.9 444.1,1058.8 437.6,1058.1 C431.2,1057.5 424.3,1057.3 418.1,1057.5 C412.0,1057.7 405.8,1058.3 400.5,1059.2 C395.2,1060.1 390.4,1061.4 386.4,1062.7 C382.4,1064.0 379.1,1065.7 376.6,1067.1 C374.0,1068.6 372.4,1070.2 371.1,1071.5 C369.8,1072.8 369.4,1074.0 369.0,1074.8 C368.6,1075.7 368.8,1076.2 368.8,1076.4 M368.8,1076.6 C369.0,1076.8 369.1,1077.3 369.9,1078.2 C370.7,1079.0 371.8,1080.3 373.7,1081.7 C375.6,1083.0 378.2,1084.7 381.5,1086.3 C384.9,1087.9 389.1,1089.8 393.8,1091.3 C398.6,1092.8 404.2,1094.4 410.1,1095.5 C416.0,1096.7 422.6,1097.6 429.0,1098.1 C435.4,1098.6 442.3,1098.7 448.6,1098.4 C454.9,1098.1 461.3,1097.3 466.6,1096.1 C472.0,1094.9 477.0,1093.3 480.7,1091.3 C484.5,1089.4 487.5,1087.1 489.1,1084.7 C490.8,1082.3 491.3,1079.5 490.7,1076.9 C490.0,1074.4 488.1,1071.6 485.2,1069.2 C482.3,1066.8 478.1,1064.4 473.4,1062.4 C468.7,1060.5 462.8,1058.8 456.9,1057.6 C450.9,1056.3 444.1,1055.5 437.7,1055.1 C431.2,1054.7 424.4,1054.8 418.2,1055.3 C412.0,1055.7 405.8,1056.6 400.5,1057.7 C395.2,1058.8 390.4,1060.4 386.4,1061.9 C382.4,1063.4 379.1,1065.1 376.6,1066.7 C374.0,1068.3 372.4,1070.0 371.1,1071.4 C369.8,1072.7 369.4,1074.0 369.0,1074.8 C368.6,1075.7 368.8,1076.2 368.8,1076.4 M368.8,1076.6 C369.0,1076.8 369.1,1077.3 369.9,1078.2 C370.7,1079.0 371.7,1080.2 373.7,1081.5 C375.6,1082.8 378.1,1084.4 381.4,1085.9 C384.7,1087.4 388.9,1089.1 393.6,1090.4 C398.3,1091.8 403.9,1093.1 409.6,1094.1 C415.4,1095.0 422.0,1095.7 428.3,1095.9 C434.7,1096.1 441.5,1096.0 447.7,1095.4 C453.9,1094.8 460.2,1093.8 465.5,1092.4 C470.7,1091.0 475.7,1089.1 479.4,1087.0 C483.1,1084.9 486.0,1082.4 487.7,1079.9 C489.3,1077.4 489.9,1074.6 489.2,1072.1 C488.5,1069.5 486.6,1066.8 483.8,1064.4 C480.9,1062.1 476.8,1059.9 472.1,1058.1 C467.4,1056.3 461.6,1054.8 455.7,1053.8 C449.8,1052.9 443.1,1052.3 436.8,1052.2 C430.4,1052.0 423.6,1052.4 417.5,1053.1 C411.4,1053.8 405.3,1055.0 400.1,1056.3 C394.9,1057.6 390.1,1059.3 386.1,1061.0 C382.2,1062.7 379.0,1064.6 376.5,1066.3 C373.9,1068.0 372.3,1069.8 371.0,1071.2 C369.8,1072.6 369.4,1073.9 369.0,1074.8 C368.6,1075.7 368.8,1076.2 368.8,1076.4 M368.8,1076.6 C369.0,1076.8 369.1,1077.3 369.8,1078.1 C370.6,1078.9 371.7,1080.2 373.6,1081.4 C375.5,1082.6 377.9,1084.2 381.2,1085.5 C384.4,1086.9 388.4,1088.4 393.0,1089.6 C397.6,1090.8 403.1,1091.9 408.7,1092.6 C414.4,1093.3 420.8,1093.8 427.0,1093.8 C433.2,1093.8 439.8,1093.4 445.8,1092.5 C451.9,1091.7 458.0,1090.4 463.1,1088.8 C468.3,1087.1 473.1,1085.0 476.7,1082.8 C480.3,1080.6 483.1,1077.9 484.7,1075.3 C486.3,1072.7 486.8,1069.9 486.2,1067.3 C485.5,1064.7 483.6,1062.1 480.8,1059.8 C478.0,1057.6 473.9,1055.5 469.4,1053.9 C464.8,1052.3 459.1,1051.0 453.4,1050.2 C447.6,1049.5 441.1,1049.1 434.9,1049.3 C428.7,1049.4 422.1,1050.0 416.1,1051.0 C410.2,1051.9 404.3,1053.3 399.2,1054.9 C394.1,1056.4 389.4,1058.3 385.6,1060.2 C381.8,1062.0 378.6,1064.1 376.2,1065.9 C373.8,1067.7 372.2,1069.6 371.0,1071.1 C369.8,1072.5 369.3,1073.9 369.0,1074.8 C368.6,1075.7 368.8,1076.2 368.8,1076.4 M368.8,1076.6 C369.0,1076.8 369.0,1077.3 369.8,1078.1 C370.6,1078.9 371.6,1080.1 373.4,1081.3 C375.3,1082.4 377.6,1083.9 380.8,1085.1 C383.9,1086.4 387.8,1087.8 392.2,1088.8 C396.7,1089.8 401.9,1090.8 407.4,1091.3 C412.8,1091.8 419.0,1092.0 424.9,1091.7 C430.9,1091.5 437.3,1090.8 443.1,1089.8 C448.9,1088.7 454.7,1087.1 459.7,1085.3 C464.6,1083.5 469.2,1081.2 472.6,1078.8 C476.1,1076.4 478.8,1073.6 480.3,1070.9 C481.8,1068.2 482.3,1065.3 481.6,1062.8 C480.9,1060.2 479.1,1057.6 476.4,1055.4 C473.7,1053.3 469.7,1051.3 465.3,1049.8 C460.9,1048.4 455.5,1047.3 449.9,1046.8 C444.4,1046.2 438.1,1046.1 432.1,1046.5 C426.2,1046.8 419.8,1047.7 414.1,1048.9 C408.4,1050.1 402.7,1051.7 397.8,1053.5 C392.9,1055.2 388.5,1057.4 384.8,1059.4 C381.1,1061.4 378.2,1063.6 375.8,1065.5 C373.5,1067.5 372.0,1069.4 370.8,1070.9 C369.7,1072.5 369.3,1073.8 369.0,1074.7 C368.6,1075.7 368.8,1076.1 368.8,1076.4 M368.8,1076.6 C369.0,1076.8 369.0,1077.3 369.8,1078.1 C370.5,1078.9 371.5,1080.0 373.3,1081.1 C375.0,1082.2 377.3,1083.6 380.3,1084.8 C383.3,1085.9 387.0,1087.2 391.2,1088.1 C395.4,1088.9 400.4,1089.7 405.6,1090.0 C410.8,1090.3 416.6,1090.3 422.2,1089.8 C427.9,1089.3 433.9,1088.4 439.4,1087.1 C444.9,1085.9 450.5,1084.1 455.1,1082.0 C459.8,1080.0 464.1,1077.5 467.3,1075.0 C470.6,1072.4 473.1,1069.5 474.5,1066.8 C475.9,1064.0 476.3,1061.1 475.6,1058.5 C475.0,1055.9 473.2,1053.3 470.6,1051.3 C468.0,1049.2 464.2,1047.3 460.0,1046.0 C455.8,1044.7 450.6,1043.9 445.4,1043.5 C440.1,1043.1 434.1,1043.3 428.5,1043.9 C422.8,1044.5 416.8,1045.6 411.4,1047.0 C406.0,1048.4 400.6,1050.3 396.0,1052.2 C391.4,1054.2 387.2,1056.5 383.8,1058.6 C380.3,1060.8 377.5,1063.1 375.3,1065.2 C373.1,1067.2 371.7,1069.2 370.6,1070.8 C369.6,1072.4 369.2,1073.8 368.9,1074.7 C368.6,1075.7 368.8,1076.1 368.8,1076.4 M368.8,1076.6 C369.0,1076.8 369.0,1077.3 369.7,1078.1 C370.5,1078.8 371.4,1079.9 373.0,1081.0 C374.7,1082.1 376.9,1083.4 379.7,1084.5 C382.5,1085.5 386.0,1086.7 389.9,1087.4 C393.9,1088.1 398.6,1088.7 403.4,1088.8 C408.2,1088.9 413.7,1088.7 419.0,1088.1 C424.2,1087.4 429.9,1086.3 435.0,1084.8 C440.1,1083.3 445.2,1081.3 449.6,1079.0 C453.9,1076.8 457.9,1074.2 460.9,1071.5 C463.8,1068.8 466.2,1065.8 467.4,1062.9 C468.7,1060.1 469.0,1057.1 468.3,1054.6 C467.7,1052.0 466.0,1049.4 463.5,1047.4 C461.0,1045.4 457.5,1043.7 453.5,1042.6 C449.6,1041.4 444.7,1040.7 439.8,1040.5 C434.9,1040.3 429.3,1040.7 424.0,1041.5 C418.7,1042.3 413.2,1043.6 408.1,1045.2 C403.1,1046.8 398.1,1048.9 393.8,1051.0 C389.6,1053.2 385.7,1055.6 382.5,1057.9 C379.3,1060.2 376.7,1062.7 374.7,1064.8 C372.7,1067.0 371.4,1069.1 370.4,1070.7 C369.5,1072.3 369.2,1073.7 368.9,1074.7 C368.6,1075.7 368.8,1076.1 368.8,1076.4 M368.8,1076.6 C369.0,1076.8 369.0,1077.3 369.7,1078.1 C370.4,1078.8 371.2,1079.9 372.8,1080.9 C374.3,1081.9 376.3,1083.2 378.9,1084.2 C381.6,1085.1 384.8,1086.2 388.4,1086.8 C392.1,1087.4 396.4,1087.8 400.8,1087.8 C405.3,1087.7 410.3,1087.3 415.1,1086.5 C420.0,1085.6 425.1,1084.3 429.8,1082.6 C434.4,1080.9 439.2,1078.7 443.1,1076.4 C447.0,1074.0 450.6,1071.2 453.3,1068.4 C456.0,1065.5 458.1,1062.4 459.2,1059.5 C460.2,1056.7 460.5,1053.6 459.8,1051.1 C459.2,1048.5 457.5,1046.0 455.2,1044.0 C452.9,1042.1 449.6,1040.5 446.0,1039.4 C442.3,1038.4 437.9,1037.8 433.3,1037.8 C428.8,1037.8 423.7,1038.4 418.8,1039.3 C414.0,1040.3 408.9,1041.9 404.3,1043.6 C399.7,1045.4 395.2,1047.7 391.3,1050.0 C387.4,1052.3 383.9,1054.9 381.0,1057.3 C378.1,1059.8 375.8,1062.3 374.0,1064.6 C372.2,1066.8 371.0,1068.9 370.2,1070.6 C369.3,1072.3 369.1,1073.7 368.9,1074.7 C368.6,1075.7 368.8,1076.1 368.8,1076.4 M368.8,1076.6 C369.0,1076.8 369.0,1077.3 369.7,1078.0 C370.3,1078.7 371.1,1079.8 372.5,1080.8 C373.9,1081.8 375.8,1083.0 378.1,1083.9 C380.5,1084.8 383.5,1085.7 386.8,1086.2 C390.1,1086.7 394.0,1087.0 398.0,1086.9 C402.0,1086.7 406.5,1086.1 410.8,1085.1 C415.2,1084.1 419.8,1082.6 424.0,1080.8 C428.1,1078.9 432.3,1076.6 435.8,1074.1 C439.3,1071.5 442.5,1068.6 444.8,1065.7 C447.2,1062.8 449.0,1059.5 449.9,1056.6 C450.8,1053.7 450.9,1050.6 450.3,1048.0 C449.6,1045.4 448.1,1043.0 446.0,1041.1 C443.8,1039.2 440.8,1037.7 437.5,1036.7 C434.2,1035.8 430.1,1035.4 426.0,1035.5 C422.0,1035.6 417.4,1036.4 413.0,1037.5 C408.7,1038.6 404.1,1040.4 400.0,1042.3 C395.9,1044.2 391.9,1046.7 388.4,1049.1 C385.0,1051.5 381.9,1054.3 379.3,1056.8 C376.8,1059.3 374.8,1062.0 373.2,1064.3 C371.6,1066.6 370.6,1068.8 369.9,1070.5 C369.2,1072.2 369.0,1073.7 368.8,1074.7 C368.6,1075.7 368.8,1076.1 368.8,1076.4 M368.8,1076.6 C369.0,1076.8 369.0,1077.3 369.6,1078.0 C370.2,1078.7 370.9,1079.8 372.2,1080.7 C373.5,1081.7 375.1,1082.9 377.3,1083.7 C379.4,1084.5 382.0,1085.4 384.9,1085.8 C387.9,1086.2 391.3,1086.4 394.9,1086.1 C398.4,1085.8 402.4,1085.1 406.1,1084.0 C409.9,1082.8 414.0,1081.2 417.6,1079.2 C421.2,1077.3 424.8,1074.8 427.8,1072.2 C430.8,1069.5 433.6,1066.4 435.6,1063.4 C437.5,1060.4 439.0,1057.2 439.7,1054.2 C440.5,1051.2 440.5,1048.1 439.8,1045.5 C439.2,1042.9 437.8,1040.5 435.8,1038.7 C433.9,1036.8 431.2,1035.4 428.2,1034.5 C425.3,1033.7 421.7,1033.4 418.1,1033.6 C414.5,1033.9 410.4,1034.7 406.7,1036.0 C402.9,1037.2 398.9,1039.1 395.3,1041.2 C391.8,1043.2 388.3,1045.8 385.3,1048.3 C382.3,1050.9 379.7,1053.7 377.5,1056.4 C375.3,1059.0 373.6,1061.7 372.3,1064.1 C371.0,1066.4 370.2,1068.7 369.6,1070.4 C369.0,1072.2 368.9,1073.7 368.7,1074.7 C368.6,1075.7 368.8,1076.1 368.8,1076.4 M368.8,1076.6 C368.9,1076.8 369.0,1077.3 369.5,1078.0 C370.0,1078.7 370.7,1079.8 371.9,1080.7 C373.0,1081.6 374.5,1082.7 376.3,1083.5 C378.2,1084.3 380.5,1085.1 383.0,1085.5 C385.5,1085.8 388.5,1085.9 391.5,1085.5 C394.5,1085.1 397.9,1084.4 401.1,1083.1 C404.3,1081.9 407.8,1080.1 410.8,1078.1 C413.8,1076.0 416.9,1073.4 419.3,1070.7 C421.8,1068.0 424.0,1064.8 425.6,1061.7 C427.2,1058.7 428.4,1055.3 428.9,1052.3 C429.4,1049.3 429.3,1046.2 428.7,1043.6 C428.0,1041.0 426.7,1038.6 425.0,1036.8 C423.3,1035.0 420.9,1033.6 418.3,1032.8 C415.8,1032.0 412.7,1031.8 409.6,1032.1 C406.5,1032.5 403.1,1033.4 399.8,1034.8 C396.6,1036.2 393.3,1038.1 390.3,1040.3 C387.3,1042.5 384.4,1045.1 382.0,1047.8 C379.5,1050.4 377.3,1053.3 375.5,1056.0 C373.8,1058.7 372.4,1061.5 371.4,1063.9 C370.3,1066.3 369.7,1068.6 369.3,1070.4 C368.8,1072.2 368.8,1073.6 368.7,1074.6 C368.6,1075.7 368.8,1076.1 368.8,1076.4 M368.8,1076.6 C368.9,1076.8 369.0,1077.3 369.5,1078.0 C369.9,1078.7 370.5,1079.7 371.5,1080.6 C372.5,1081.5 373.8,1082.7 375.3,1083.4 C376.9,1084.2 378.8,1084.9 381.0,1085.2 C383.1,1085.5 385.5,1085.6 388.0,1085.1 C390.5,1084.7 393.3,1083.8 395.9,1082.5 C398.5,1081.2 401.3,1079.4 403.7,1077.3 C406.1,1075.1 408.5,1072.5 410.4,1069.7 C412.4,1066.9 414.1,1063.7 415.3,1060.6 C416.5,1057.4 417.3,1054.1 417.6,1051.0 C417.9,1048.0 417.7,1044.9 417.0,1042.3 C416.4,1039.7 415.2,1037.3 413.7,1035.5 C412.1,1033.7 410.1,1032.4 408.0,1031.6 C405.8,1030.9 403.2,1030.7 400.7,1031.1 C398.1,1031.5 395.3,1032.6 392.7,1034.0 C390.1,1035.4 387.4,1037.5 385.1,1039.7 C382.7,1041.9 380.4,1044.7 378.5,1047.4 C376.5,1050.0 374.9,1053.1 373.5,1055.8 C372.2,1058.5 371.1,1061.4 370.4,1063.8 C369.6,1066.2 369.2,1068.5 368.9,1070.3 C368.6,1072.1 368.6,1073.6 368.6,1074.6 C368.6,1075.7 368.8,1076.1 368.8,1076.4 M368.8,1076.6 C368.9,1076.8 369.0,1077.3 369.4,1078.0 C369.8,1078.7 370.4,1079.7 371.2,1080.6 C372.0,1081.5 373.1,1082.6 374.3,1083.4 C375.6,1084.1 377.2,1084.9 378.9,1085.1 C380.5,1085.4 382.5,1085.4 384.4,1084.9 C386.4,1084.4 388.5,1083.6 390.5,1082.2 C392.5,1080.9 394.6,1079.0 396.4,1076.8 C398.2,1074.7 399.9,1072.0 401.3,1069.1 C402.7,1066.3 403.9,1063.1 404.6,1059.9 C405.4,1056.8 405.9,1053.4 405.9,1050.3 C406.0,1047.3 405.7,1044.2 405.0,1041.6 C404.4,1039.0 403.3,1036.6 402.0,1034.8 C400.7,1033.1 399.1,1031.7 397.3,1031.0 C395.6,1030.3 393.5,1030.2 391.5,1030.6 C389.6,1031.0 387.4,1032.1 385.4,1033.6 C383.4,1035.0 381.4,1037.1 379.7,1039.4 C377.9,1041.7 376.2,1044.4 374.9,1047.1 C373.5,1049.9 372.3,1052.9 371.4,1055.7 C370.5,1058.4 369.8,1061.3 369.4,1063.8 C368.9,1066.2 368.7,1068.5 368.6,1070.3 C368.4,1072.1 368.5,1073.6 368.6,1074.6 C368.6,1075.7 368.7,1076.1 368.8,1076.4 M368.8,1076.6 C368.9,1076.8 369.0,1077.3 369.4,1078.0 C369.7,1078.7 370.2,1079.7 370.8,1080.6 C371.5,1081.5 372.3,1082.6 373.3,1083.4 C374.3,1084.1 375.5,1084.8 376.7,1085.1 C378.0,1085.4 379.4,1085.4 380.8,1084.9 C382.2,1084.4 383.7,1083.5 385.1,1082.2 C386.4,1080.8 387.8,1079.0 389.0,1076.8 C390.1,1074.6 391.2,1071.9 392.1,1069.1 C392.9,1066.3 393.5,1063.0 393.9,1059.9 C394.2,1056.8 394.3,1053.3 394.2,1050.3 C394.0,1047.2 393.6,1044.1 392.9,1041.5 C392.3,1038.9 391.3,1036.6 390.3,1034.8 C389.2,1033.0 387.9,1031.7 386.6,1031.0 C385.2,1030.3 383.7,1030.1 382.3,1030.6 C380.9,1031.0 379.4,1032.1 378.0,1033.5 C376.7,1035.0 375.4,1037.1 374.2,1039.4 C373.1,1041.6 372.1,1044.4 371.2,1047.1 C370.4,1049.9 369.8,1052.9 369.3,1055.7 C368.8,1058.4 368.5,1061.3 368.4,1063.7 C368.2,1066.2 368.2,1068.5 368.2,1070.3 C368.2,1072.1 368.4,1073.6 368.5,1074.6 C368.6,1075.7 368.7,1076.1 368.8,1076.4 M368.8,1076.6 C368.9,1076.8 369.0,1077.3 369.3,1078.0 C369.6,1078.7 370.0,1079.7 370.5,1080.6 C371.0,1081.5 371.6,1082.6 372.3,1083.4 C373.0,1084.2 373.8,1084.9 374.6,1085.2 C375.5,1085.5 376.4,1085.5 377.2,1085.1 C378.0,1084.6 378.9,1083.8 379.7,1082.5 C380.4,1081.1 381.1,1079.3 381.6,1077.2 C382.2,1075.0 382.6,1072.3 382.9,1069.6 C383.2,1066.8 383.3,1063.5 383.2,1060.4 C383.1,1057.3 382.9,1053.9 382.5,1050.9 C382.1,1047.8 381.5,1044.7 380.9,1042.1 C380.2,1039.5 379.4,1037.1 378.6,1035.4 C377.7,1033.6 376.8,1032.2 375.9,1031.5 C375.0,1030.8 374.0,1030.6 373.1,1031.0 C372.3,1031.4 371.4,1032.5 370.7,1033.9 C370.0,1035.3 369.3,1037.4 368.8,1039.6 C368.3,1041.9 367.9,1044.6 367.6,1047.3 C367.4,1050.0 367.2,1053.0 367.2,1055.8 C367.1,1058.5 367.2,1061.4 367.3,1063.8 C367.4,1066.2 367.7,1068.5 367.9,1070.3 C368.0,1072.1 368.3,1073.6 368.4,1074.6 C368.6,1075.7 368.7,1076.1 368.8,1076.4 M368.8,1076.6 C368.9,1076.8 369.0,1077.3 369.2,1078.0 C369.4,1078.7 369.8,1079.8 370.1,1080.7 C370.5,1081.6 370.9,1082.7 371.3,1083.5 C371.7,1084.3 372.2,1085.1 372.6,1085.4 C373.0,1085.7 373.4,1085.9 373.7,1085.5 C374.0,1085.1 374.2,1084.3 374.4,1083.0 C374.5,1081.7 374.6,1080.0 374.5,1077.9 C374.4,1075.8 374.2,1073.2 374.0,1070.5 C373.7,1067.8 373.3,1064.6 372.8,1061.5 C372.3,1058.4 371.7,1055.1 371.1,1052.0 C370.5,1049.0 369.8,1045.9 369.2,1043.3 C368.5,1040.8 367.8,1038.3 367.2,1036.5 C366.6,1034.8 366.0,1033.4 365.5,1032.6 C365.0,1031.8 364.5,1031.6 364.2,1031.9 C363.9,1032.3 363.7,1033.3 363.6,1034.6 C363.4,1036.0 363.5,1038.0 363.6,1040.2 C363.6,1042.4 363.9,1045.0 364.1,1047.7 C364.4,1050.3 364.8,1053.3 365.1,1056.0 C365.5,1058.7 366.0,1061.5 366.4,1063.9 C366.7,1066.3 367.2,1068.6 367.5,1070.4 C367.8,1072.2 368.2,1073.6 368.4,1074.6 C368.6,1075.7 368.7,1076.1 368.8,1076.4 M368.8,1076.6 C368.9,1076.8 369.0,1077.3 369.2,1078.0 C369.3,1078.7 369.6,1079.8 369.8,1080.7 C370.0,1081.7 370.2,1082.8 370.4,1083.7 C370.5,1084.5 370.6,1085.3 370.6,1085.7 C370.6,1086.1 370.5,1086.3 370.3,1086.0 C370.1,1085.7 369.8,1085.0 369.3,1083.8 C368.9,1082.7 368.3,1081.0 367.7,1079.0 C367.0,1077.0 366.2,1074.5 365.4,1071.9 C364.6,1069.2 363.7,1066.1 362.8,1063.1 C362.0,1060.1 361.0,1056.8 360.2,1053.8 C359.4,1050.8 358.6,1047.7 358.0,1045.2 C357.3,1042.6 356.7,1040.1 356.3,1038.3 C355.9,1036.5 355.6,1035.0 355.5,1034.2 C355.4,1033.4 355.5,1033.1 355.7,1033.3 C355.9,1033.6 356.2,1034.5 356.7,1035.8 C357.2,1037.0 357.8,1038.9 358.5,1041.0 C359.2,1043.1 360.0,1045.7 360.8,1048.2 C361.6,1050.8 362.4,1053.7 363.2,1056.3 C364.0,1058.9 364.7,1061.7 365.4,1064.1 C366.1,1066.4 366.7,1068.7 367.2,1070.4 C367.7,1072.2 368.0,1073.6 368.3,1074.7 C368.6,1075.7 368.7,1076.1 368.8,1076.4 M368.8,1076.6 C368.9,1076.8 369.0,1077.3 369.1,1078.0 C369.2,1078.7 369.4,1079.8 369.5,1080.8 C369.5,1081.8 369.6,1083.0 369.5,1083.9 C369.4,1084.8 369.2,1085.7 368.8,1086.2 C368.4,1086.6 367.9,1086.9 367.2,1086.7 C366.5,1086.5 365.6,1085.9 364.6,1084.9 C363.6,1083.9 362.4,1082.4 361.2,1080.5 C360.0,1078.6 358.7,1076.3 357.4,1073.7 C356.1,1071.2 354.7,1068.2 353.5,1065.3 C352.2,1062.3 351.0,1059.1 350.0,1056.2 C349.0,1053.2 348.1,1050.2 347.4,1047.6 C346.8,1045.0 346.3,1042.5 346.1,1040.7 C345.9,1038.8 345.9,1037.3 346.2,1036.3 C346.4,1035.4 346.9,1035.0 347.6,1035.2 C348.3,1035.3 349.3,1036.1 350.3,1037.2 C351.3,1038.4 352.6,1040.1 353.8,1042.1 C355.0,1044.0 356.4,1046.5 357.6,1048.9 C358.9,1051.4 360.2,1054.2 361.3,1056.7 C362.5,1059.3 363.6,1062.0 364.5,1064.3 C365.4,1066.6 366.2,1068.8 366.9,1070.5 C367.5,1072.2 367.9,1073.7 368.3,1074.7 C368.6,1075.7 368.7,1076.1 368.8,1076.4 M368.8,1076.6 C368.9,1076.8 369.0,1077.3 369.1,1078.0 C369.1,1078.8 369.3,1079.9 369.2,1080.9 C369.1,1081.9 369.0,1083.2 368.7,1084.1 C368.3,1085.1 367.8,1086.1 367.1,1086.7 C366.4,1087.3 365.4,1087.7 364.3,1087.6 C363.1,1087.5 361.8,1087.1 360.3,1086.2 C358.8,1085.3 357.0,1084.0 355.3,1082.3 C353.6,1080.6 351.8,1078.4 350.0,1076.0 C348.3,1073.6 346.5,1070.7 344.9,1067.9 C343.3,1065.1 341.8,1061.9 340.6,1059.0 C339.4,1056.1 338.4,1053.1 337.8,1050.5 C337.1,1047.9 336.7,1045.4 336.7,1043.5 C336.7,1041.6 337.0,1040.0 337.6,1039.0 C338.2,1037.9 339.1,1037.4 340.3,1037.4 C341.4,1037.4 342.9,1038.0 344.4,1039.0 C345.9,1040.0 347.7,1041.6 349.4,1043.4 C351.2,1045.2 353.0,1047.5 354.7,1049.8 C356.4,1052.1 358.2,1054.8 359.6,1057.2 C361.1,1059.7 362.5,1062.3 363.7,1064.5 C364.9,1066.7 365.8,1068.9 366.6,1070.6 C367.3,1072.3 367.8,1073.7 368.2,1074.7 C368.6,1075.7 368.7,1076.1 368.8,1076.4 M368.8,1076.6 C368.8,1076.8 369.0,1077.3 369.0,1078.1 C369.0,1078.8 369.1,1079.9 368.9,1081.0 C368.8,1082.0 368.5,1083.4 367.9,1084.4 C367.4,1085.5 366.6,1086.6 365.6,1087.3 C364.5,1088.0 363.2,1088.5 361.7,1088.6 C360.2,1088.7 358.3,1088.5 356.4,1087.8 C354.4,1087.1 352.2,1085.9 350.1,1084.4 C347.9,1082.8 345.6,1080.8 343.4,1078.6 C341.3,1076.3 339.1,1073.6 337.2,1070.9 C335.4,1068.2 333.6,1065.2 332.2,1062.3 C330.9,1059.5 329.8,1056.5 329.1,1053.9 C328.5,1051.4 328.2,1048.8 328.3,1046.9 C328.5,1044.9 329.0,1043.1 329.9,1042.0 C330.8,1040.9 332.1,1040.2 333.7,1040.0 C335.2,1039.9 337.2,1040.3 339.1,1041.1 C341.1,1041.9 343.4,1043.3 345.6,1044.9 C347.7,1046.6 350.0,1048.7 352.1,1050.9 C354.2,1053.0 356.3,1055.5 358.1,1057.8 C359.9,1060.2 361.6,1062.7 363.0,1064.8 C364.3,1066.9 365.5,1069.0 366.3,1070.7 C367.2,1072.3 367.8,1073.7 368.2,1074.7 C368.6,1075.7 368.7,1076.1 368.8,1076.4 M368.8,1076.6 C368.8,1076.8 369.0,1077.3 369.0,1078.1 C369.0,1078.8 369.0,1080.0 368.7,1081.1 C368.4,1082.2 368.0,1083.6 367.3,1084.7 C366.6,1085.9 365.6,1087.1 364.3,1087.9 C363.0,1088.8 361.3,1089.5 359.5,1089.8 C357.6,1090.0 355.4,1090.0 353.0,1089.5 C350.7,1089.0 348.1,1088.1 345.5,1086.7 C343.0,1085.4 340.2,1083.6 337.8,1081.5 C335.3,1079.5 332.7,1076.9 330.6,1074.4 C328.5,1071.8 326.5,1068.9 325.0,1066.1 C323.5,1063.3 322.3,1060.4 321.7,1057.8 C321.0,1055.2 320.8,1052.7 321.1,1050.6 C321.4,1048.5 322.1,1046.7 323.3,1045.4 C324.5,1044.2 326.1,1043.3 328.0,1043.0 C329.9,1042.6 332.2,1042.8 334.6,1043.5 C337.0,1044.1 339.7,1045.3 342.2,1046.7 C344.8,1048.1 347.5,1050.0 349.9,1052.0 C352.3,1054.0 354.8,1056.3 356.8,1058.5 C358.9,1060.7 360.8,1063.1 362.4,1065.1 C363.9,1067.2 365.1,1069.2 366.1,1070.8 C367.1,1072.4 367.7,1073.8 368.1,1074.7 C368.6,1075.7 368.7,1076.1 368.8,1076.4 M368.8,1076.6 C368.8,1076.8 369.0,1077.3 368.9,1078.1 C368.9,1078.9 368.9,1080.1 368.5,1081.2 C368.2,1082.4 367.7,1083.8 366.8,1085.1 C365.9,1086.3 364.7,1087.7 363.2,1088.7 C361.7,1089.7 359.8,1090.6 357.6,1091.1 C355.5,1091.5 352.9,1091.7 350.3,1091.4 C347.6,1091.1 344.7,1090.4 341.8,1089.3 C338.9,1088.2 335.9,1086.6 333.1,1084.7 C330.3,1082.9 327.5,1080.5 325.2,1078.1 C322.8,1075.7 320.7,1072.9 319.1,1070.2 C317.5,1067.5 316.2,1064.6 315.6,1062.0 C314.9,1059.4 314.8,1056.8 315.1,1054.7 C315.5,1052.6 316.5,1050.6 317.9,1049.2 C319.2,1047.8 321.2,1046.7 323.3,1046.2 C325.5,1045.7 328.2,1045.6 330.9,1046.0 C333.5,1046.4 336.6,1047.4 339.4,1048.6 C342.3,1049.8 345.4,1051.5 348.1,1053.3 C350.8,1055.1 353.5,1057.2 355.8,1059.3 C358.1,1061.3 360.1,1063.5 361.8,1065.5 C363.5,1067.4 364.9,1069.4 365.9,1070.9 C367.0,1072.5 367.6,1073.8 368.1,1074.7 C368.6,1075.7 368.7,1076.1 368.8,1076.4 M368.8,1076.6 C368.8,1076.8 369.0,1077.3 368.9,1078.1 C368.9,1078.9 368.8,1080.1 368.4,1081.4 C368.0,1082.6 367.4,1084.1 366.4,1085.5 C365.4,1086.8 364.1,1088.3 362.4,1089.5 C360.7,1090.6 358.6,1091.7 356.2,1092.4 C353.8,1093.1 351.0,1093.5 348.2,1093.4 C345.3,1093.4 342.0,1092.9 338.9,1092.1 C335.8,1091.2 332.5,1089.8 329.5,1088.2 C326.5,1086.5 323.5,1084.4 321.0,1082.1 C318.5,1079.8 316.2,1077.2 314.5,1074.6 C312.8,1072.0 311.5,1069.1 310.8,1066.5 C310.2,1064.0 310.1,1061.3 310.6,1059.1 C311.0,1056.9 312.1,1054.8 313.7,1053.2 C315.2,1051.6 317.4,1050.4 319.7,1049.6 C322.1,1048.9 325.0,1048.6 328.0,1048.8 C330.9,1049.0 334.2,1049.6 337.3,1050.6 C340.4,1051.6 343.7,1053.1 346.7,1054.6 C349.6,1056.2 352.5,1058.2 354.9,1060.0 C357.4,1061.9 359.6,1064.0 361.4,1065.9 C363.2,1067.7 364.7,1069.6 365.8,1071.1 C366.9,1072.5 367.6,1073.9 368.1,1074.8 C368.6,1075.7 368.7,1076.2 368.8,1076.4 M368.8,1076.6 C368.8,1076.8 369.0,1077.3 368.9,1078.2 C368.8,1079.0 368.8,1080.2 368.3,1081.5 C367.8,1082.8 367.2,1084.4 366.1,1085.9 C365.0,1087.3 363.6,1089.0 361.8,1090.3 C360.0,1091.6 357.8,1092.9 355.2,1093.8 C352.7,1094.7 349.8,1095.4 346.7,1095.6 C343.7,1095.7 340.2,1095.6 337.0,1094.9 C333.7,1094.3 330.2,1093.2 327.0,1091.8 C323.9,1090.3 320.7,1088.4 318.1,1086.3 C315.5,1084.2 313.1,1081.7 311.3,1079.2 C309.6,1076.7 308.3,1073.8 307.6,1071.3 C307.0,1068.7 306.9,1066.0 307.4,1063.7 C308.0,1061.4 309.2,1059.1 310.8,1057.4 C312.4,1055.7 314.7,1054.2 317.3,1053.2 C319.8,1052.3 322.9,1051.8 326.0,1051.7 C329.1,1051.6 332.6,1052.0 335.9,1052.7 C339.2,1053.5 342.6,1054.7 345.7,1056.0 C348.8,1057.4 351.8,1059.2 354.4,1060.9 C357.0,1062.6 359.3,1064.5 361.2,1066.3 C363.1,1068.0 364.5,1069.8 365.7,1071.2 C366.8,1072.6 367.5,1073.9 368.1,1074.8 C368.6,1075.7 368.7,1076.2 368.8,1076.4 M368.8,1076.6 C368.8,1076.8 369.0,1077.3 368.9,1078.2 C368.8,1079.0 368.7,1080.3 368.2,1081.6 C367.8,1083.0 367.1,1084.7 366.0,1086.3 C364.9,1087.9 363.4,1089.7 361.5,1091.2 C359.7,1092.7 357.3,1094.2 354.7,1095.3 C352.2,1096.4 349.1,1097.3 346.0,1097.7 C342.8,1098.2 339.3,1098.3 335.9,1097.9 C332.6,1097.5 329.0,1096.7 325.8,1095.5 C322.5,1094.3 319.3,1092.6 316.6,1090.6 C314.0,1088.7 311.5,1086.3 309.7,1083.9 C307.9,1081.5 306.6,1078.7 306.0,1076.1 C305.3,1073.5 305.2,1070.8 305.8,1068.4 C306.4,1066.0 307.6,1063.6 309.3,1061.7 C311.0,1059.8 313.4,1058.1 316.0,1056.9 C318.6,1055.8 321.8,1055.0 325.0,1054.6 C328.2,1054.3 331.8,1054.4 335.1,1054.9 C338.5,1055.4 342.0,1056.4 345.2,1057.5 C348.4,1058.6 351.4,1060.2 354.1,1061.7 C356.7,1063.2 359.1,1065.1 361.0,1066.7 C363.0,1068.3 364.5,1070.0 365.6,1071.3 C366.8,1072.7 367.5,1074.0 368.0,1074.8 C368.6,1075.7 368.7,1076.2 368.8,1076.4 M368.8,1076.6 C368.8,1076.8 369.0,1077.3 368.9,1078.2 C368.8,1079.1 368.7,1080.4 368.2,1081.8 C367.8,1083.2 367.1,1085.0 366.0,1086.7 C364.9,1088.4 363.4,1090.3 361.5,1092.0 C359.6,1093.7 357.3,1095.4 354.7,1096.7 C352.1,1098.1 349.1,1099.3 345.9,1100.0 C342.8,1100.6 339.3,1101.0 335.9,1100.9 C332.5,1100.8 328.9,1100.2 325.7,1099.2 C322.5,1098.2 319.2,1096.7 316.6,1095.0 C313.9,1093.2 311.4,1091.0 309.6,1088.6 C307.9,1086.3 306.5,1083.6 305.9,1081.0 C305.2,1078.4 305.2,1075.6 305.7,1073.2 C306.3,1070.7 307.5,1068.1 309.2,1066.1 C310.9,1064.0 313.3,1062.1 315.9,1060.7 C318.6,1059.3 321.7,1058.2 324.9,1057.6 C328.1,1057.0 331.7,1056.9 335.1,1057.1 C338.5,1057.3 342.0,1058.1 345.2,1059.0 C348.3,1059.9 351.4,1061.2 354.1,1062.6 C356.7,1063.9 359.1,1065.6 361.0,1067.1 C362.9,1068.6 364.5,1070.2 365.6,1071.5 C366.8,1072.8 367.5,1074.0 368.0,1074.8 C368.6,1075.7 368.7,1076.2 368.8,1076.4 M368.8,1076.6 C368.8,1076.8 369.0,1077.3 368.9,1078.2 C368.8,1079.1 368.8,1080.5 368.3,1081.9 C367.8,1083.4 367.2,1085.3 366.1,1087.1 C365.0,1088.9 363.6,1091.0 361.8,1092.9 C360.0,1094.7 357.7,1096.7 355.2,1098.2 C352.6,1099.8 349.7,1101.2 346.6,1102.1 C343.5,1103.1 340.1,1103.7 336.8,1103.9 C333.5,1104.0 330.0,1103.7 326.8,1102.9 C323.7,1102.2 320.5,1100.9 317.9,1099.3 C315.3,1097.7 312.8,1095.6 311.1,1093.4 C309.3,1091.1 308.0,1088.5 307.4,1085.9 C306.7,1083.3 306.6,1080.5 307.2,1077.9 C307.7,1075.3 308.9,1072.6 310.6,1070.4 C312.2,1068.1 314.5,1066.0 317.1,1064.4 C319.6,1062.8 322.7,1061.4 325.9,1060.6 C329.0,1059.8 332.5,1059.3 335.8,1059.3 C339.1,1059.3 342.5,1059.7 345.6,1060.4 C348.7,1061.1 351.7,1062.3 354.3,1063.4 C356.9,1064.6 359.3,1066.1 361.1,1067.5 C363.0,1068.9 364.5,1070.4 365.7,1071.6 C366.8,1072.9 367.5,1074.1 368.1,1074.9 C368.6,1075.7 368.7,1076.2 368.8,1076.4 M368.8,1076.6 C368.8,1076.9 369.0,1077.3 368.9,1078.3 C368.8,1079.2 368.8,1080.5 368.4,1082.1 C368.0,1083.6 367.4,1085.6 366.4,1087.5 C365.3,1089.4 364.0,1091.7 362.3,1093.7 C360.6,1095.7 358.5,1097.9 356.1,1099.6 C353.7,1101.4 350.9,1103.1 348.0,1104.3 C345.1,1105.5 341.8,1106.4 338.7,1106.8 C335.5,1107.1 332.2,1107.1 329.1,1106.6 C326.1,1106.0 323.1,1105.0 320.6,1103.5 C318.1,1102.1 315.7,1100.1 314.0,1098.0 C312.4,1095.8 311.1,1093.2 310.4,1090.7 C309.7,1088.1 309.6,1085.2 310.1,1082.5 C310.6,1079.8 311.7,1077.0 313.3,1074.6 C314.8,1072.2 317.0,1069.9 319.4,1068.0 C321.8,1066.2 324.8,1064.6 327.7,1063.5 C330.7,1062.4 334.0,1061.7 337.1,1061.4 C340.3,1061.2 343.6,1061.4 346.5,1061.9 C349.5,1062.3 352.4,1063.3 354.9,1064.3 C357.3,1065.3 359.6,1066.6 361.4,1067.9 C363.2,1069.1 364.7,1070.6 365.8,1071.8 C366.9,1072.9 367.6,1074.1 368.1,1074.9 C368.6,1075.7 368.7,1076.2 368.8,1076.4 M368.8,1076.6 C368.8,1076.9 369.0,1077.3 368.9,1078.3 C368.9,1079.2 368.9,1080.6 368.5,1082.2 C368.1,1083.8 367.6,1085.8 366.7,1087.9 C365.8,1089.9 364.7,1092.3 363.1,1094.5 C361.6,1096.7 359.6,1099.0 357.4,1101.0 C355.3,1103.0 352.7,1104.9 350.0,1106.3 C347.3,1107.7 344.3,1108.9 341.4,1109.5 C338.5,1110.2 335.4,1110.4 332.6,1110.0 C329.8,1109.7 327.0,1108.8 324.6,1107.6 C322.3,1106.3 320.1,1104.5 318.5,1102.4 C316.9,1100.4 315.6,1097.8 314.9,1095.2 C314.3,1092.6 314.2,1089.7 314.5,1086.9 C314.9,1084.2 315.9,1081.2 317.3,1078.7 C318.7,1076.1 320.7,1073.6 322.9,1071.5 C325.1,1069.4 327.8,1067.6 330.5,1066.3 C333.2,1064.9 336.3,1064.0 339.2,1063.5 C342.1,1063.0 345.1,1063.0 347.9,1063.2 C350.6,1063.5 353.3,1064.2 355.7,1065.1 C358.0,1065.9 360.1,1067.1 361.8,1068.3 C363.5,1069.4 364.9,1070.8 365.9,1071.9 C367.0,1073.0 367.6,1074.2 368.1,1074.9 C368.6,1075.7 368.7,1076.2 368.8,1076.4 M368.8,1076.6 C368.8,1076.9 369.0,1077.3 369.0,1078.3 C369.0,1079.3 369.0,1080.7 368.7,1082.3 C368.4,1084.0 368.0,1086.1 367.2,1088.2 C366.5,1090.4 365.5,1092.9 364.2,1095.2 C362.8,1097.6 361.1,1100.1 359.2,1102.3 C357.3,1104.4 355.1,1106.6 352.7,1108.2 C350.3,1109.9 347.7,1111.3 345.1,1112.2 C342.5,1113.0 339.7,1113.4 337.2,1113.3 C334.7,1113.2 332.1,1112.5 329.9,1111.4 C327.8,1110.3 325.8,1108.5 324.3,1106.6 C322.8,1104.6 321.6,1102.1 320.9,1099.5 C320.3,1096.9 320.1,1093.9 320.4,1091.1 C320.6,1088.2 321.4,1085.2 322.6,1082.5 C323.8,1079.7 325.5,1077.0 327.4,1074.8 C329.3,1072.5 331.7,1070.4 334.1,1068.9 C336.5,1067.3 339.3,1066.1 341.9,1065.4 C344.5,1064.7 347.2,1064.4 349.7,1064.5 C352.2,1064.6 354.6,1065.1 356.7,1065.8 C358.8,1066.5 360.7,1067.6 362.3,1068.6 C363.8,1069.7 365.1,1071.0 366.1,1072.0 C367.1,1073.1 367.7,1074.2 368.1,1074.9 C368.6,1075.7 368.7,1076.2 368.8,1076.4 M368.8,1076.6 C368.8,1076.9 369.0,1077.3 369.0,1078.3 C369.0,1079.3 369.1,1080.7 368.9,1082.4 C368.7,1084.2 368.4,1086.3 367.9,1088.6 C367.3,1090.8 366.5,1093.4 365.4,1095.9 C364.4,1098.4 363.0,1101.1 361.4,1103.5 C359.8,1105.8 358.0,1108.2 356.0,1110.0 C354.0,1111.9 351.7,1113.5 349.5,1114.5 C347.3,1115.6 344.9,1116.2 342.7,1116.3 C340.6,1116.3 338.3,1115.8 336.4,1114.9 C334.5,1113.9 332.7,1112.3 331.4,1110.4 C330.0,1108.5 328.9,1106.0 328.2,1103.4 C327.6,1100.8 327.3,1097.8 327.4,1094.9 C327.6,1092.0 328.2,1088.8 329.1,1085.9 C330.0,1083.1 331.4,1080.2 333.0,1077.7 C334.6,1075.3 336.6,1073.0 338.6,1071.3 C340.6,1069.5 342.9,1068.1 345.1,1067.2 C347.4,1066.2 349.7,1065.8 351.9,1065.7 C354.0,1065.6 356.1,1065.9 358.0,1066.5 C359.8,1067.0 361.5,1068.0 362.9,1069.0 C364.3,1069.9 365.4,1071.1 366.3,1072.1 C367.2,1073.1 367.7,1074.2 368.2,1075.0 C368.6,1075.7 368.7,1076.2 368.8,1076.4 M368.8,1076.6 C368.9,1076.9 369.0,1077.3 369.1,1078.3 C369.1,1079.3 369.2,1080.8 369.2,1082.6 C369.1,1084.3 369.0,1086.5 368.6,1088.9 C368.2,1091.2 367.7,1093.9 366.9,1096.5 C366.1,1099.1 365.2,1102.0 364.0,1104.5 C362.8,1107.0 361.3,1109.6 359.8,1111.6 C358.3,1113.6 356.5,1115.5 354.7,1116.7 C352.9,1117.9 351.0,1118.7 349.2,1119.0 C347.4,1119.2 345.6,1118.8 344.0,1118.0 C342.4,1117.1 340.8,1115.6 339.6,1113.8 C338.4,1111.9 337.4,1109.5 336.7,1106.9 C336.1,1104.3 335.7,1101.3 335.7,1098.3 C335.7,1095.3 336.0,1092.0 336.7,1089.1 C337.3,1086.1 338.3,1083.0 339.5,1080.4 C340.7,1077.8 342.2,1075.4 343.8,1073.4 C345.3,1071.5 347.2,1069.9 349.0,1068.8 C350.7,1067.6 352.7,1067.0 354.4,1066.7 C356.2,1066.4 357.9,1066.7 359.5,1067.1 C361.0,1067.5 362.4,1068.4 363.6,1069.3 C364.8,1070.1 365.8,1071.3 366.5,1072.2 C367.3,1073.2 367.8,1074.3 368.2,1075.0 C368.6,1075.7 368.7,1076.2 368.8,1076.4" fill="none" stroke="#e8282b" stroke-width="1.35" stroke-linejoin="round" stroke-linecap="round"/>
<path d="M415.0,1040.0 C420.0,1037.0 434.2,1026.3 445.0,1022.0 C455.8,1017.7 467.2,1016.2 480.0,1014.0 C492.8,1011.8 513.0,1009.5 522.0,1009.0 C531.0,1008.5 534.3,1009.7 534.0,1011.0 C533.7,1012.3 528.2,1013.8 520.0,1017.0 C511.8,1020.2 496.7,1025.8 485.0,1030.0 C473.3,1034.2 460.0,1038.3 450.0,1042.0 C440.0,1045.7 429.2,1050.3 425.0,1052.0 M415.0,1040.0 C420.0,1036.7 434.2,1024.5 445.0,1020.0 C455.8,1015.5 469.2,1014.3 480.0,1013.0 C490.8,1011.7 502.6,1011.8 509.5,1012.0 C516.4,1012.2 521.9,1012.7 521.5,1014.0 C521.2,1015.3 513.6,1017.2 507.5,1020.0 C501.4,1022.8 494.6,1027.0 485.0,1031.0 C475.4,1035.0 460.0,1040.5 450.0,1044.0 C440.0,1047.5 429.2,1050.7 425.0,1052.0 M415.0,1040.0 C420.0,1036.3 434.2,1022.7 445.0,1018.0 C455.8,1013.3 471.3,1012.5 480.0,1012.0 C488.7,1011.5 492.2,1014.2 497.0,1015.0 C501.9,1015.8 509.4,1015.7 509.0,1017.0 C508.7,1018.3 499.0,1020.5 495.0,1023.0 C491.0,1025.5 492.5,1028.2 485.0,1032.0 C477.5,1035.8 460.0,1042.7 450.0,1046.0 C440.0,1049.3 429.2,1051.0 425.0,1052.0 M415.0,1040.0 C420.0,1036.0 434.2,1020.8 445.0,1016.0 C455.8,1011.2 473.4,1010.7 480.0,1011.0 C486.6,1011.3 481.8,1016.5 484.6,1018.0 C487.3,1019.5 496.9,1018.7 496.6,1020.0 C496.2,1021.3 484.5,1023.8 482.6,1026.0 C480.6,1028.2 490.4,1029.3 485.0,1033.0 C479.6,1036.7 460.0,1044.8 450.0,1048.0 C440.0,1051.2 429.2,1051.3 425.0,1052.0" fill="none" stroke="#e8282b" stroke-width="1.25" stroke-linejoin="round" stroke-linecap="round"/>
<path d="M370.9,1098.9 C371.1,1100.6 371.6,1105.5 371.9,1108.7 C372.2,1111.8 372.5,1115.1 372.8,1117.9 C373.1,1120.7 373.4,1123.4 373.6,1125.3 C373.8,1127.3 374.0,1129.0 374.1,1129.8 C374.2,1130.7 374.3,1131.1 374.3,1130.7 C374.3,1130.4 374.2,1129.3 374.1,1127.8 C374.0,1126.2 373.8,1124.0 373.5,1121.4 C373.3,1118.9 373.0,1115.7 372.7,1112.4 C372.4,1109.2 372.1,1105.5 371.7,1102.1 C371.4,1098.6 371.0,1094.9 370.7,1091.6 C370.4,1088.4 370.1,1085.1 369.8,1082.4 C369.5,1079.7 369.3,1077.3 369.1,1075.5 C368.8,1073.6 368.7,1072.2 368.6,1071.2 C368.4,1070.3 368.4,1070.0 368.3,1069.8 M375.4,1099.3 C376.1,1100.9 378.1,1106.0 379.6,1109.3 C381.1,1112.5 382.8,1115.9 384.4,1118.8 C386.0,1121.7 387.8,1124.4 389.3,1126.5 C390.9,1128.6 392.5,1130.3 393.8,1131.3 C395.1,1132.3 396.3,1132.7 397.2,1132.4 C398.1,1132.2 398.8,1131.2 399.2,1129.7 C399.5,1128.1 399.6,1125.9 399.4,1123.3 C399.1,1120.8 398.6,1117.6 397.8,1114.3 C397.0,1111.0 395.9,1107.3 394.7,1103.8 C393.4,1100.2 391.9,1096.5 390.4,1093.1 C388.9,1089.7 387.2,1086.4 385.5,1083.6 C383.9,1080.8 382.2,1078.3 380.7,1076.3 C379.1,1074.3 377.6,1072.8 376.3,1071.8 C375.0,1070.8 373.4,1070.4 372.9,1070.1 M380.0,1099.2 C381.2,1100.8 384.8,1105.8 387.5,1109.1 C390.1,1112.3 393.2,1115.6 396.2,1118.5 C399.2,1121.3 402.4,1124.0 405.3,1126.1 C408.2,1128.2 411.2,1129.8 413.7,1130.8 C416.3,1131.7 418.7,1132.1 420.5,1131.8 C422.3,1131.5 423.7,1130.5 424.6,1129.0 C425.4,1127.5 425.8,1125.2 425.5,1122.7 C425.3,1120.1 424.5,1116.9 423.2,1113.6 C421.9,1110.4 420.1,1106.7 417.9,1103.2 C415.8,1099.6 413.1,1095.9 410.4,1092.6 C407.6,1089.3 404.5,1086.0 401.5,1083.2 C398.5,1080.4 395.3,1077.9 392.4,1076.0 C389.5,1074.1 386.6,1072.6 384.1,1071.6 C381.6,1070.6 378.5,1070.2 377.4,1070.0 M384.4,1098.6 C386.1,1100.2 391.1,1105.0 394.9,1108.1 C398.8,1111.2 403.1,1114.4 407.4,1117.0 C411.7,1119.7 416.3,1122.3 420.5,1124.1 C424.8,1126.0 429.1,1127.5 432.8,1128.3 C436.5,1129.1 440.0,1129.4 442.6,1129.0 C445.3,1128.6 447.5,1127.5 448.8,1125.9 C450.1,1124.3 450.7,1122.0 450.5,1119.4 C450.3,1116.9 449.2,1113.7 447.5,1110.5 C445.7,1107.3 443.1,1103.7 440.1,1100.3 C437.1,1096.9 433.3,1093.3 429.4,1090.1 C425.5,1086.9 421.0,1083.8 416.7,1081.2 C412.4,1078.6 407.8,1076.3 403.6,1074.6 C399.5,1072.8 395.3,1071.5 391.6,1070.6 C388.0,1069.8 383.4,1069.6 381.8,1069.4 M388.3,1097.6 C390.5,1099.1 396.8,1103.6 401.6,1106.4 C406.5,1109.2 412.0,1112.1 417.4,1114.5 C422.8,1116.9 428.7,1119.1 434.1,1120.7 C439.5,1122.3 445.0,1123.5 449.8,1124.1 C454.5,1124.6 459.0,1124.6 462.4,1124.0 C465.9,1123.4 468.7,1122.2 470.5,1120.5 C472.2,1118.8 473.0,1116.4 472.8,1113.9 C472.6,1111.3 471.2,1108.2 469.1,1105.1 C466.9,1102.0 463.7,1098.6 459.9,1095.3 C456.1,1092.1 451.3,1088.8 446.4,1085.9 C441.5,1083.0 435.8,1080.1 430.3,1077.8 C424.9,1075.5 419.0,1073.5 413.7,1072.1 C408.3,1070.6 403.0,1069.6 398.3,1069.0 C393.6,1068.4 387.8,1068.5 385.7,1068.4 M391.5,1096.3 C394.1,1097.6 401.4,1101.7 407.1,1104.1 C412.8,1106.6 419.3,1109.1 425.6,1111.1 C432.0,1113.1 438.9,1114.9 445.3,1116.1 C451.6,1117.3 458.1,1118.1 463.7,1118.3 C469.3,1118.5 474.6,1118.1 478.7,1117.3 C482.7,1116.4 486.1,1114.9 488.2,1113.1 C490.3,1111.3 491.3,1108.8 491.1,1106.3 C490.8,1103.7 489.3,1100.7 486.8,1097.7 C484.4,1094.8 480.5,1091.5 476.1,1088.6 C471.7,1085.7 466.1,1082.7 460.3,1080.1 C454.5,1077.5 447.9,1075.1 441.5,1073.2 C435.1,1071.3 428.2,1069.7 421.9,1068.6 C415.6,1067.6 409.3,1066.9 403.8,1066.7 C398.3,1066.4 391.4,1067.0 388.9,1067.1 M393.8,1094.7 C396.7,1095.8 404.7,1099.3 411.0,1101.4 C417.3,1103.4 424.5,1105.5 431.6,1107.0 C438.6,1108.5 446.3,1109.8 453.3,1110.5 C460.3,1111.2 467.6,1111.5 473.8,1111.3 C479.9,1111.1 485.8,1110.3 490.4,1109.1 C494.9,1107.9 498.7,1106.2 501.0,1104.2 C503.3,1102.2 504.5,1099.7 504.2,1097.1 C504.0,1094.5 502.4,1091.6 499.7,1088.8 C496.9,1086.0 492.7,1083.1 487.8,1080.5 C483.0,1077.8 476.8,1075.2 470.4,1073.1 C464.0,1071.0 456.6,1069.0 449.5,1067.6 C442.4,1066.2 434.8,1065.1 427.8,1064.5 C420.8,1063.9 413.8,1063.8 407.7,1063.9 C401.6,1064.1 393.9,1065.2 391.2,1065.5 M395.1,1092.9 C398.1,1093.8 406.6,1096.8 413.2,1098.3 C419.9,1099.9 427.4,1101.4 434.9,1102.4 C442.3,1103.4 450.4,1104.1 457.8,1104.3 C465.2,1104.5 472.8,1104.2 479.3,1103.5 C485.8,1102.8 492.1,1101.6 496.9,1100.1 C501.7,1098.5 505.7,1096.5 508.1,1094.3 C510.6,1092.1 511.8,1089.5 511.6,1086.9 C511.3,1084.3 509.6,1081.5 506.7,1078.9 C503.9,1076.3 499.5,1073.7 494.3,1071.4 C489.2,1069.1 482.7,1067.0 475.9,1065.3 C469.2,1063.7 461.4,1062.3 454.0,1061.4 C446.5,1060.5 438.4,1060.0 431.1,1059.9 C423.8,1059.9 416.3,1060.3 409.9,1060.9 C403.5,1061.5 395.4,1063.3 392.5,1063.7 M395.2,1091.1 C398.3,1091.7 406.8,1094.1 413.5,1095.2 C420.2,1096.3 427.8,1097.2 435.3,1097.6 C442.8,1098.1 450.9,1098.2 458.4,1097.8 C465.8,1097.5 473.5,1096.6 480.1,1095.4 C486.6,1094.2 492.9,1092.6 497.8,1090.6 C502.6,1088.7 506.6,1086.4 509.1,1084.0 C511.5,1081.6 512.8,1078.8 512.5,1076.3 C512.3,1073.7 510.6,1071.0 507.7,1068.6 C504.8,1066.2 500.4,1063.9 495.2,1062.0 C490.0,1060.1 483.5,1058.4 476.7,1057.2 C469.9,1056.0 462.1,1055.3 454.6,1054.9 C447.0,1054.6 438.9,1054.7 431.5,1055.2 C424.1,1055.6 416.7,1056.6 410.2,1057.7 C403.7,1058.8 395.6,1061.2 392.6,1061.9 M394.3,1089.2 C397.2,1089.7 405.5,1091.4 411.9,1092.0 C418.3,1092.7 425.7,1093.0 432.9,1093.0 C440.1,1092.9 447.9,1092.4 455.1,1091.5 C462.3,1090.6 469.7,1089.2 476.0,1087.5 C482.3,1085.8 488.3,1083.7 493.0,1081.4 C497.6,1079.1 501.5,1076.4 503.9,1073.9 C506.2,1071.3 507.4,1068.4 507.2,1065.9 C506.9,1063.3 505.3,1060.7 502.5,1058.5 C499.7,1056.3 495.4,1054.3 490.4,1052.7 C485.5,1051.2 479.1,1050.0 472.6,1049.3 C466.1,1048.6 458.5,1048.4 451.3,1048.6 C444.1,1048.8 436.2,1049.5 429.1,1050.5 C422.0,1051.5 414.8,1053.0 408.6,1054.6 C402.4,1056.2 394.5,1059.1 391.7,1060.0 M392.3,1087.6 C395.0,1087.8 402.6,1089.0 408.5,1089.2 C414.4,1089.4 421.1,1089.2 427.7,1088.6 C434.4,1088.1 441.5,1087.0 448.1,1085.6 C454.7,1084.2 461.5,1082.3 467.3,1080.2 C473.1,1078.1 478.6,1075.5 482.8,1072.9 C487.1,1070.3 490.6,1067.3 492.8,1064.6 C494.9,1061.8 496.0,1058.8 495.7,1056.3 C495.5,1053.7 494.0,1051.2 491.4,1049.2 C488.8,1047.2 484.9,1045.4 480.3,1044.2 C475.7,1043.0 469.9,1042.2 463.9,1042.0 C457.9,1041.7 451.0,1042.0 444.3,1042.7 C437.7,1043.4 430.5,1044.7 424.0,1046.2 C417.5,1047.7 410.9,1049.7 405.2,1051.7 C399.5,1053.7 392.3,1057.3 389.7,1058.4 M389.4,1086.1 C391.7,1086.2 398.3,1086.9 403.5,1086.7 C408.6,1086.5 414.5,1086.0 420.2,1085.0 C425.9,1084.0 432.2,1082.5 437.9,1080.6 C443.6,1078.8 449.5,1076.5 454.5,1074.0 C459.5,1071.5 464.2,1068.5 467.9,1065.6 C471.6,1062.7 474.6,1059.5 476.4,1056.6 C478.3,1053.7 479.2,1050.7 479.0,1048.1 C478.7,1045.5 477.4,1043.1 475.1,1041.2 C472.8,1039.4 469.4,1037.9 465.4,1036.9 C461.4,1036.0 456.3,1035.6 451.1,1035.7 C445.9,1035.9 439.9,1036.6 434.1,1037.7 C428.3,1038.9 422.1,1040.6 416.4,1042.5 C410.8,1044.4 405.1,1046.9 400.1,1049.3 C395.2,1051.7 389.0,1055.7 386.8,1056.9" fill="none" stroke="#6abd45" stroke-width="1.3" stroke-linejoin="round" stroke-linecap="round"/>
<defs><radialGradient id="jg" cx="0.45" cy="0.4" r="0.6"><stop offset="0" stop-color="#f6e36a"/><stop offset="0.45" stop-color="#7ac06a"/><stop offset="1" stop-color="#1f6fb0"/></radialGradient><linearGradient id="pg" x1="0" y1="0" x2="1" y2="0"><stop offset="0" stop-color="#a9b455"/><stop offset="0.5" stop-color="#d3d592"/><stop offset="1" stop-color="#a9b455"/></linearGradient><linearGradient id="bg" x1="0" y1="0" x2="0" y2="1"><stop offset="0" stop-color="#5aa6dc"/><stop offset="1" stop-color="#1f6fb5"/></linearGradient></defs>
<circle cx="368.8" cy="1076.5" r="6.2" fill="url(#jg)"/>
<path d="M409.3,1146.3L430.0,1138.0L433.2,1144.2L413.5,1153.5Z" fill="url(#pg)"/>
<path d="M444.6,1145.2L437.3,1149.9 M449.7,1146.3L451.8,1154.6" stroke="#d5dde6" stroke-width="3" stroke-linecap="round"/>
<ellipse transform="translate(440,1140.2) rotate(14)" rx="7.6" ry="4.4" fill="url(#bg)"/>
<ellipse transform="translate(450.2,1141.3) rotate(-12)" rx="3" ry="4.2" fill="#e79a3f" stroke="#c97a25" stroke-width="0.5"/>
<path d="M430.0,1132.5L441.0,1129.0L444.0,1133.5L433.0,1136.5Z" fill="url(#pg)"/>
<path d="M457.5,1122.4L478.8,1115.7L481.9,1122.4L462.2,1129.7Z" fill="url(#pg)"/>
<path d="M489.0,1106.0L500.5,1102.3L502.5,1107.0L491.0,1111.0Z" fill="url(#pg)"/>
<path d="M493.3,1121.4L485,1126.6 M497.9,1123.5L500,1130.7" stroke="#d5dde6" stroke-width="3" stroke-linecap="round"/>
<ellipse transform="translate(487.3,1116.4) rotate(14)" rx="7.6" ry="4.4" fill="url(#bg)"/>
<ellipse transform="translate(497.9,1117.8) rotate(-12)" rx="3" ry="4.2" fill="#e79a3f" stroke="#c97a25" stroke-width="0.5"/>
<path d="M256.7,1163.9L256.7,979.8M256.7,1163.9L623.4,1265.3M623.4,1265.3L1085.7,990.1M256.7,979.8L623.4,1081.2M623.4,1081.2L623.4,1265.3M623.4,1081.2L1085.7,806.0M1085.7,806.0L1085.7,990.1M256.7,979.8L719.0,704.6M719.0,704.6L1085.7,806.0M336.2,1185.9L324.6,1192.8M431.9,1212.4L420.3,1219.3M527.7,1238.8L516.1,1245.7M623.4,1265.3L611.8,1272.2M656.4,1245.7L669.2,1249.2M721.4,1207.0L734.2,1210.5M786.4,1168.3L799.2,1171.8M851.4,1129.6L864.2,1133.1M916.4,1090.9L929.2,1094.4M981.4,1052.2L994.2,1055.7M1046.4,1013.5L1059.2,1017.0M256.7,1126.0L242.2,1122.0M256.7,1073.2L242.2,1069.2M256.7,1020.4L242.2,1016.4" fill="none" stroke="#1a1a1a" stroke-width="1.8" stroke-linecap="round"/>
<text transform="translate(-0.45,778.86) scale(1.0356,1)" font-size="73.61" fill="#1a1a1a">b</text>
<text transform="translate(201.16,1026.06) scale(0.9788,1)" font-size="24.08" fill="#1a1a1a">50</text>
<text transform="translate(210.67,1082.25) scale(1.0279,1)" font-size="24.93" fill="#1a1a1a">0</text>
<text transform="translate(187.83,1140.95) scale(0.9526,1)" font-size="25.07" fill="#1a1a1a">-50</text>
<text transform="translate(265.94,1231.80) scale(1.0340,1)" font-size="30.42" fill="#1a1a1a">0</text>
<text transform="translate(347.92,1264.20) scale(0.9620,1)" font-size="30.28" fill="#1a1a1a">100</text>
<text transform="translate(440.61,1284.89) scale(1.0375,1)" font-size="30.56" fill="#1a1a1a">200</text>
<text transform="translate(540.16,1311.69) scale(1.0165,1)" font-size="30.56" fill="#1a1a1a">300</text>
<text transform="translate(678.74,1285.20) scale(1.0340,1)" font-size="30.42" fill="#1a1a1a">0</text>
<text transform="translate(746.81,1242.49) scale(1.0093,1)" font-size="30.70" fill="#1a1a1a">-100</text>
<text transform="translate(811.79,1203.50) scale(1.0272,1)" font-size="30.42" fill="#1a1a1a">-200</text>
<text transform="translate(876.81,1164.69) scale(1.0093,1)" font-size="30.70" fill="#1a1a1a">-300</text>
<text transform="translate(941.90,1131.69) scale(1.0161,1)" font-size="30.70" fill="#1a1a1a">-400</text>
<text transform="translate(1002.88,1087.39) scale(1.0344,1)" font-size="30.56" fill="#1a1a1a">-500</text>
<text transform="translate(1065.59,1050.10) scale(1.0289,1)" font-size="30.42" fill="#1a1a1a">-600</text>
<text transform="translate(106.55,1075.10) scale(1.0244,1)" font-size="30.78" fill="#1a1a1a">Z/R</text>
<text transform="translate(157.64,1085.88) scale(0.9690,1)" font-size="31.71" fill="#1a1a1a">J</text>
<text transform="translate(307.26,1314.80) scale(1.0877,1)" font-size="30.78" fill="#1a1a1a">Y/R</text>
<text transform="translate(361.87,1319.69) scale(0.9157,1)" font-size="31.43" fill="#1a1a1a">J</text>
<text transform="translate(944.68,1223.60) scale(1.0732,1)" font-size="30.50" fill="#1a1a1a">X/R</text>
<text transform="translate(998.35,1227.79) scale(0.9643,1)" font-size="30.86" fill="#1a1a1a">J</text>
<text transform="translate(929.70,740.60) scale(1.0385,1)" font-size="34.04" font-weight="bold" fill="#111">Dawn</text>
<text transform="translate(1142.96,820.00) scale(1.0121,1)" font-size="34.04" font-weight="bold" fill="#111">Dusk</text>
<path d="M1045.4,750.9L1122.3,778.8" stroke="#231815" stroke-width="2.4"/>
<path d="M1139.8,785.1L1110.6,786.4L1122.3,778.8L1118.2,765.4ZM1027.9,744.6L1049.5,764.3L1045.4,750.9L1057.1,743.3Z" fill="#231815"/>
<text transform="translate(412.98,890.90) scale(1.0344,1)" font-size="30.00" font-weight="bold" fill="#231815">Polar</text>
<text transform="translate(391.23,912.20) scale(1.0477,1)" font-size="30.00" font-weight="bold" fill="#231815">(closed)</text>
<text transform="translate(492.56,941.00) scale(1.0444,1)" font-size="30.00" font-weight="bold" fill="#e8282b">Inner</text>
<text transform="translate(470.82,962.30) scale(1.0540,1)" font-size="30.00" font-weight="bold" fill="#e8282b">(closed)</text>
<text transform="translate(710.16,976.50) scale(1.0473,1)" font-size="30.00" font-weight="bold" fill="#2b5dae">Distant Lobe</text>
<text transform="translate(757.73,997.90) scale(1.0457,1)" font-size="30.00" font-weight="bold" fill="#2b5dae">(open)</text>
<text transform="translate(646.85,1182.90) scale(1.0667,1)" font-size="29.57" font-weight="bold" fill="#6abd45">IMF</text>
<text transform="translate(625.43,1205.10) scale(1.0643,1)" font-size="29.57" font-weight="bold" fill="#6abd45">(open)</text>
<text transform="translate(478.74,1188.70) scale(1.0321,1)" font-size="30.00" font-weight="bold" fill="#f5993b">Juno</text>
<text transform="translate(449.65,1210.90) scale(1.0503,1)" font-size="30.00" font-weight="bold" fill="#f5993b">Location</text>
<path d="M436.30,1151.50L436.30,1176.80L430.92,1176.80L430.92,1158.53L424.60,1162.35L424.60,1158.20L428.53,1155.62L432.16,1151.50Z" fill="#e8192c"/>
<text transform="translate(497.75,1153.00) scale(0.9896,1)" font-size="36.00" font-weight="bold" fill="#e8192c">2</text>
</g>
<g id="gen_c">
<text transform="translate(-0.55,1418.16) scale(1.0655,1)" font-size="74.00" fill="#1a1a1a">c</text>
<text transform="translate(576.07,1375.30) scale(1.0520,1)" font-size="38.86" font-weight="bold" fill="#1a1a1a">Sketch</text>
<text transform="translate(599.29,1430.70) scale(1.0116,1)" font-size="33.48" fill="#1a1a1a">Dusk</text>
<text transform="translate(598.21,2013.00) scale(1.0412,1)" font-size="33.48" fill="#1a1a1a">Dawn</text>
<text transform="translate(356.90,1773.13) rotate(-90) scale(1.0177,1)" font-size="33.50" fill="#1a1a1a">Midnight</text>
<text transform="translate(940.10,1751.53) rotate(-90) scale(0.9903,1)" font-size="34.50" fill="#1a1a1a">Noon</text>
<text transform="translate(938.82,1519.80) scale(1.0005,1)" font-size="32.20" fill="#1a1a1a">Juno Footprint</text>
<text transform="translate(939.29,1615.90) scale(1.0146,1)" font-size="32.20" fill="#1a1a1a">Main Emission</text>
<circle cx="640.6" cy="1715.0" r="271.3" fill="#f4eb93"/>
<g transform="translate(631.6,1673.8) rotate(-6.7)"><ellipse rx="147.6" ry="170.9" fill="#5d5b52"/><ellipse rx="142.9" ry="166.2" fill="#ee6336"/></g>
<g transform="translate(633,1672.4) rotate(-6.7)"><ellipse rx="126" ry="152" fill="#5d5b52"/><ellipse rx="121.4" ry="147.4" fill="#f4eb93"/></g>
<path d="M650.2,1567.7 C654.2,1568.6 659.9,1572.1 662.6,1575.7 C665.3,1579.3 666.4,1584.1 666.5,1589.3 C666.6,1594.5 665.0,1601.4 663.2,1607.1 C661.4,1612.8 658.5,1619.2 655.5,1623.7 C652.5,1628.2 648.4,1631.8 644.9,1634.3 C641.4,1636.8 637.3,1638.5 634.2,1638.8 C631.1,1639.1 628.7,1638.2 626.5,1636.1 C624.3,1634.0 622.6,1630.7 621.2,1626.1 C619.8,1621.5 618.0,1614.0 617.9,1608.3 C617.8,1602.6 618.9,1596.6 620.6,1591.7 C622.3,1586.8 625.3,1582.2 628.3,1578.7 C631.3,1575.2 634.8,1572.2 638.4,1570.4 C642.0,1568.6 646.2,1566.8 650.2,1567.7Z" fill="none" stroke="#4b4634" stroke-width="8.6"/>
<path d="M569.1,1579.5 C573.6,1580.2 580.0,1582.2 584.5,1586.0 C589.0,1589.8 593.2,1597.1 596.3,1602.4 C599.3,1607.7 601.5,1613.1 602.8,1617.8 C604.1,1622.5 604.5,1626.7 604.0,1630.8 C603.5,1634.9 602.2,1639.3 599.9,1642.6 C597.6,1645.8 594.1,1648.8 590.4,1650.3 C586.6,1651.8 581.8,1652.2 577.4,1651.5 C573.0,1650.8 568.8,1649.2 564.3,1646.2 C559.8,1643.2 553.6,1638.1 550.1,1633.2 C546.6,1628.3 544.2,1621.7 543.0,1616.6 C541.8,1611.5 542.0,1606.8 542.8,1602.4 C543.6,1598.1 545.4,1593.9 547.8,1590.5 C550.2,1587.1 553.7,1583.8 557.2,1582.0 C560.8,1580.2 564.6,1578.8 569.1,1579.5Z" fill="none" stroke="#4b4634" stroke-width="8.6"/>
<clipPath id="cres"><path d="M626.8,1626.5 C626.2,1626.0 625.8,1623.3 623.5,1623.3 C621.2,1623.3 616.5,1624.8 612.9,1626.3 C609.3,1627.8 605.6,1629.7 601.8,1632.1 C598.0,1634.5 593.9,1637.6 590.0,1640.9 C586.1,1644.2 582.1,1648.2 578.4,1652.0 C574.7,1655.8 571.0,1659.7 567.9,1664.0 C564.8,1668.3 561.9,1672.8 559.5,1678.0 C557.1,1683.2 555.0,1688.9 553.5,1695.0 C552.0,1701.1 550.1,1706.7 550.3,1714.6 C550.5,1722.5 551.8,1733.7 554.5,1742.5 C557.2,1751.3 561.4,1759.6 566.8,1767.4 C572.1,1775.2 579.2,1783.6 586.6,1789.6 C594.0,1795.6 602.1,1800.1 611.2,1803.2 C620.3,1806.3 631.1,1808.2 641.1,1808.2 C651.1,1808.2 661.9,1806.3 671.0,1803.2 C680.1,1800.1 687.9,1795.7 695.7,1789.7 C703.5,1783.7 712.5,1774.8 718.0,1767.4 C723.5,1760.0 726.8,1751.8 729.0,1745.2 C731.2,1738.6 731.9,1733.4 731.5,1727.9 C731.1,1722.4 729.1,1717.1 726.6,1712.2 C724.1,1707.3 719.7,1702.2 716.8,1698.8 C713.9,1695.4 710.5,1693.0 709.3,1691.8 L709.3,1691.8 C709.6,1693.2 710.4,1696.9 710.9,1700.0 C711.4,1703.1 712.2,1705.2 712.3,1710.3 C712.3,1715.4 712.9,1723.4 711.2,1730.5 C709.5,1737.6 706.7,1745.6 702.2,1752.7 C697.7,1759.8 691.1,1767.7 684.3,1772.9 C677.5,1778.1 668.7,1781.6 661.5,1784.0 C654.3,1786.4 648.3,1787.5 641.1,1787.5 C633.9,1787.5 625.8,1786.7 618.3,1783.8 C610.8,1780.9 602.5,1775.8 596.0,1770.2 C589.5,1764.6 583.5,1757.0 579.0,1750.0 C574.5,1743.0 571.2,1735.7 569.3,1728.2 C567.4,1720.8 567.4,1712.3 567.6,1705.3 C567.8,1698.3 569.0,1691.3 570.5,1686.0 C572.0,1680.7 574.0,1677.3 576.5,1673.5 C579.0,1669.7 582.8,1666.2 585.5,1663.3 C588.2,1660.4 589.8,1658.6 592.5,1655.9 C595.2,1653.2 598.3,1650.0 601.8,1647.4 C605.3,1644.8 610.0,1642.2 613.4,1640.2 C616.8,1638.2 619.8,1637.0 622.0,1635.4 C624.2,1633.8 625.6,1632.0 626.4,1630.5 C627.2,1629.0 626.7,1627.2 626.8,1626.5Z"/></clipPath>
<path d="M626.8,1626.5 C626.2,1626.0 625.8,1623.3 623.5,1623.3 C621.2,1623.3 616.5,1624.8 612.9,1626.3 C609.3,1627.8 605.6,1629.7 601.8,1632.1 C598.0,1634.5 593.9,1637.6 590.0,1640.9 C586.1,1644.2 582.1,1648.2 578.4,1652.0 C574.7,1655.8 571.0,1659.7 567.9,1664.0 C564.8,1668.3 561.9,1672.8 559.5,1678.0 C557.1,1683.2 555.0,1688.9 553.5,1695.0 C552.0,1701.1 550.1,1706.7 550.3,1714.6 C550.5,1722.5 551.8,1733.7 554.5,1742.5 C557.2,1751.3 561.4,1759.6 566.8,1767.4 C572.1,1775.2 579.2,1783.6 586.6,1789.6 C594.0,1795.6 602.1,1800.1 611.2,1803.2 C620.3,1806.3 631.1,1808.2 641.1,1808.2 C651.1,1808.2 661.9,1806.3 671.0,1803.2 C680.1,1800.1 687.9,1795.7 695.7,1789.7 C703.5,1783.7 712.5,1774.8 718.0,1767.4 C723.5,1760.0 726.8,1751.8 729.0,1745.2 C731.2,1738.6 731.9,1733.4 731.5,1727.9 C731.1,1722.4 729.1,1717.1 726.6,1712.2 C724.1,1707.3 719.7,1702.2 716.8,1698.8 C713.9,1695.4 710.5,1693.0 709.3,1691.8 L709.3,1691.8 C709.6,1693.2 710.4,1696.9 710.9,1700.0 C711.4,1703.1 712.2,1705.2 712.3,1710.3 C712.3,1715.4 712.9,1723.4 711.2,1730.5 C709.5,1737.6 706.7,1745.6 702.2,1752.7 C697.7,1759.8 691.1,1767.7 684.3,1772.9 C677.5,1778.1 668.7,1781.6 661.5,1784.0 C654.3,1786.4 648.3,1787.5 641.1,1787.5 C633.9,1787.5 625.8,1786.7 618.3,1783.8 C610.8,1780.9 602.5,1775.8 596.0,1770.2 C589.5,1764.6 583.5,1757.0 579.0,1750.0 C574.5,1743.0 571.2,1735.7 569.3,1728.2 C567.4,1720.8 567.4,1712.3 567.6,1705.3 C567.8,1698.3 569.0,1691.3 570.5,1686.0 C572.0,1680.7 574.0,1677.3 576.5,1673.5 C579.0,1669.7 582.8,1666.2 585.5,1663.3 C588.2,1660.4 589.8,1658.6 592.5,1655.9 C595.2,1653.2 598.3,1650.0 601.8,1647.4 C605.3,1644.8 610.0,1642.2 613.4,1640.2 C616.8,1638.2 619.8,1637.0 622.0,1635.4 C624.2,1633.8 625.6,1632.0 626.4,1630.5 C627.2,1629.0 626.7,1627.2 626.8,1626.5Z" fill="#49b97f"/>
<g clip-path="url(#cres)"><path d="M650.2,1567.7 C654.2,1568.6 659.9,1572.1 662.6,1575.7 C665.3,1579.3 666.4,1584.1 666.5,1589.3 C666.6,1594.5 665.0,1601.4 663.2,1607.1 C661.4,1612.8 658.5,1619.2 655.5,1623.7 C652.5,1628.2 648.4,1631.8 644.9,1634.3 C641.4,1636.8 637.3,1638.5 634.2,1638.8 C631.1,1639.1 628.7,1638.2 626.5,1636.1 C624.3,1634.0 622.6,1630.7 621.2,1626.1 C619.8,1621.5 618.0,1614.0 617.9,1608.3 C617.8,1602.6 618.9,1596.6 620.6,1591.7 C622.3,1586.8 625.3,1582.2 628.3,1578.7 C631.3,1575.2 634.8,1572.2 638.4,1570.4 C642.0,1568.6 646.2,1566.8 650.2,1567.7Z" fill="none" stroke="#1f4b37" stroke-width="8.6"/><path d="M569.1,1579.5 C573.6,1580.2 580.0,1582.2 584.5,1586.0 C589.0,1589.8 593.2,1597.1 596.3,1602.4 C599.3,1607.7 601.5,1613.1 602.8,1617.8 C604.1,1622.5 604.5,1626.7 604.0,1630.8 C603.5,1634.9 602.2,1639.3 599.9,1642.6 C597.6,1645.8 594.1,1648.8 590.4,1650.3 C586.6,1651.8 581.8,1652.2 577.4,1651.5 C573.0,1650.8 568.8,1649.2 564.3,1646.2 C559.8,1643.2 553.6,1638.1 550.1,1633.2 C546.6,1628.3 544.2,1621.7 543.0,1616.6 C541.8,1611.5 542.0,1606.8 542.8,1602.4 C543.6,1598.1 545.4,1593.9 547.8,1590.5 C550.2,1587.1 553.7,1583.8 557.2,1582.0 C560.8,1580.2 564.6,1578.8 569.1,1579.5Z" fill="none" stroke="#1f4b37" stroke-width="8.6"/></g>
<path d="M626.8,1626.5 C626.2,1626.0 625.8,1623.3 623.5,1623.3 C621.2,1623.3 616.5,1624.8 612.9,1626.3 C609.3,1627.8 605.6,1629.7 601.8,1632.1 C598.0,1634.5 593.9,1637.6 590.0,1640.9 C586.1,1644.2 582.1,1648.2 578.4,1652.0 C574.7,1655.8 571.0,1659.7 567.9,1664.0 C564.8,1668.3 561.9,1672.8 559.5,1678.0 C557.1,1683.2 555.0,1688.9 553.5,1695.0 C552.0,1701.1 550.1,1706.7 550.3,1714.6 C550.5,1722.5 551.8,1733.7 554.5,1742.5 C557.2,1751.3 561.4,1759.6 566.8,1767.4 C572.1,1775.2 579.2,1783.6 586.6,1789.6 C594.0,1795.6 602.1,1800.1 611.2,1803.2 C620.3,1806.3 631.1,1808.2 641.1,1808.2 C651.1,1808.2 661.9,1806.3 671.0,1803.2 C680.1,1800.1 687.9,1795.7 695.7,1789.7 C703.5,1783.7 712.5,1774.8 718.0,1767.4 C723.5,1760.0 726.8,1751.8 729.0,1745.2 C731.2,1738.6 731.9,1733.4 731.5,1727.9 C731.1,1722.4 729.1,1717.1 726.6,1712.2 C724.1,1707.3 719.7,1702.2 716.8,1698.8 C713.9,1695.4 710.5,1693.0 709.3,1691.8 L709.3,1691.8 C709.6,1693.2 710.4,1696.9 710.9,1700.0 C711.4,1703.1 712.2,1705.2 712.3,1710.3 C712.3,1715.4 712.9,1723.4 711.2,1730.5 C709.5,1737.6 706.7,1745.6 702.2,1752.7 C697.7,1759.8 691.1,1767.7 684.3,1772.9 C677.5,1778.1 668.7,1781.6 661.5,1784.0 C654.3,1786.4 648.3,1787.5 641.1,1787.5 C633.9,1787.5 625.8,1786.7 618.3,1783.8 C610.8,1780.9 602.5,1775.8 596.0,1770.2 C589.5,1764.6 583.5,1757.0 579.0,1750.0 C574.5,1743.0 571.2,1735.7 569.3,1728.2 C567.4,1720.8 567.4,1712.3 567.6,1705.3 C567.8,1698.3 569.0,1691.3 570.5,1686.0 C572.0,1680.7 574.0,1677.3 576.5,1673.5 C579.0,1669.7 582.8,1666.2 585.5,1663.3 C588.2,1660.4 589.8,1658.6 592.5,1655.9 C595.2,1653.2 598.3,1650.0 601.8,1647.4 C605.3,1644.8 610.0,1642.2 613.4,1640.2 C616.8,1638.2 619.8,1637.0 622.0,1635.4 C624.2,1633.8 625.6,1632.0 626.4,1630.5 C627.2,1629.0 626.7,1627.2 626.8,1626.5Z" fill="none" stroke="#1a171a" stroke-width="3" stroke-linejoin="round"/>
<circle cx="641.4" cy="1737.5" r="43.75" fill="#f7a431" stroke="#1a171a" stroke-width="3"/>
<path d="M599.8,1681.7 C600.0,1679.9 600.9,1678.3 602.8,1676.3 C604.7,1674.3 607.8,1671.6 611.3,1669.6 C614.8,1667.6 619.0,1665.4 623.5,1664.1 C628.0,1662.8 633.3,1661.7 638.2,1661.6 C643.1,1661.5 648.4,1662.3 652.9,1663.5 C657.4,1664.7 661.9,1667.1 665.1,1669.0 C668.3,1670.9 670.7,1673.0 672.3,1674.9 C673.9,1676.8 674.3,1678.6 674.5,1680.4 C674.7,1682.2 674.3,1684.4 673.4,1685.8 C672.5,1687.2 670.7,1688.3 669.1,1688.9 C667.5,1689.5 666.0,1689.8 663.6,1689.5 C661.2,1689.2 658.8,1687.8 654.9,1687.0 C651.0,1686.2 644.8,1684.4 640.5,1684.4 C636.2,1684.4 632.3,1685.8 628.9,1687.0 C625.5,1688.2 622.5,1690.3 620.0,1691.5 C617.5,1692.7 616.3,1693.8 614.2,1693.9 C612.1,1694.0 609.6,1693.4 607.5,1692.2 C605.4,1691.0 603.0,1688.8 601.7,1687.0 C600.4,1685.2 599.6,1683.5 599.8,1681.7Z" fill="#2a81ba" stroke="#1a171a" stroke-width="3"/>
<path d="M647.20,1590.70L647.20,1612.80L642.05,1612.80L642.05,1596.84L636.00,1600.18L636.00,1596.56L639.76,1594.30L643.24,1590.70Z" fill="#e81a2c"/>
<text transform="translate(562.68,1624.00) scale(1.0116,1)" font-size="31.71" font-weight="bold" fill="#e81a2c">2</text>
<g fill="none" stroke="#6d7380" stroke-width="1.25" stroke-dasharray="8.2 8.9"><circle cx="640.6" cy="1715.0" r="45.2"/><circle cx="640.6" cy="1715.0" r="90.5"/><circle cx="640.6" cy="1715.0" r="135.8"/><circle cx="640.6" cy="1715.0" r="181.0"/><circle cx="640.6" cy="1715.0" r="226.2"/><circle cx="640.6" cy="1715.0" r="271.5"/><path d="M662.6,1715.0L911.9,1715.0"/><path d="M659.7,1726.0L875.6,1850.7"/><path d="M651.6,1734.1L776.2,1950.0"/><path d="M640.6,1737.0L640.6,1986.3"/><path d="M629.6,1734.1L505.0,1950.0"/><path d="M621.5,1726.0L405.6,1850.7"/><path d="M618.6,1715.0L369.3,1715.0"/><path d="M621.5,1704.0L405.6,1579.3"/><path d="M629.6,1695.9L504.9,1480.0"/><path d="M640.6,1693.0L640.6,1443.7"/><path d="M651.6,1695.9L776.2,1480.0"/><path d="M659.7,1704.0L875.6,1579.3"/></g>
<path d="M643.6,1715.0L653.1,1715.0M643.4,1716.1L652.1,1719.8M642.7,1717.1L649.4,1723.8M641.7,1717.8L645.4,1726.5M640.6,1718.0L640.6,1727.5M639.5,1717.8L635.8,1726.5M638.5,1717.1L631.8,1723.8M637.8,1716.1L629.1,1719.8M637.6,1715.0L628.1,1715.0M637.8,1713.9L629.1,1710.2M638.5,1712.9L631.8,1706.2M639.5,1712.2L635.8,1703.5M640.6,1712.0L640.6,1702.5M641.7,1712.2L645.4,1703.5M642.7,1712.9L649.4,1706.2M643.4,1713.9L652.1,1710.2" stroke="#6d7380" stroke-width="1" opacity="0.8"/>
<path d="M926.8,1511.5L685.1,1571.5" stroke="#000" stroke-width="2.5" fill="none"/><path d="M668.8,1575.6L686.8,1558.1L685.1,1571.5L692.9,1582.6Z" fill="#000"/>
<path d="M926.8,1612.9L793.6,1651.9" stroke="#000" stroke-width="2.5" fill="none"/><path d="M777.5,1656.6L794.8,1638.4L793.6,1651.9L801.9,1662.6Z" fill="#000"/>
<rect x="219.8" y="2076.2" width="153.6" height="38" rx="13" fill="#ede33b" stroke="#222" stroke-width="1.4"/>
<text transform="translate(247.62,2104.00) scale(0.9839,1)" font-size="30.00" fill="#222">Closed</text>
<rect x="393.4" y="2076.2" width="152.8" height="38" rx="13" fill="#0db08c" stroke="#222" stroke-width="1.4"/>
<text transform="translate(429.29,2104.00) scale(1.0464,1)" font-size="30.00" fill="#fff">Open</text>
<rect x="566.6" y="2076.2" width="228.8" height="38" rx="13" fill="#f9a248" stroke="#222" stroke-width="1.4"/>
<text transform="translate(582.87,2104.00) scale(1.0194,1)" font-size="30.00" fill="#222">Closed (polar)</text>
<rect x="817.1" y="2076.2" width="304.7" height="38" rx="13" fill="#0e75c1" stroke="#222" stroke-width="1.4"/>
<text transform="translate(845.41,2104.00) scale(1.0314,1)" font-size="30.00" fill="#fff">Open distant lobe</text>
</g>
</svg>
</body></html>
